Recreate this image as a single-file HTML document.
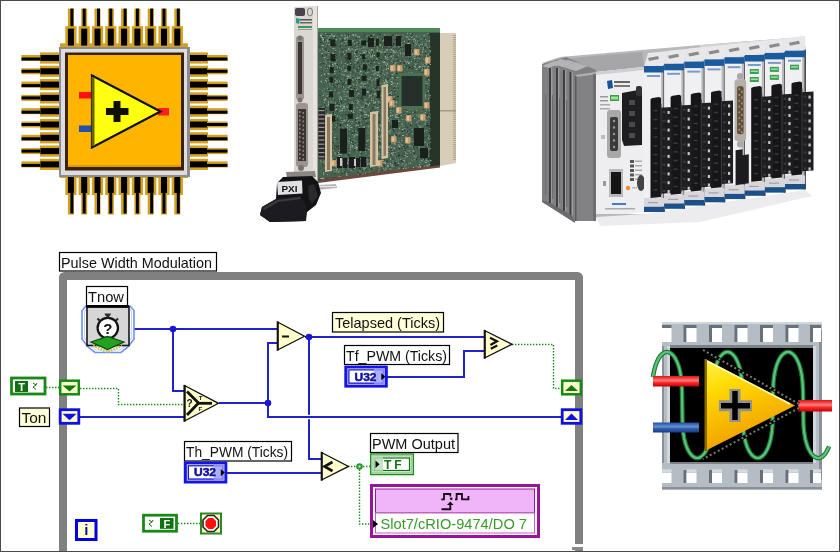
<!DOCTYPE html>
<html><head><meta charset="utf-8"><style>
html,body{margin:0;padding:0;background:#fff;}
#c{position:relative;width:840px;height:552px;overflow:hidden;background:#fff;}
svg{position:absolute;left:0;top:0;will-change:transform;}
text{font-family:"Liberation Sans",sans-serif;}
</style></head><body><div id="c">
<svg width="840" height="552" viewBox="0 0 840 552">
<g id="pxi">
<polygon points="440,33 456,33 456,163 440,166" fill="#d8cdb8"/>
<rect x="453" y="35.0" width="3" height="1" fill="#b0a080"/>
<rect x="453" y="37.1" width="3" height="1" fill="#b0a080"/>
<rect x="453" y="39.2" width="3" height="1" fill="#b0a080"/>
<rect x="453" y="41.3" width="3" height="1" fill="#b0a080"/>
<rect x="453" y="43.4" width="3" height="1" fill="#b0a080"/>
<rect x="453" y="45.5" width="3" height="1" fill="#b0a080"/>
<rect x="453" y="47.6" width="3" height="1" fill="#b0a080"/>
<rect x="453" y="49.7" width="3" height="1" fill="#b0a080"/>
<rect x="453" y="51.8" width="3" height="1" fill="#b0a080"/>
<rect x="453" y="53.9" width="3" height="1" fill="#b0a080"/>
<rect x="453" y="56.0" width="3" height="1" fill="#b0a080"/>
<rect x="453" y="58.1" width="3" height="1" fill="#b0a080"/>
<rect x="453" y="60.2" width="3" height="1" fill="#b0a080"/>
<rect x="453" y="62.3" width="3" height="1" fill="#b0a080"/>
<rect x="453" y="64.4" width="3" height="1" fill="#b0a080"/>
<rect x="453" y="66.5" width="3" height="1" fill="#b0a080"/>
<rect x="453" y="68.6" width="3" height="1" fill="#b0a080"/>
<rect x="453" y="70.7" width="3" height="1" fill="#b0a080"/>
<rect x="453" y="72.8" width="3" height="1" fill="#b0a080"/>
<rect x="453" y="74.9" width="3" height="1" fill="#b0a080"/>
<rect x="453" y="77.0" width="3" height="1" fill="#b0a080"/>
<rect x="453" y="79.1" width="3" height="1" fill="#b0a080"/>
<rect x="453" y="81.2" width="3" height="1" fill="#b0a080"/>
<rect x="453" y="83.3" width="3" height="1" fill="#b0a080"/>
<rect x="453" y="85.4" width="3" height="1" fill="#b0a080"/>
<rect x="453" y="87.5" width="3" height="1" fill="#b0a080"/>
<rect x="453" y="89.6" width="3" height="1" fill="#b0a080"/>
<rect x="453" y="91.7" width="3" height="1" fill="#b0a080"/>
<rect x="453" y="93.8" width="3" height="1" fill="#b0a080"/>
<rect x="453" y="95.9" width="3" height="1" fill="#b0a080"/>
<rect x="453" y="98.0" width="3" height="1" fill="#b0a080"/>
<rect x="453" y="100.1" width="3" height="1" fill="#b0a080"/>
<rect x="453" y="102.2" width="3" height="1" fill="#b0a080"/>
<rect x="453" y="104.3" width="3" height="1" fill="#b0a080"/>
<rect x="453" y="106.4" width="3" height="1" fill="#b0a080"/>
<rect x="453" y="108.5" width="3" height="1" fill="#b0a080"/>
<rect x="453" y="110.6" width="3" height="1" fill="#b0a080"/>
<rect x="453" y="112.7" width="3" height="1" fill="#b0a080"/>
<rect x="453" y="114.8" width="3" height="1" fill="#b0a080"/>
<rect x="453" y="116.9" width="3" height="1" fill="#b0a080"/>
<rect x="453" y="119.0" width="3" height="1" fill="#b0a080"/>
<rect x="453" y="121.1" width="3" height="1" fill="#b0a080"/>
<rect x="453" y="123.2" width="3" height="1" fill="#b0a080"/>
<rect x="453" y="125.3" width="3" height="1" fill="#b0a080"/>
<rect x="453" y="127.4" width="3" height="1" fill="#b0a080"/>
<rect x="453" y="129.5" width="3" height="1" fill="#b0a080"/>
<rect x="453" y="131.6" width="3" height="1" fill="#b0a080"/>
<rect x="453" y="133.7" width="3" height="1" fill="#b0a080"/>
<rect x="453" y="135.8" width="3" height="1" fill="#b0a080"/>
<rect x="453" y="137.9" width="3" height="1" fill="#b0a080"/>
<rect x="453" y="140.0" width="3" height="1" fill="#b0a080"/>
<rect x="453" y="142.1" width="3" height="1" fill="#b0a080"/>
<rect x="453" y="144.2" width="3" height="1" fill="#b0a080"/>
<rect x="453" y="146.3" width="3" height="1" fill="#b0a080"/>
<rect x="453" y="148.4" width="3" height="1" fill="#b0a080"/>
<rect x="453" y="150.5" width="3" height="1" fill="#b0a080"/>
<rect x="453" y="152.6" width="3" height="1" fill="#b0a080"/>
<rect x="453" y="154.7" width="3" height="1" fill="#b0a080"/>
<rect x="453" y="156.8" width="3" height="1" fill="#b0a080"/>
<rect x="453" y="158.9" width="3" height="1" fill="#b0a080"/>
<rect x="440" y="110" width="16" height="1.5" fill="#a89880"/>
<polygon points="318,28 440,28 440,166 318,182" fill="#46624e"/>
<polygon points="318,28 440,28 440,32 318,32" fill="#4e8a56"/>
<polygon points="318,179 440,164 440,167.5 318,183" fill="#6a4a3e"/>
<polygon points="430,33 440,33 440,165 430,166.5" fill="#26342a"/>
<path fill="#8fa896" d="M367.1 42.8h1v1.5h-1zM335.8 58.3h1v1h-1zM372.8 115.0h1v1h-1zM392.0 81.0h1v1h-1zM426.9 46.9h1v1h-1zM408.2 167.2h1v1h-1zM409.7 52.4h1v1.5h-1zM418.6 98.0h1v1h-1zM365.2 85.7h1v1h-1zM402.9 148.8h1v1h-1zM367.4 77.2h1v1.5h-1zM409.1 118.0h1v1h-1zM329.1 67.6h1v1h-1zM413.2 150.2h1v1h-1zM366.2 140.0h1.5v1.5h-1.5zM345.1 68.2h1.5v1h-1.5zM386.7 156.3h1.5v1.5h-1.5zM321.6 119.8h1.5v1h-1.5zM422.4 76.8h1v1.5h-1zM404.3 74.8h1.5v1h-1.5zM409.1 136.3h1v1.5h-1zM389.8 130.4h1v1h-1zM359.9 52.9h1v1h-1zM411.9 38.8h1.5v1h-1.5zM347.2 124.0h1v1h-1zM359.4 39.7h1.5v1h-1.5zM400.4 66.8h1v1h-1zM378.0 89.3h1v1h-1zM338.5 176.0h1v1h-1zM388.1 43.7h1v1h-1zM367.4 106.3h1v1h-1zM329.6 167.2h1v1.5h-1zM396.0 101.3h1v1.5h-1zM405.4 85.6h1.5v1h-1.5zM392.2 82.6h1v1.5h-1zM340.3 135.2h1v1h-1zM352.3 33.9h1v1.5h-1zM392.7 151.9h1.5v1h-1.5zM339.5 37.9h1v1.5h-1zM418.4 116.8h1.5v1h-1.5zM388.8 130.4h1.5v1h-1.5zM353.5 136.3h1v1.5h-1zM385.3 80.5h1v1h-1zM365.1 55.7h1v1h-1zM368.1 104.0h1v1.5h-1zM409.0 78.2h1.5v1h-1.5zM398.3 144.1h1v1.5h-1zM393.2 96.2h1.5v1h-1.5zM331.5 83.2h1v1h-1zM356.0 59.7h1.5v1.5h-1.5zM355.1 71.2h1v1h-1zM426.9 151.2h1v1h-1zM358.7 116.9h1v1.5h-1zM342.1 160.8h1.5v1h-1.5zM364.6 50.0h1v1h-1zM346.7 39.3h1v1h-1zM394.2 45.5h1v1.5h-1zM322.3 131.9h1v1.5h-1zM420.3 130.9h1v1.5h-1zM398.5 67.7h1.5v1h-1.5zM331.4 143.2h1v1h-1zM395.6 34.7h1.5v1h-1.5zM382.2 73.0h1v1h-1zM419.9 148.5h1.5v1h-1.5zM345.6 106.2h1v1.5h-1zM340.4 97.0h1.5v1h-1.5zM378.8 128.5h1v1.5h-1zM321.7 177.7h1.5v1.5h-1.5zM388.5 65.5h1v1h-1zM327.2 151.3h1v1h-1zM339.9 109.9h1v1h-1zM377.1 163.5h1v1h-1zM419.0 85.0h1v1h-1zM394.8 114.6h1.5v1h-1.5zM329.0 82.1h1.5v1h-1.5zM375.0 65.2h1.5v1h-1.5zM410.6 122.3h1v1h-1zM389.4 133.3h1v1h-1zM356.8 86.8h1v1h-1zM404.5 49.0h1v1h-1zM330.3 45.8h1v1.5h-1zM410.5 59.9h1v1.5h-1zM380.1 136.5h1v1.5h-1zM421.1 107.1h1v1h-1zM364.1 135.1h1v1h-1zM414.8 42.6h1.5v1h-1.5zM412.4 53.4h1v1.5h-1zM371.2 140.1h1v1h-1zM358.9 126.4h1v1h-1zM399.7 105.7h1v1h-1zM341.0 98.6h1v1.5h-1zM379.5 44.5h1.5v1.5h-1.5zM380.9 94.9h1v1.5h-1zM393.5 136.1h1v1h-1zM353.3 84.0h1v1h-1zM396.6 42.8h1v1h-1zM362.3 167.2h1.5v1h-1.5zM402.9 146.6h1v1h-1zM330.7 139.8h1v1.5h-1zM333.9 34.9h1v1.5h-1zM320.0 154.0h1v1.5h-1zM388.3 154.6h1.5v1h-1.5zM382.5 160.1h1.5v1h-1.5zM406.4 153.2h1v1h-1zM387.3 95.8h1v1h-1zM428.2 155.4h1v1h-1zM397.4 67.4h1v1h-1zM417.8 139.3h1v1h-1zM413.9 140.7h1v1h-1zM347.6 105.5h1v1.5h-1zM390.4 89.5h1v1h-1zM429.7 117.6h1v1h-1zM391.0 55.4h1v1.5h-1zM341.0 35.1h1.5v1h-1.5zM319.4 66.5h1v1h-1zM365.3 100.1h1v1h-1zM345.7 69.9h1.5v1h-1.5zM404.4 44.9h1v1h-1zM376.7 53.1h1v1h-1zM330.9 150.5h1v1h-1zM325.3 33.0h1v1h-1zM423.6 34.7h1.5v1h-1.5zM386.1 65.2h1v1.5h-1zM349.3 152.2h1v1.5h-1zM323.2 41.1h1v1h-1zM406.8 110.8h1.5v1.5h-1.5zM385.7 79.4h1.5v1h-1.5zM390.4 76.6h1.5v1h-1.5zM347.8 105.1h1.5v1.5h-1.5zM371.6 142.6h1v1h-1zM393.3 126.6h1v1h-1zM333.3 36.2h1.5v1h-1.5zM428.1 90.2h1v1h-1zM349.3 41.7h1v1.5h-1zM350.2 164.0h1v1h-1zM384.0 112.2h1v1h-1zM345.3 95.8h1.5v1h-1.5zM384.1 59.6h1.5v1h-1.5zM395.7 53.9h1v1h-1zM405.6 167.7h1v1h-1zM359.4 145.5h1v1h-1zM425.6 63.3h1v1h-1zM368.8 62.8h1v1h-1zM354.6 157.0h1v1h-1zM408.2 56.6h1v1h-1zM343.1 167.3h1v1h-1zM421.2 118.3h1v1.5h-1zM381.5 61.6h1v1h-1zM405.6 92.7h1.5v1h-1.5zM380.6 86.1h1v1h-1zM374.3 93.5h1v1.5h-1zM371.1 157.0h1v1.5h-1zM321.7 154.6h1v1h-1zM425.2 44.0h1v1h-1zM377.5 100.7h1v1h-1zM396.4 102.0h1v1.5h-1zM348.0 75.3h1v1.5h-1zM384.9 168.7h1.5v1h-1.5zM394.2 128.2h1v1h-1zM345.9 173.0h1v1.5h-1zM350.3 71.7h1v1h-1zM357.6 124.9h1.5v1.5h-1.5zM356.7 78.4h1v1h-1zM355.8 125.0h1.5v1h-1.5zM356.5 133.9h1.5v1h-1.5zM425.4 62.4h1v1h-1zM371.3 97.7h1v1.5h-1zM349.1 137.9h1v1h-1zM428.1 74.6h1v1h-1zM383.1 161.9h1.5v1h-1.5zM357.4 36.5h1v1h-1zM368.2 115.8h1v1h-1zM332.1 59.0h1.5v1.5h-1.5zM363.8 114.4h1.5v1h-1.5zM427.1 143.8h1.5v1h-1.5zM420.9 131.1h1.5v1h-1.5zM408.8 139.4h1v1h-1zM353.6 50.5h1v1h-1zM343.2 65.5h1v1h-1zM358.0 78.1h1.5v1.5h-1.5zM395.7 49.4h1v1h-1zM421.6 106.9h1.5v1.5h-1.5zM362.6 78.2h1v1h-1zM323.8 88.6h1v1h-1zM339.2 80.6h1v1.5h-1zM411.6 146.7h1v1h-1zM367.3 104.4h1.5v1h-1.5zM412.3 140.9h1v1h-1zM367.3 91.5h1.5v1h-1.5zM332.5 158.5h1v1h-1zM411.2 61.1h1v1h-1zM395.8 108.2h1.5v1h-1.5zM398.0 162.4h1v1.5h-1zM407.3 121.4h1v1h-1zM345.7 119.3h1v1h-1zM329.2 84.5h1v1h-1zM323.2 171.9h1v1h-1zM396.3 40.7h1v1h-1zM422.4 82.5h1.5v1h-1.5zM355.7 45.8h1v1h-1zM363.4 168.6h1.5v1h-1.5zM378.2 71.5h1v1.5h-1zM425.2 93.7h1v1h-1zM418.9 66.4h1.5v1h-1.5zM421.8 119.6h1.5v1.5h-1.5zM390.1 157.7h1v1h-1zM325.5 139.0h1v1h-1zM424.3 114.7h1v1.5h-1zM396.2 107.9h1v1.5h-1zM330.8 122.2h1v1.5h-1zM352.1 133.9h1v1h-1zM398.7 127.6h1.5v1.5h-1.5zM378.7 76.0h1.5v1h-1.5zM321.5 140.2h1v1h-1zM421.0 160.1h1.5v1h-1.5zM357.0 76.8h1v1h-1zM353.1 165.0h1v1h-1zM427.8 116.1h1v1h-1zM332.8 109.4h1.5v1h-1.5zM403.1 128.4h1v1h-1zM377.6 139.1h1v1.5h-1zM356.0 56.1h1.5v1h-1.5zM422.3 83.1h1v1.5h-1zM420.4 156.3h1v1h-1zM416.6 40.1h1.5v1.5h-1.5zM357.6 174.1h1v1h-1zM339.8 105.8h1v1h-1zM394.9 151.6h1.5v1h-1.5zM343.9 34.8h1.5v1h-1.5zM373.3 94.8h1v1h-1zM425.0 153.3h1.5v1h-1.5zM386.5 81.7h1.5v1.5h-1.5zM351.4 164.6h1v1.5h-1zM429.7 95.1h1v1h-1zM419.4 44.1h1.5v1h-1.5zM404.4 104.0h1.5v1h-1.5zM363.4 137.6h1v1h-1zM357.4 67.7h1.5v1h-1.5zM334.1 108.0h1v1.5h-1zM347.4 75.8h1v1.5h-1zM359.5 49.6h1v1h-1zM319.2 50.2h1.5v1h-1.5zM422.4 154.4h1v1h-1zM387.1 155.0h1v1.5h-1zM396.2 51.1h1v1h-1zM384.6 116.9h1v1h-1zM403.9 40.8h1v1.5h-1zM350.8 89.0h1.5v1h-1.5zM372.8 93.9h1.5v1h-1.5zM334.6 39.2h1v1h-1zM410.5 91.2h1v1.5h-1zM392.6 55.2h1.5v1h-1.5zM408.5 43.0h1v1h-1zM372.6 170.2h1v1h-1zM341.0 128.9h1v1h-1zM404.3 165.8h1v1h-1zM387.7 37.2h1v1h-1zM380.2 140.0h1v1h-1zM376.2 94.6h1v1h-1zM349.6 148.7h1v1.5h-1zM383.5 82.3h1v1h-1zM392.7 50.0h1.5v1h-1.5zM320.6 80.9h1v1.5h-1zM363.4 131.3h1v1h-1zM337.5 161.7h1.5v1.5h-1.5zM334.9 63.0h1v1.5h-1zM366.1 167.1h1v1h-1zM391.6 164.0h1v1h-1zM364.6 86.7h1v1h-1zM378.4 101.3h1v1.5h-1zM335.8 104.9h1.5v1h-1.5zM385.5 63.3h1v1h-1zM387.7 97.1h1v1.5h-1zM408.7 61.7h1v1.5h-1zM379.3 50.3h1v1.5h-1zM348.2 54.9h1v1h-1zM323.3 174.3h1v1h-1zM411.1 37.0h1v1h-1zM326.8 173.9h1v1h-1zM371.9 158.0h1.5v1h-1.5zM396.8 69.4h1v1h-1zM322.9 108.2h1v1.5h-1zM428.5 58.7h1v1.5h-1zM383.6 170.0h1v1h-1zM347.0 76.0h1.5v1h-1.5zM341.4 110.0h1.5v1h-1.5zM336.5 166.8h1.5v1h-1.5zM390.6 118.8h1v1h-1zM369.4 52.6h1v1h-1zM415.8 109.8h1.5v1h-1.5zM330.7 101.1h1v1.5h-1zM368.9 52.5h1v1.5h-1zM326.6 154.0h1.5v1h-1.5zM411.8 122.9h1v1.5h-1zM352.3 40.3h1.5v1h-1.5zM320.4 134.2h1.5v1.5h-1.5zM372.6 87.9h1v1h-1zM400.2 80.1h1v1h-1zM344.8 88.6h1v1.5h-1zM389.1 35.4h1v1h-1zM425.7 109.6h1v1h-1zM401.5 55.0h1v1h-1zM352.3 93.9h1v1h-1zM402.8 80.8h1v1.5h-1zM395.5 68.4h1.5v1h-1.5zM424.0 130.7h1v1h-1zM343.2 151.1h1v1h-1zM386.8 56.9h1v1h-1zM331.4 115.7h1.5v1h-1.5zM377.5 54.8h1v1h-1zM391.0 80.9h1v1.5h-1zM328.1 148.5h1v1h-1zM331.1 59.9h1v1h-1zM400.4 78.0h1v1h-1zM384.5 105.7h1.5v1h-1.5zM386.2 35.8h1v1h-1zM357.3 88.6h1v1h-1zM332.5 53.2h1v1h-1zM425.7 75.3h1.5v1h-1.5zM418.3 116.0h1v1h-1zM421.3 84.5h1v1h-1zM323.0 152.0h1v1h-1zM424.2 63.3h1v1h-1zM331.3 124.4h1.5v1.5h-1.5zM344.8 41.8h1v1h-1zM343.0 51.5h1v1.5h-1zM330.9 55.0h1.5v1h-1.5zM398.4 111.0h1.5v1.5h-1.5zM394.8 143.8h1v1h-1zM376.8 121.2h1v1.5h-1zM332.2 57.1h1.5v1h-1.5zM386.7 165.3h1v1h-1zM404.5 96.7h1.5v1h-1.5zM328.6 65.9h1.5v1h-1.5zM423.0 93.7h1v1h-1zM408.3 39.0h1.5v1h-1.5zM418.4 114.8h1v1h-1zM358.7 76.8h1v1h-1zM410.2 35.8h1v1h-1zM417.0 96.4h1.5v1h-1.5zM365.2 125.8h1v1h-1zM361.4 65.5h1v1.5h-1zM359.3 154.3h1v1.5h-1zM325.1 152.0h1v1h-1zM366.0 103.4h1.5v1h-1.5zM420.1 65.9h1v1h-1zM403.8 125.4h1v1.5h-1zM338.5 170.4h1v1.5h-1zM358.6 58.3h1v1h-1zM411.5 96.2h1v1h-1zM425.2 57.3h1v1h-1zM359.9 151.3h1v1.5h-1zM413.0 39.0h1v1h-1zM370.0 77.0h1v1.5h-1zM397.9 42.4h1v1h-1zM389.4 92.4h1.5v1h-1.5zM387.9 152.1h1v1h-1zM424.3 65.5h1v1.5h-1zM396.2 52.5h1v1.5h-1zM360.8 153.0h1v1h-1zM387.5 98.4h1v1h-1zM389.5 168.5h1v1h-1zM427.5 137.1h1v1.5h-1zM427.9 53.7h1v1h-1zM344.2 71.1h1.5v1h-1.5zM424.9 39.1h1v1h-1zM423.9 78.6h1v1h-1zM332.6 48.1h1.5v1h-1.5zM326.9 126.0h1.5v1h-1.5zM364.2 64.6h1.5v1.5h-1.5zM422.4 48.9h1.5v1h-1.5zM376.7 115.3h1v1.5h-1zM424.6 95.3h1.5v1.5h-1.5zM327.9 37.6h1v1h-1zM352.7 66.0h1.5v1h-1.5zM344.2 54.0h1v1h-1zM399.9 158.8h1v1h-1zM363.0 52.1h1v1h-1zM427.9 160.8h1v1h-1zM398.9 112.7h1.5v1h-1.5zM320.6 161.3h1v1h-1zM343.4 105.5h1v1h-1zM400.0 80.2h1v1h-1zM409.2 97.4h1.5v1h-1.5zM403.1 97.1h1v1.5h-1zM358.1 139.2h1v1h-1zM417.7 142.2h1v1h-1zM391.5 152.0h1v1.5h-1zM373.2 102.4h1.5v1h-1.5zM386.6 145.1h1v1.5h-1zM369.1 102.5h1v1.5h-1zM339.9 154.0h1v1h-1zM362.5 49.9h1v1.5h-1zM397.2 109.0h1v1.5h-1zM361.9 53.6h1.5v1h-1.5zM393.4 147.2h1.5v1h-1.5zM392.1 154.1h1.5v1.5h-1.5zM344.7 103.5h1v1h-1zM322.2 37.1h1v1.5h-1zM397.9 55.3h1v1h-1zM417.0 130.7h1.5v1.5h-1.5zM399.0 67.6h1v1h-1zM326.1 113.9h1.5v1h-1.5zM359.7 120.3h1v1h-1zM379.2 146.1h1v1h-1zM364.4 99.0h1v1h-1zM363.5 149.0h1v1.5h-1zM340.7 158.3h1v1h-1zM346.8 124.5h1.5v1h-1.5z"/>
<path fill="#9ab4a0" d="M329.4 117.3h1v1h-1zM335.0 50.0h1v1h-1zM377.3 154.4h1.5v1h-1.5zM396.2 114.1h1.5v1h-1.5zM359.2 130.3h1v1h-1zM334.9 160.1h1.5v1h-1.5zM364.1 108.3h1.5v1h-1.5zM350.0 146.6h1v1.5h-1zM348.9 35.4h1v1h-1zM334.5 108.4h1v1h-1zM370.8 49.5h1v1h-1zM377.6 93.7h1v1h-1zM339.4 97.5h1v1h-1zM340.9 140.8h1v1.5h-1zM350.2 161.9h1v1h-1zM420.5 38.4h1v1h-1zM375.9 57.7h1v1h-1zM357.6 55.8h1v1h-1zM418.3 120.2h1v1h-1zM428.0 98.2h1v1h-1zM428.9 109.4h1v1h-1zM321.5 33.4h1v1h-1zM320.6 149.8h1v1.5h-1zM396.8 37.2h1v1h-1zM423.2 63.8h1v1h-1zM355.4 59.8h1v1h-1zM346.9 64.0h1v1h-1zM420.6 116.8h1v1h-1zM391.6 76.9h1.5v1.5h-1.5zM389.6 36.9h1v1h-1zM406.6 155.9h1.5v1h-1.5zM342.6 128.4h1.5v1h-1.5zM394.9 49.6h1v1h-1zM414.1 66.0h1.5v1h-1.5zM424.1 154.0h1v1.5h-1zM397.4 45.3h1v1h-1zM397.8 121.1h1.5v1h-1.5zM347.9 48.5h1.5v1.5h-1.5zM426.4 62.7h1v1h-1zM353.6 111.6h1v1h-1zM377.0 130.5h1v1h-1zM384.0 138.0h1v1h-1zM415.6 121.9h1v1h-1zM392.0 103.8h1.5v1h-1.5zM378.3 89.0h1v1h-1zM426.0 55.3h1v1.5h-1zM385.5 96.5h1.5v1h-1.5zM421.1 118.9h1v1h-1zM373.9 102.5h1v1h-1zM350.4 127.0h1.5v1h-1.5zM377.8 111.3h1.5v1h-1.5zM379.1 129.5h1v1.5h-1zM332.4 52.6h1v1h-1zM408.3 132.3h1v1h-1zM409.6 80.6h1v1h-1zM399.7 52.5h1.5v1h-1.5zM419.2 45.7h1v1.5h-1zM359.3 72.7h1v1h-1zM345.8 41.1h1v1h-1zM363.5 170.5h1v1h-1zM424.9 51.1h1v1h-1zM339.2 156.9h1v1h-1zM324.4 162.8h1v1h-1zM425.3 43.3h1v1h-1zM349.3 58.2h1v1h-1zM429.4 64.0h1.5v1h-1.5zM392.6 104.5h1v1.5h-1zM413.3 50.4h1v1h-1zM361.1 107.0h1.5v1h-1.5zM428.0 57.7h1v1h-1zM356.0 89.7h1v1h-1zM331.2 153.1h1v1.5h-1zM330.7 40.8h1v1h-1zM362.7 105.8h1v1h-1zM387.6 128.1h1v1h-1zM423.4 87.8h1.5v1h-1.5zM404.5 60.6h1v1h-1zM415.2 39.7h1v1.5h-1zM410.6 138.6h1v1h-1zM369.5 146.0h1v1h-1zM373.8 129.2h1v1h-1zM323.9 73.5h1.5v1.5h-1.5zM349.6 84.6h1.5v1h-1.5zM390.9 153.0h1.5v1h-1.5zM322.1 106.4h1.5v1h-1.5zM408.3 162.7h1v1h-1zM408.3 94.4h1v1h-1zM414.3 81.8h1.5v1.5h-1.5zM420.2 139.0h1.5v1h-1.5zM346.0 162.1h1.5v1h-1.5zM386.3 49.3h1.5v1.5h-1.5zM339.8 105.7h1.5v1h-1.5zM397.6 133.2h1.5v1h-1.5zM386.3 167.6h1v1h-1zM410.6 75.2h1v1h-1zM391.8 114.9h1.5v1h-1.5zM354.8 62.2h1.5v1h-1.5zM392.4 57.7h1v1.5h-1zM345.1 37.2h1.5v1.5h-1.5zM368.3 66.4h1v1h-1zM375.5 100.2h1v1.5h-1zM337.9 157.1h1v1h-1zM372.0 98.3h1.5v1h-1.5zM421.9 68.2h1v1h-1zM353.6 43.2h1.5v1h-1.5zM354.0 135.1h1v1h-1zM368.6 162.7h1v1h-1zM351.0 142.0h1v1h-1zM360.6 82.7h1.5v1h-1.5zM400.0 82.1h1v1h-1zM384.6 92.6h1v1.5h-1zM327.1 134.6h1v1.5h-1zM351.0 103.3h1.5v1h-1.5zM344.3 41.2h1v1h-1zM422.3 133.8h1v1.5h-1zM382.6 158.2h1.5v1h-1.5zM384.4 51.4h1.5v1h-1.5zM378.2 151.5h1.5v1h-1.5zM364.0 130.9h1v1.5h-1zM334.7 55.8h1v1h-1zM395.4 91.8h1v1h-1zM383.2 167.7h1v1h-1zM427.6 91.0h1v1h-1zM356.4 48.3h1v1.5h-1zM362.3 86.3h1v1h-1zM321.3 131.2h1v1h-1zM382.5 104.2h1v1.5h-1zM407.8 47.1h1v1.5h-1zM353.5 156.4h1v1h-1zM385.8 110.0h1v1h-1zM368.8 168.5h1v1h-1zM386.9 37.6h1v1h-1zM356.4 42.3h1v1h-1zM324.6 134.8h1v1h-1zM342.3 168.5h1v1h-1zM411.6 128.9h1.5v1h-1.5zM390.5 92.5h1v1h-1zM427.8 148.4h1.5v1h-1.5zM340.9 62.5h1v1h-1zM398.9 103.7h1v1h-1zM352.9 110.3h1v1h-1zM397.2 117.0h1.5v1h-1.5zM377.0 74.6h1.5v1.5h-1.5zM390.7 147.1h1.5v1h-1.5zM392.6 141.1h1.5v1h-1.5zM368.0 115.0h1v1h-1zM379.3 123.9h1v1h-1zM384.0 74.2h1v1h-1zM407.9 99.9h1v1h-1zM370.3 132.6h1v1h-1zM370.8 94.5h1.5v1h-1.5zM370.8 112.0h1v1h-1zM414.3 98.7h1.5v1h-1.5zM364.4 167.5h1.5v1.5h-1.5zM418.4 66.1h1.5v1.5h-1.5zM411.9 133.2h1v1h-1zM326.9 88.0h1v1h-1zM413.7 94.7h1v1.5h-1zM405.4 136.6h1v1h-1zM327.1 142.1h1v1.5h-1zM361.2 162.7h1v1.5h-1zM366.4 35.8h1.5v1h-1.5zM336.0 108.9h1v1h-1zM334.7 79.7h1.5v1h-1.5zM352.7 84.4h1v1h-1zM381.3 99.0h1v1.5h-1zM428.1 57.9h1v1h-1zM349.4 49.7h1v1h-1zM406.0 130.8h1v1h-1zM327.8 157.4h1.5v1h-1.5zM348.5 67.0h1.5v1h-1.5zM320.8 80.8h1v1h-1zM337.6 82.4h1v1h-1zM389.8 80.0h1v1.5h-1zM348.4 128.8h1.5v1h-1.5zM360.1 144.1h1v1.5h-1zM403.9 105.6h1v1h-1zM380.6 83.1h1v1h-1zM420.4 104.8h1v1h-1zM391.0 39.2h1v1.5h-1zM385.9 80.7h1v1.5h-1zM378.4 43.4h1v1h-1zM359.8 115.0h1v1.5h-1zM385.0 79.6h1v1h-1zM393.3 148.3h1.5v1h-1.5zM330.3 123.6h1.5v1.5h-1.5zM327.1 67.8h1v1h-1zM422.5 84.2h1v1h-1zM400.5 106.7h1v1h-1zM326.6 35.3h1v1h-1zM326.1 167.7h1v1h-1zM411.6 73.2h1.5v1.5h-1.5zM407.3 43.1h1.5v1h-1.5zM399.2 131.8h1v1h-1zM411.5 159.3h1v1.5h-1zM344.6 69.3h1v1h-1zM328.6 44.0h1.5v1h-1.5zM388.3 150.8h1v1h-1zM427.0 67.8h1v1h-1zM386.3 117.5h1v1h-1zM348.0 109.0h1.5v1.5h-1.5zM359.5 143.9h1.5v1h-1.5zM375.5 99.1h1v1h-1zM418.5 146.6h1v1h-1zM372.1 41.3h1v1h-1zM355.3 34.2h1v1.5h-1zM379.8 147.1h1v1h-1zM383.8 81.8h1.5v1.5h-1.5zM411.6 95.3h1v1h-1zM371.8 163.1h1v1h-1zM320.9 36.2h1v1h-1zM323.7 99.2h1.5v1.5h-1.5zM351.0 110.5h1v1h-1zM339.9 176.1h1v1h-1zM409.9 152.2h1v1h-1zM374.0 55.0h1v1h-1zM426.6 60.3h1.5v1h-1.5zM331.3 33.7h1v1.5h-1zM381.5 51.6h1v1.5h-1zM385.3 100.8h1v1h-1zM426.3 119.7h1v1h-1zM331.3 130.7h1.5v1h-1.5zM383.3 131.5h1v1h-1zM327.3 112.9h1v1.5h-1zM382.0 165.9h1v1h-1zM389.7 115.0h1.5v1.5h-1.5zM375.4 107.8h1v1.5h-1zM368.5 96.6h1.5v1h-1.5zM417.3 42.6h1v1h-1zM408.6 53.3h1.5v1h-1.5zM383.9 62.0h1.5v1h-1.5zM415.6 155.6h1v1h-1zM425.8 159.8h1.5v1.5h-1.5zM415.9 76.0h1v1.5h-1zM409.2 93.4h1v1h-1zM380.8 135.4h1v1h-1zM370.6 34.7h1v1h-1zM408.6 48.6h1v1h-1zM373.3 51.5h1v1h-1zM411.6 90.7h1v1h-1zM412.9 86.4h1v1h-1zM378.5 169.6h1v1h-1zM356.2 85.1h1v1h-1zM400.4 53.4h1v1h-1zM404.9 108.0h1v1h-1zM387.5 165.3h1.5v1.5h-1.5zM423.5 58.7h1v1.5h-1zM363.3 127.3h1.5v1.5h-1.5zM401.4 155.2h1v1h-1zM382.7 119.2h1v1h-1zM390.0 168.1h1v1h-1zM413.5 117.9h1.5v1h-1.5zM353.1 111.6h1v1.5h-1zM338.5 153.5h1v1.5h-1zM394.5 62.8h1v1.5h-1zM365.6 51.3h1v1h-1zM425.4 159.7h1v1h-1zM369.1 120.1h1.5v1h-1.5zM356.6 107.3h1.5v1h-1.5zM345.6 70.4h1v1h-1zM345.0 133.3h1v1h-1zM426.6 164.9h1.5v1.5h-1.5zM420.0 153.6h1v1h-1zM401.6 140.0h1v1h-1zM357.1 161.2h1v1h-1zM391.4 149.9h1v1h-1zM356.8 147.1h1.5v1h-1.5zM364.4 104.4h1v1h-1zM393.6 50.0h1v1.5h-1zM360.7 86.3h1v1.5h-1zM393.9 143.2h1.5v1h-1.5zM417.7 76.0h1.5v1h-1.5zM401.8 119.1h1v1h-1zM366.9 90.9h1v1.5h-1zM334.5 152.3h1v1h-1zM408.1 138.6h1v1h-1zM340.3 117.5h1v1.5h-1zM377.9 78.7h1v1h-1zM370.6 37.3h1.5v1.5h-1.5zM424.0 72.2h1v1h-1zM384.9 55.9h1v1h-1zM411.6 53.7h1v1h-1zM338.8 44.3h1v1.5h-1zM368.7 163.5h1v1h-1zM374.6 152.2h1v1h-1zM428.5 138.4h1.5v1h-1.5zM348.5 140.8h1v1.5h-1zM419.9 136.6h1v1h-1zM427.6 66.1h1.5v1h-1.5zM372.6 34.6h1.5v1h-1.5zM401.5 56.0h1v1h-1zM426.7 82.7h1.5v1h-1.5zM409.7 59.9h1v1h-1zM375.9 137.1h1v1h-1zM327.8 52.0h1.5v1h-1.5zM398.3 46.3h1v1h-1zM374.9 93.3h1v1h-1zM368.3 125.6h1v1.5h-1zM403.8 76.6h1v1h-1zM334.5 114.1h1v1h-1zM355.5 147.4h1.5v1h-1.5zM404.5 164.2h1v1h-1zM372.8 100.3h1.5v1h-1.5zM345.9 67.3h1v1h-1zM326.8 129.2h1v1.5h-1zM422.1 50.9h1v1.5h-1zM327.4 73.1h1v1h-1zM394.9 52.2h1.5v1h-1.5zM380.4 125.4h1.5v1h-1.5zM321.2 74.9h1v1h-1zM365.5 113.9h1v1h-1zM341.2 73.8h1v1h-1zM351.7 145.2h1.5v1.5h-1.5zM360.6 132.3h1v1h-1zM422.0 148.3h1.5v1h-1.5zM335.0 161.3h1v1h-1zM328.9 90.8h1v1h-1zM359.4 170.5h1v1h-1zM398.8 145.8h1.5v1.5h-1.5zM374.1 62.1h1v1h-1zM407.0 33.1h1v1h-1zM385.4 130.9h1v1h-1zM329.1 116.2h1.5v1h-1.5zM329.6 122.1h1v1h-1zM372.0 70.3h1v1h-1zM390.9 80.4h1.5v1h-1.5zM422.1 140.2h1v1.5h-1zM393.8 50.7h1v1h-1zM377.3 58.2h1v1h-1zM415.0 135.0h1v1h-1zM341.2 78.9h1v1h-1zM355.6 145.7h1v1.5h-1zM334.7 160.4h1v1h-1zM398.2 141.8h1.5v1h-1.5zM425.9 130.1h1v1h-1zM346.5 174.6h1v1.5h-1zM365.5 105.8h1v1h-1zM328.8 170.5h1v1h-1zM363.3 62.4h1v1h-1zM423.9 71.4h1v1h-1zM423.6 155.3h1v1h-1zM394.9 58.3h1.5v1h-1.5zM359.6 158.4h1v1h-1zM369.4 156.2h1v1h-1zM393.6 68.5h1v1h-1zM377.2 77.8h1v1h-1zM334.8 55.0h1.5v1.5h-1.5zM346.3 140.5h1v1h-1zM353.2 93.8h1v1h-1zM343.7 53.9h1.5v1h-1.5zM383.9 137.6h1v1h-1zM419.0 58.3h1.5v1h-1.5zM324.8 107.2h1v1h-1zM374.2 113.4h1.5v1h-1.5zM342.0 108.0h1v1h-1zM326.8 143.5h1v1.5h-1zM349.5 124.9h1v1h-1zM397.9 65.1h1.5v1h-1.5zM376.3 67.9h1v1.5h-1zM400.5 115.0h1.5v1h-1.5zM367.4 91.4h1v1.5h-1zM404.3 150.6h1v1h-1zM319.6 62.3h1v1h-1zM386.4 72.6h1.5v1h-1.5zM399.4 42.4h1v1.5h-1zM329.5 60.4h1v1h-1zM405.7 36.5h1.5v1h-1.5zM392.7 51.5h1v1h-1zM344.0 107.2h1v1h-1zM344.2 38.1h1.5v1.5h-1.5zM382.1 92.9h1.5v1h-1.5zM424.6 141.8h1.5v1h-1.5zM364.5 83.1h1v1h-1zM415.1 64.2h1v1h-1zM409.2 95.4h1v1.5h-1zM323.9 102.3h1v1h-1zM418.9 53.8h1v1h-1zM421.9 68.6h1.5v1h-1.5zM400.5 143.4h1v1h-1zM371.9 55.2h1.5v1h-1.5zM422.4 138.8h1v1h-1zM347.9 120.5h1v1.5h-1zM348.5 43.9h1v1h-1zM360.9 74.1h1v1h-1zM407.9 62.6h1.5v1.5h-1.5zM399.5 89.4h1.5v1h-1.5zM326.9 95.5h1.5v1h-1.5zM366.2 42.7h1v1h-1zM421.4 149.9h1v1h-1zM395.4 101.8h1.5v1h-1.5zM382.5 119.3h1.5v1h-1.5z"/>
<path fill="#a8bcaa" d="M417.5 79.4h1.5v1h-1.5zM386.8 100.9h1v1h-1zM401.0 87.0h1.5v1h-1.5zM325.9 42.8h1v1.5h-1zM331.2 119.7h1v1h-1zM401.5 44.5h1v1h-1zM375.7 154.2h1v1h-1zM320.3 177.9h1.5v1h-1.5zM322.8 161.3h1v1h-1zM327.6 54.3h1v1h-1zM420.7 157.1h1v1h-1zM424.4 123.6h1.5v1h-1.5zM391.8 74.2h1.5v1h-1.5zM419.6 166.0h1.5v1.5h-1.5zM420.4 141.7h1v1.5h-1zM341.1 68.4h1v1h-1zM330.3 90.1h1v1h-1zM399.8 60.7h1v1.5h-1zM328.9 123.0h1v1h-1zM361.6 139.0h1v1h-1zM387.9 117.5h1v1.5h-1zM329.2 96.9h1v1h-1zM429.6 129.8h1v1h-1zM336.9 167.5h1v1.5h-1zM377.1 107.1h1.5v1h-1.5zM341.7 122.3h1.5v1h-1.5zM322.0 48.5h1v1h-1zM381.8 131.7h1v1h-1zM376.9 153.4h1.5v1h-1.5zM370.4 129.2h1v1h-1zM424.6 120.2h1v1h-1zM413.8 57.9h1.5v1h-1.5zM333.3 35.6h1v1.5h-1zM354.1 167.3h1.5v1.5h-1.5zM351.5 41.6h1v1h-1zM395.4 76.9h1v1.5h-1zM384.1 145.5h1v1h-1zM384.4 59.1h1v1h-1zM421.7 70.3h1v1.5h-1zM413.3 82.8h1v1h-1zM415.7 68.7h1.5v1h-1.5zM321.8 116.1h1v1h-1zM367.3 160.6h1v1h-1zM385.7 147.1h1.5v1h-1.5zM339.7 152.2h1v1h-1zM364.0 52.2h1v1h-1zM329.6 156.8h1.5v1h-1.5zM373.0 94.3h1v1h-1zM412.5 111.8h1v1h-1zM408.5 41.4h1v1h-1zM416.2 97.9h1v1h-1zM367.3 72.1h1v1h-1zM326.3 78.1h1v1h-1zM405.0 152.4h1v1h-1zM388.9 49.2h1.5v1h-1.5zM343.2 86.2h1v1.5h-1zM373.2 43.3h1v1h-1zM356.0 35.9h1.5v1h-1.5zM363.0 141.5h1v1h-1zM354.4 57.8h1v1h-1zM335.9 164.2h1v1h-1zM384.0 60.8h1v1h-1zM425.2 161.9h1.5v1h-1.5zM414.2 79.7h1.5v1h-1.5zM329.1 125.0h1v1h-1zM339.0 156.1h1v1h-1zM392.1 68.3h1.5v1.5h-1.5zM415.4 156.8h1v1h-1zM372.8 153.3h1v1h-1zM357.9 100.9h1v1h-1zM323.0 38.8h1v1.5h-1zM365.1 150.4h1v1h-1zM412.5 150.4h1.5v1h-1.5zM348.0 48.2h1v1h-1zM424.3 97.1h1v1h-1zM339.8 164.6h1v1.5h-1zM337.0 115.6h1v1h-1zM401.5 144.4h1.5v1h-1.5zM407.1 61.2h1v1h-1zM340.2 121.2h1v1.5h-1zM389.9 159.1h1v1h-1zM370.9 99.8h1v1h-1zM398.5 167.7h1v1.5h-1zM347.5 36.9h1v1h-1zM360.1 56.4h1v1h-1zM383.7 162.6h1.5v1h-1.5zM338.7 92.3h1v1h-1zM345.7 50.2h1.5v1h-1.5zM429.8 50.9h1v1h-1zM400.6 81.9h1.5v1h-1.5zM321.7 45.0h1v1h-1zM356.9 102.4h1v1h-1zM388.1 146.3h1.5v1.5h-1.5zM428.5 164.8h1v1h-1zM351.6 79.1h1v1h-1zM375.0 78.3h1.5v1h-1.5zM345.6 134.7h1v1h-1zM370.3 54.6h1v1h-1zM378.8 65.1h1v1h-1zM368.1 45.1h1v1.5h-1zM404.1 66.2h1v1h-1zM358.3 93.0h1v1.5h-1zM347.1 66.1h1v1h-1zM420.5 107.8h1v1.5h-1zM354.3 140.2h1v1h-1zM412.2 114.8h1v1h-1zM344.8 99.1h1v1h-1zM376.8 49.6h1v1.5h-1zM381.5 46.7h1.5v1h-1.5zM357.1 46.5h1.5v1h-1.5zM366.9 163.4h1v1.5h-1zM381.5 94.9h1v1.5h-1zM334.7 102.6h1v1h-1zM337.9 152.1h1.5v1h-1.5zM360.0 71.0h1.5v1h-1.5zM385.5 57.1h1.5v1.5h-1.5zM375.4 73.2h1v1h-1zM390.2 51.9h1v1h-1zM380.1 51.5h1.5v1h-1.5zM367.8 149.1h1.5v1h-1.5zM341.5 161.6h1v1h-1zM363.5 55.5h1.5v1.5h-1.5zM408.6 150.6h1v1h-1zM378.7 63.1h1v1h-1zM391.0 83.9h1.5v1h-1.5zM388.6 119.8h1v1.5h-1zM384.1 122.8h1v1h-1zM367.9 139.7h1v1h-1zM355.9 118.0h1v1h-1zM346.6 130.4h1v1h-1zM372.5 39.5h1v1h-1zM389.4 106.2h1v1h-1zM346.4 106.5h1.5v1h-1.5zM377.6 143.4h1v1h-1zM325.0 165.5h1v1h-1zM404.8 118.8h1v1h-1zM390.2 109.4h1v1.5h-1zM411.2 71.7h1.5v1h-1.5zM403.4 159.8h1v1.5h-1zM339.1 150.0h1.5v1h-1.5zM409.5 144.9h1v1.5h-1zM364.6 112.3h1v1h-1zM370.2 61.9h1v1h-1zM364.0 52.1h1.5v1h-1.5zM417.8 101.4h1v1h-1zM384.4 101.1h1.5v1h-1.5zM354.9 49.1h1.5v1.5h-1.5zM384.7 83.6h1v1h-1zM366.1 63.2h1.5v1.5h-1.5zM415.8 35.5h1v1.5h-1zM348.7 162.7h1v1.5h-1zM409.9 74.1h1.5v1.5h-1.5zM404.9 155.2h1.5v1h-1.5zM422.3 66.0h1v1h-1zM411.9 36.5h1v1h-1zM391.0 107.3h1v1h-1zM333.9 56.7h1.5v1h-1.5zM421.1 138.0h1.5v1h-1.5zM355.7 134.4h1v1h-1zM395.1 116.2h1.5v1.5h-1.5zM332.4 79.9h1v1.5h-1zM428.6 135.5h1v1h-1zM345.5 82.3h1v1.5h-1zM429.2 130.2h1v1h-1zM334.0 70.9h1v1h-1zM327.9 101.3h1v1.5h-1zM347.1 91.5h1.5v1h-1.5zM378.4 56.5h1v1h-1zM321.0 114.5h1v1h-1zM413.6 155.5h1v1h-1zM424.9 112.0h1v1h-1zM334.4 105.9h1v1.5h-1zM330.6 98.9h1.5v1h-1.5zM332.1 64.1h1v1h-1zM329.4 81.6h1v1h-1zM381.6 159.9h1v1h-1zM323.4 177.7h1v1h-1zM373.3 66.7h1.5v1h-1.5zM383.0 61.7h1v1h-1zM370.1 166.6h1v1.5h-1zM351.8 101.3h1v1h-1zM429.2 164.1h1v1h-1zM327.9 103.5h1v1.5h-1zM420.1 126.4h1.5v1h-1.5zM393.4 72.6h1.5v1h-1.5zM425.4 82.8h1v1h-1zM370.5 134.6h1.5v1h-1.5zM356.8 58.0h1.5v1.5h-1.5zM413.6 38.1h1v1h-1zM350.0 63.1h1v1h-1zM399.5 38.3h1.5v1h-1.5zM323.8 126.0h1.5v1h-1.5zM392.6 136.4h1v1h-1zM322.9 146.5h1v1h-1zM320.1 34.7h1.5v1.5h-1.5zM428.2 79.2h1v1h-1zM333.9 137.0h1.5v1h-1.5zM352.3 130.6h1v1h-1zM344.5 125.8h1v1.5h-1zM326.8 39.6h1v1.5h-1zM359.4 135.5h1v1.5h-1zM371.4 54.1h1v1h-1zM363.5 92.3h1v1h-1zM393.7 125.0h1.5v1h-1.5zM413.1 41.1h1v1h-1zM335.7 39.3h1.5v1h-1.5zM376.5 136.2h1v1h-1zM365.1 172.6h1.5v1h-1.5zM332.9 169.4h1v1h-1zM322.6 94.9h1v1h-1zM398.7 82.2h1.5v1h-1.5zM397.1 82.9h1v1.5h-1zM339.1 99.2h1v1h-1zM365.7 114.1h1.5v1.5h-1.5zM355.6 70.0h1.5v1h-1.5zM343.1 107.4h1v1h-1zM371.1 38.0h1v1h-1zM354.9 130.6h1v1h-1zM382.0 93.7h1v1h-1zM357.2 163.5h1.5v1h-1.5zM378.2 81.8h1.5v1.5h-1.5zM370.2 147.2h1.5v1h-1.5zM351.2 122.5h1v1h-1zM426.8 75.7h1v1h-1zM348.6 55.1h1.5v1.5h-1.5zM403.7 131.5h1v1h-1zM420.5 63.8h1v1h-1zM343.4 119.9h1.5v1h-1.5zM322.3 39.2h1v1.5h-1zM332.3 93.3h1v1h-1zM419.0 144.3h1v1.5h-1zM420.4 79.9h1v1h-1zM349.0 85.8h1v1h-1zM359.8 109.6h1.5v1h-1.5zM372.4 125.0h1v1h-1zM393.9 89.3h1v1h-1zM323.8 57.0h1.5v1h-1.5zM421.0 139.3h1v1h-1zM376.8 50.7h1v1h-1zM401.3 123.5h1.5v1h-1.5zM343.4 105.9h1.5v1h-1.5zM419.1 164.2h1v1h-1zM330.3 114.5h1v1h-1zM335.3 82.1h1v1h-1zM334.3 62.8h1v1.5h-1zM328.3 166.1h1v1.5h-1zM356.0 148.7h1v1h-1zM325.1 98.3h1v1.5h-1zM389.8 163.1h1v1.5h-1zM425.8 63.8h1v1h-1zM350.5 170.0h1v1h-1zM364.4 102.3h1v1h-1zM426.9 58.4h1v1.5h-1zM321.4 52.9h1.5v1h-1.5zM374.7 69.7h1v1.5h-1zM344.1 137.8h1v1h-1zM335.9 159.4h1v1h-1zM329.6 35.0h1v1.5h-1zM386.2 68.6h1v1.5h-1zM339.1 163.5h1.5v1h-1.5zM364.9 165.8h1v1h-1zM350.3 97.2h1v1.5h-1zM368.0 43.0h1.5v1h-1.5zM395.7 85.8h1v1h-1zM418.1 103.9h1v1h-1zM366.4 77.9h1v1h-1zM381.0 129.7h1v1h-1zM325.0 80.1h1v1h-1zM406.6 88.4h1v1.5h-1zM358.8 36.0h1v1.5h-1zM328.9 65.4h1.5v1h-1.5zM348.0 159.3h1v1.5h-1zM374.6 44.4h1v1h-1zM402.9 167.9h1v1h-1zM365.6 142.6h1v1h-1zM380.6 134.5h1.5v1h-1.5zM371.2 49.3h1v1.5h-1zM353.7 107.7h1v1h-1zM413.0 166.9h1v1h-1zM401.8 131.7h1v1h-1zM326.2 154.1h1v1.5h-1zM357.0 102.2h1v1h-1zM346.6 163.1h1.5v1h-1.5zM344.8 120.6h1v1h-1zM346.5 43.6h1v1h-1zM377.3 127.4h1v1h-1zM393.8 143.3h1v1h-1zM364.7 116.9h1v1h-1zM365.2 148.2h1v1h-1zM371.9 56.3h1v1h-1zM378.3 153.4h1.5v1h-1.5zM327.5 144.1h1v1h-1zM354.7 78.3h1v1h-1zM345.1 53.1h1v1.5h-1zM373.0 52.8h1v1h-1zM408.1 53.9h1v1h-1zM363.2 47.0h1v1.5h-1zM430.0 160.2h1.5v1h-1.5zM356.7 100.1h1v1h-1zM362.5 164.6h1v1h-1zM420.1 154.4h1v1h-1zM425.0 82.1h1v1h-1zM355.4 50.8h1.5v1h-1.5zM393.5 52.3h1v1h-1zM417.5 57.8h1v1h-1zM392.3 125.8h1v1h-1zM327.9 73.6h1.5v1h-1.5zM411.0 123.5h1v1h-1zM365.6 158.4h1v1h-1zM415.5 105.3h1v1h-1zM360.6 109.7h1v1h-1zM346.9 78.0h1v1.5h-1zM417.2 98.3h1v1h-1zM382.7 39.6h1v1.5h-1zM414.0 38.6h1v1h-1zM369.9 56.5h1.5v1h-1.5zM331.3 70.7h1v1h-1zM337.0 66.7h1v1h-1zM400.6 111.8h1v1h-1zM390.8 49.2h1.5v1h-1.5zM399.3 67.1h1.5v1h-1.5zM428.7 39.9h1v1h-1zM387.1 63.2h1v1.5h-1zM417.1 103.3h1.5v1.5h-1.5zM402.2 134.9h1.5v1h-1.5zM338.6 101.1h1v1h-1zM402.2 163.4h1v1.5h-1zM369.4 95.1h1v1h-1zM373.0 99.6h1.5v1h-1.5zM347.6 132.0h1v1h-1zM418.6 147.3h1v1h-1zM345.2 144.2h1v1h-1zM348.4 120.4h1v1h-1zM348.0 81.9h1v1h-1zM322.7 45.1h1v1h-1zM409.5 33.1h1v1h-1zM417.5 73.2h1v1.5h-1zM376.9 36.7h1v1h-1zM325.9 93.6h1.5v1h-1.5zM353.9 52.7h1.5v1h-1.5zM402.6 163.5h1v1h-1zM364.3 146.6h1v1h-1zM328.1 105.4h1.5v1h-1.5zM347.7 87.1h1v1h-1zM341.0 42.8h1.5v1h-1.5zM375.0 101.9h1v1h-1zM384.6 142.3h1v1h-1zM359.4 69.9h1v1h-1zM320.9 135.5h1v1h-1zM321.7 130.1h1v1h-1zM373.1 74.3h1.5v1h-1.5zM331.4 159.1h1.5v1h-1.5zM380.1 125.3h1v1h-1zM403.4 52.5h1v1.5h-1zM410.0 108.3h1v1h-1zM359.1 109.6h1v1h-1zM385.1 163.1h1v1h-1zM421.7 43.4h1v1.5h-1zM350.6 110.0h1v1.5h-1zM387.6 67.9h1.5v1h-1.5zM373.9 41.3h1.5v1h-1.5zM402.0 129.0h1v1h-1zM369.9 39.1h1v1h-1zM386.8 85.0h1.5v1h-1.5zM339.2 51.4h1v1h-1zM321.6 37.2h1.5v1h-1.5zM351.9 121.3h1v1h-1zM383.0 108.3h1v1h-1zM394.2 134.5h1v1.5h-1zM343.7 165.3h1v1.5h-1zM337.8 82.8h1v1h-1zM363.8 126.3h1v1h-1zM377.4 171.2h1v1h-1zM319.8 135.9h1v1.5h-1zM407.8 43.2h1.5v1h-1.5zM404.0 160.4h1v1h-1zM381.5 121.4h1v1h-1zM363.3 83.9h1v1h-1zM353.1 34.5h1v1.5h-1zM341.2 109.9h1.5v1h-1.5zM415.5 86.5h1v1h-1zM339.4 95.7h1v1h-1zM348.3 76.3h1v1h-1zM417.2 144.6h1v1h-1zM393.7 106.1h1.5v1h-1.5zM397.4 77.1h1v1h-1zM405.6 61.7h1v1h-1zM406.2 46.9h1v1.5h-1zM346.1 126.9h1.5v1.5h-1.5zM399.2 49.2h1v1.5h-1zM347.2 124.8h1v1.5h-1zM403.4 91.3h1v1h-1zM337.3 104.7h1v1.5h-1zM375.4 124.2h1v1h-1zM336.4 115.9h1v1h-1zM336.2 169.1h1v1h-1zM353.9 167.7h1v1h-1z"/>
<path fill="#1f2b23" d="M349.9 92.0h1v1.5h-1zM378.6 164.5h1v1h-1zM404.7 105.1h1v1h-1zM425.0 81.4h1v1h-1zM388.3 103.4h1v1h-1zM400.4 107.9h1v1.5h-1zM411.6 85.9h1v1h-1zM366.8 40.8h1.5v1h-1.5zM368.5 69.8h1v1h-1zM412.9 43.3h1v1h-1zM320.4 41.8h1v1h-1zM426.5 92.6h1v1.5h-1zM355.0 80.8h1.5v1h-1.5zM327.1 167.8h1.5v1.5h-1.5zM328.4 145.4h1v1h-1zM424.3 52.5h1.5v1h-1.5zM359.4 159.4h1v1.5h-1zM370.5 145.1h1v1h-1zM421.6 72.6h1v1h-1zM320.0 168.7h1v1h-1zM417.1 165.2h1v1h-1zM329.7 105.1h1.5v1h-1.5zM364.4 85.2h1v1h-1zM386.4 120.6h1v1h-1zM367.7 36.3h1.5v1.5h-1.5zM389.6 126.2h1v1h-1zM328.5 106.4h1v1h-1zM412.4 60.3h1v1h-1zM417.9 41.8h1.5v1h-1.5zM425.2 101.4h1v1h-1zM352.5 132.7h1v1h-1zM399.3 115.0h1v1h-1zM367.3 60.5h1v1h-1zM334.7 119.9h1.5v1h-1.5zM419.8 90.4h1.5v1h-1.5zM394.3 98.8h1v1h-1zM411.3 118.2h1v1h-1zM406.5 146.3h1v1.5h-1zM380.8 100.0h1v1.5h-1zM375.7 100.3h1v1h-1zM404.5 107.3h1v1.5h-1zM345.5 53.4h1v1.5h-1zM334.3 58.9h1v1h-1zM341.9 120.6h1v1h-1zM364.5 140.0h1v1h-1zM321.8 150.1h1v1h-1zM413.1 40.2h1v1h-1zM346.0 45.5h1v1.5h-1zM352.7 100.7h1v1h-1zM426.6 113.7h1v1h-1zM374.3 109.9h1v1h-1zM388.8 151.0h1v1h-1zM383.7 165.4h1.5v1h-1.5zM346.2 60.3h1v1h-1zM411.7 50.2h1.5v1.5h-1.5zM336.7 83.7h1.5v1.5h-1.5zM397.9 127.6h1v1h-1zM392.6 47.9h1v1h-1zM427.1 123.3h1v1h-1zM395.8 133.8h1.5v1h-1.5zM366.5 104.7h1v1.5h-1zM337.2 145.2h1v1h-1zM344.6 52.5h1v1h-1zM325.4 48.6h1.5v1h-1.5zM329.0 38.8h1.5v1.5h-1.5zM344.2 171.3h1v1h-1zM393.4 130.0h1v1.5h-1zM405.0 51.5h1v1.5h-1zM426.4 124.9h1.5v1.5h-1.5zM377.6 76.2h1v1h-1zM393.6 153.8h1.5v1h-1.5zM408.8 167.4h1v1h-1zM352.5 76.7h1v1h-1zM363.4 61.1h1v1h-1zM378.8 114.5h1v1h-1zM381.0 46.8h1v1h-1zM325.7 114.8h1.5v1.5h-1.5zM322.4 36.0h1.5v1h-1.5zM403.5 152.5h1v1h-1zM386.5 160.4h1v1.5h-1zM373.5 104.2h1v1h-1zM417.3 124.1h1v1h-1zM415.2 140.5h1v1h-1zM421.4 107.8h1v1.5h-1zM329.6 146.4h1v1.5h-1zM357.6 138.9h1.5v1h-1.5zM383.4 46.9h1v1h-1zM424.4 70.7h1v1h-1zM392.7 62.8h1v1h-1zM327.1 81.9h1v1h-1zM377.3 78.8h1v1h-1zM426.5 137.5h1v1h-1zM364.2 108.5h1v1h-1zM377.5 33.0h1v1h-1zM361.8 168.5h1v1h-1zM400.7 89.2h1v1h-1zM342.7 137.2h1v1h-1zM404.6 114.9h1v1h-1zM350.4 60.6h1v1.5h-1zM381.8 136.0h1v1h-1zM379.6 81.8h1v1h-1zM403.6 146.4h1v1h-1zM417.4 156.2h1v1h-1zM395.6 165.0h1v1h-1zM411.9 40.7h1v1h-1zM350.7 87.1h1v1h-1zM360.5 153.1h1.5v1h-1.5zM406.2 64.5h1.5v1h-1.5zM360.0 168.5h1v1h-1zM326.8 33.7h1v1h-1zM412.1 89.8h1v1h-1zM384.1 59.4h1.5v1.5h-1.5zM322.4 138.4h1v1h-1zM390.0 127.8h1v1h-1zM422.4 149.8h1.5v1h-1.5zM354.1 148.9h1.5v1h-1.5zM423.7 158.0h1.5v1.5h-1.5zM427.7 158.4h1.5v1.5h-1.5zM326.6 97.7h1v1h-1zM339.4 74.7h1v1h-1zM329.3 33.8h1v1h-1zM419.4 60.0h1v1.5h-1zM337.0 64.4h1v1h-1zM371.3 60.6h1v1h-1zM391.0 46.4h1.5v1h-1.5zM400.8 160.3h1v1.5h-1zM412.1 68.0h1v1h-1zM424.4 117.3h1v1h-1zM320.1 113.6h1v1h-1zM410.5 34.8h1v1h-1zM428.6 64.6h1v1h-1zM392.4 45.5h1.5v1h-1.5zM398.6 48.7h1.5v1h-1.5zM369.5 45.0h1v1h-1zM413.5 152.6h1.5v1.5h-1.5zM403.5 78.1h1v1h-1zM370.9 34.9h1.5v1.5h-1.5zM394.7 125.3h1.5v1.5h-1.5zM338.7 151.8h1v1h-1zM396.6 96.3h1.5v1h-1.5zM336.3 57.8h1v1h-1zM343.8 67.7h1.5v1h-1.5zM342.4 40.0h1v1.5h-1zM386.0 56.6h1v1h-1zM339.5 125.0h1.5v1h-1.5zM426.7 71.3h1v1h-1zM384.9 96.7h1.5v1h-1.5zM363.3 59.9h1v1.5h-1zM401.5 101.4h1v1.5h-1zM320.0 38.4h1.5v1h-1.5zM417.7 65.4h1v1h-1zM330.8 83.4h1v1h-1zM326.4 93.7h1v1h-1zM362.9 65.5h1v1.5h-1zM349.5 109.2h1.5v1h-1.5zM385.1 123.1h1.5v1h-1.5zM396.2 72.8h1v1.5h-1zM363.2 36.2h1v1h-1zM355.6 52.0h1v1h-1zM417.9 59.8h1v1.5h-1zM385.7 46.8h1v1h-1zM355.6 121.8h1v1.5h-1zM330.1 118.1h1.5v1.5h-1.5zM351.5 132.5h1v1h-1zM321.5 115.4h1v1.5h-1zM383.1 156.6h1v1h-1zM394.5 163.3h1.5v1h-1.5zM364.9 104.5h1v1.5h-1zM416.6 147.3h1.5v1h-1.5zM334.9 44.2h1.5v1.5h-1.5zM357.1 90.6h1v1.5h-1zM348.2 67.4h1v1.5h-1zM422.5 118.1h1v1h-1zM378.8 142.2h1v1h-1zM362.2 156.4h1v1.5h-1zM429.7 98.6h1v1h-1zM321.1 154.9h1.5v1h-1.5zM422.9 67.6h1v1.5h-1zM362.4 98.9h1v1h-1zM403.4 62.3h1.5v1.5h-1.5zM355.7 51.5h1.5v1h-1.5zM332.0 161.4h1v1.5h-1zM396.5 60.5h1.5v1h-1.5zM329.5 141.5h1.5v1h-1.5zM357.3 128.8h1v1h-1zM413.9 149.2h1v1h-1zM339.9 136.2h1.5v1h-1.5zM403.3 164.3h1v1h-1zM424.8 58.3h1v1h-1zM417.4 133.8h1v1h-1zM423.8 144.5h1v1h-1zM334.3 116.7h1.5v1h-1.5zM375.9 59.9h1v1h-1zM328.2 50.7h1v1.5h-1zM408.6 97.7h1.5v1h-1.5zM336.4 64.2h1v1h-1zM384.8 164.7h1v1h-1zM414.5 151.3h1v1h-1zM419.1 130.0h1v1h-1zM349.5 59.2h1v1h-1zM390.7 53.0h1v1.5h-1zM350.8 63.5h1v1.5h-1zM350.4 93.1h1v1h-1zM401.9 143.2h1v1h-1zM345.8 38.6h1v1h-1zM322.3 157.8h1v1.5h-1zM357.0 62.5h1v1h-1zM359.2 156.4h1.5v1.5h-1.5zM358.7 168.0h1v1h-1zM359.2 148.6h1v1h-1zM373.3 59.8h1v1h-1zM405.7 75.8h1v1h-1zM328.8 131.2h1v1h-1zM362.6 124.7h1v1h-1zM361.8 113.4h1v1h-1zM384.2 96.3h1v1h-1zM395.4 161.6h1v1h-1zM367.4 100.7h1v1.5h-1zM343.7 148.5h1.5v1h-1.5zM398.8 135.5h1.5v1h-1.5zM361.3 117.0h1v1h-1zM344.5 77.3h1v1h-1zM351.0 163.8h1v1.5h-1zM379.1 78.0h1v1h-1zM426.5 114.8h1.5v1h-1.5zM429.5 137.3h1v1.5h-1zM390.4 65.8h1v1.5h-1zM409.9 67.1h1v1h-1zM382.2 163.7h1v1h-1zM380.0 108.3h1v1h-1zM367.5 135.0h1v1h-1zM403.7 156.2h1v1h-1zM385.2 85.0h1.5v1h-1.5zM400.2 46.9h1v1h-1zM414.4 105.9h1v1h-1zM330.9 151.4h1v1h-1zM335.1 50.8h1.5v1h-1.5zM367.8 61.0h1v1h-1zM426.7 61.1h1v1.5h-1zM365.8 149.5h1.5v1.5h-1.5zM429.0 132.1h1v1.5h-1zM365.7 164.1h1v1h-1zM366.4 65.3h1v1h-1zM334.4 172.9h1v1.5h-1zM421.9 165.4h1v1.5h-1zM345.3 137.4h1v1.5h-1zM397.7 109.2h1v1.5h-1zM390.9 89.9h1v1h-1zM365.5 67.6h1.5v1h-1.5zM331.5 81.5h1v1h-1zM340.3 79.7h1v1.5h-1zM408.0 76.0h1v1.5h-1zM361.7 133.7h1v1h-1zM348.9 121.2h1v1h-1zM364.9 118.5h1.5v1.5h-1.5zM333.1 147.0h1v1h-1zM395.8 165.0h1v1h-1zM358.6 125.9h1v1h-1zM340.7 102.9h1v1h-1zM329.5 78.3h1.5v1h-1.5zM333.6 159.3h1.5v1h-1.5zM361.5 89.1h1v1h-1zM416.6 157.5h1v1h-1zM424.0 46.9h1.5v1.5h-1.5zM390.3 41.6h1.5v1.5h-1.5zM358.3 122.5h1v1h-1zM398.6 148.3h1.5v1h-1.5zM424.0 38.6h1v1h-1zM398.2 154.6h1.5v1.5h-1.5zM357.8 43.1h1.5v1h-1.5zM370.6 90.7h1.5v1.5h-1.5zM339.4 160.7h1v1h-1zM401.5 131.8h1v1h-1zM323.3 63.1h1v1h-1zM428.8 65.6h1v1h-1zM380.6 143.3h1.5v1h-1.5zM325.4 165.3h1v1h-1zM379.8 164.0h1v1h-1zM332.8 119.4h1v1h-1zM334.0 138.4h1v1.5h-1zM417.0 144.6h1v1.5h-1zM347.8 61.3h1v1.5h-1zM413.0 146.4h1v1h-1zM359.2 65.7h1v1.5h-1zM331.0 53.5h1v1h-1zM415.9 125.0h1v1h-1zM393.7 61.6h1v1h-1zM369.5 165.8h1v1.5h-1zM380.6 67.4h1v1h-1zM381.5 107.2h1.5v1h-1.5zM409.6 82.6h1.5v1h-1.5zM406.4 120.5h1.5v1h-1.5zM327.7 165.5h1v1h-1zM370.1 62.4h1.5v1.5h-1.5zM364.0 34.7h1.5v1h-1.5zM372.6 49.1h1v1h-1zM417.4 137.7h1v1h-1zM352.2 117.7h1v1h-1zM401.0 92.0h1v1h-1zM370.5 141.6h1v1h-1zM356.6 68.4h1v1h-1zM361.9 136.3h1v1h-1zM391.9 102.1h1v1h-1zM338.5 148.2h1v1.5h-1zM408.8 66.8h1.5v1.5h-1.5zM402.1 130.9h1v1h-1zM408.6 116.3h1v1.5h-1zM360.2 54.3h1.5v1.5h-1.5zM347.5 134.8h1v1.5h-1zM384.2 38.0h1v1h-1zM344.9 157.3h1v1.5h-1zM322.7 142.6h1v1h-1zM359.0 142.1h1v1.5h-1zM336.9 76.8h1.5v1h-1.5zM336.5 110.5h1v1h-1zM331.9 104.3h1v1h-1zM418.8 73.1h1v1h-1zM417.2 91.7h1.5v1h-1.5zM428.3 63.8h1v1h-1zM338.0 167.2h1v1.5h-1zM389.5 94.1h1v1h-1zM332.3 60.9h1v1h-1zM343.7 85.6h1v1h-1zM329.2 129.6h1.5v1.5h-1.5zM323.8 40.5h1v1h-1zM384.8 65.6h1v1.5h-1zM423.0 43.6h1v1h-1zM352.6 51.4h1v1h-1zM390.2 94.3h1v1h-1zM338.1 157.9h1v1.5h-1zM399.7 69.7h1.5v1h-1.5zM325.5 177.9h1v1h-1zM322.5 133.1h1.5v1h-1.5zM429.3 114.2h1.5v1h-1.5zM358.0 79.1h1v1h-1zM328.5 96.4h1v1h-1zM372.9 107.7h1v1h-1zM363.6 155.9h1v1h-1zM374.1 142.0h1v1h-1zM361.4 96.0h1v1h-1zM415.9 55.6h1v1h-1zM332.6 112.2h1v1h-1zM406.7 154.9h1v1h-1zM366.0 122.9h1v1h-1zM327.7 66.6h1v1.5h-1zM367.0 52.1h1.5v1h-1.5zM429.3 130.0h1v1h-1zM429.1 91.3h1v1.5h-1zM359.8 117.1h1v1h-1zM420.7 128.7h1v1.5h-1zM384.8 54.3h1v1h-1zM330.9 158.3h1v1h-1zM403.2 145.8h1.5v1h-1.5zM384.2 99.8h1v1h-1zM365.1 76.9h1v1h-1zM394.1 43.2h1v1h-1zM375.2 126.4h1v1.5h-1zM344.0 41.6h1v1h-1zM367.4 122.5h1v1h-1zM349.1 69.6h1v1h-1zM348.1 153.9h1.5v1.5h-1.5zM335.8 160.8h1v1h-1zM428.6 77.6h1v1h-1zM403.8 107.9h1.5v1.5h-1.5zM386.6 113.1h1.5v1.5h-1.5zM428.4 140.4h1v1h-1zM370.5 114.7h1.5v1h-1.5zM386.7 78.5h1.5v1h-1.5zM346.7 165.5h1.5v1h-1.5zM328.2 89.0h1v1h-1zM380.2 90.9h1.5v1h-1.5zM330.6 123.0h1v1h-1zM367.8 85.4h1v1h-1zM355.9 79.1h1v1h-1zM353.7 58.1h1v1h-1zM411.3 34.4h1v1h-1zM376.2 70.0h1.5v1h-1.5zM369.9 34.6h1.5v1.5h-1.5zM411.9 99.7h1.5v1h-1.5zM428.5 104.2h1v1h-1zM406.7 130.8h1.5v1.5h-1.5zM416.9 62.0h1v1h-1zM332.2 147.3h1v1.5h-1zM405.7 53.9h1.5v1.5h-1.5zM364.9 74.9h1v1h-1zM365.6 157.3h1v1h-1zM355.1 160.8h1.5v1h-1.5zM389.3 103.6h1v1h-1zM378.0 143.4h1v1h-1zM334.5 86.5h1v1h-1zM323.1 111.9h1v1.5h-1zM352.7 63.9h1.5v1h-1.5zM404.6 105.5h1v1h-1zM428.5 112.4h1v1h-1zM325.9 110.5h1v1h-1zM398.6 87.5h1.5v1.5h-1.5zM336.2 138.4h1.5v1h-1.5zM421.2 106.2h1v1.5h-1zM427.0 77.5h1.5v1h-1.5zM345.0 106.8h1v1h-1zM363.6 92.5h1v1.5h-1zM401.5 167.0h1v1.5h-1zM337.8 158.0h1.5v1h-1.5zM410.2 75.1h1v1h-1zM329.4 153.9h1v1.5h-1zM325.7 65.4h1v1h-1zM361.4 137.5h1v1h-1zM375.8 96.9h1.5v1h-1.5zM343.5 166.4h1v1h-1zM419.6 75.0h1.5v1h-1.5zM365.0 84.8h1v1h-1zM399.6 66.6h1v1h-1zM379.6 41.7h1v1h-1zM342.6 148.1h1v1.5h-1zM334.3 59.5h1.5v1h-1.5zM348.0 147.5h1v1h-1zM340.4 157.2h1.5v1.5h-1.5zM333.9 107.4h1.5v1h-1.5zM339.1 44.8h1v1h-1zM394.7 90.2h1v1h-1zM389.4 38.8h1v1h-1zM389.2 109.0h1v1h-1zM342.4 83.6h1v1.5h-1zM376.2 127.4h1v1.5h-1zM405.8 93.3h1.5v1h-1.5zM391.2 148.9h1v1.5h-1zM401.0 65.8h1.5v1h-1.5zM391.6 93.9h1v1h-1zM388.4 33.4h1v1h-1zM376.3 84.1h1v1h-1zM347.4 105.4h1v1h-1zM410.2 59.9h1v1h-1zM345.7 33.3h1v1h-1zM337.0 119.3h1.5v1.5h-1.5zM412.7 135.6h1v1h-1z"/>
<path fill="#26342a" d="M366.5 77.0h1.5v1h-1.5zM346.6 58.6h1v1h-1zM423.9 96.0h1v1h-1zM372.7 45.0h1v1h-1zM428.5 58.8h1v1h-1zM419.6 57.2h1v1.5h-1zM323.8 136.1h1v1h-1zM428.0 143.9h1v1h-1zM395.9 39.2h1v1h-1zM391.8 67.0h1v1h-1zM403.8 130.6h1.5v1h-1.5zM326.3 139.8h1v1h-1zM411.6 71.4h1v1h-1zM333.0 105.6h1v1h-1zM418.5 84.4h1.5v1.5h-1.5zM382.2 38.2h1v1h-1zM352.3 166.8h1v1.5h-1zM321.4 105.5h1.5v1h-1.5zM401.9 154.9h1v1h-1zM330.9 136.3h1.5v1.5h-1.5zM333.8 99.4h1v1h-1zM351.6 113.4h1v1h-1zM385.5 108.7h1v1.5h-1zM418.5 69.7h1.5v1h-1.5zM326.1 54.0h1v1.5h-1zM332.7 161.5h1v1h-1zM341.8 49.0h1v1h-1zM356.4 69.9h1v1h-1zM324.4 143.3h1v1.5h-1zM356.1 123.8h1v1h-1zM340.7 54.6h1v1h-1zM403.7 49.6h1v1h-1zM357.0 68.5h1v1h-1zM359.9 148.9h1v1h-1zM421.4 81.8h1v1h-1zM362.0 85.9h1v1.5h-1zM380.5 143.3h1v1h-1zM386.4 126.2h1.5v1h-1.5zM341.7 157.6h1.5v1h-1.5zM403.1 47.3h1v1h-1zM336.0 106.8h1v1.5h-1zM332.2 141.9h1v1.5h-1zM429.8 155.3h1v1.5h-1zM389.3 144.1h1v1h-1zM420.9 116.1h1v1h-1zM332.5 35.0h1v1h-1zM333.6 75.3h1.5v1h-1.5zM363.1 172.5h1v1.5h-1zM398.4 81.2h1v1h-1zM418.8 142.0h1v1.5h-1zM419.6 46.0h1v1h-1zM325.7 73.7h1v1h-1zM334.4 37.0h1.5v1h-1.5zM359.8 168.5h1v1h-1zM324.2 39.1h1v1.5h-1zM380.5 73.1h1.5v1h-1.5zM401.3 68.0h1.5v1h-1.5zM358.3 79.0h1.5v1h-1.5zM416.6 99.7h1v1.5h-1zM378.2 89.7h1v1h-1zM424.2 63.4h1v1.5h-1zM394.8 38.7h1v1.5h-1zM428.3 130.3h1.5v1h-1.5zM393.0 43.4h1v1.5h-1zM402.0 120.0h1v1h-1zM341.3 148.6h1v1h-1zM401.0 56.2h1v1h-1zM426.8 136.1h1v1h-1zM329.7 120.1h1.5v1h-1.5zM358.4 56.1h1v1h-1zM407.9 40.4h1v1.5h-1zM412.9 42.8h1v1h-1zM359.4 134.8h1v1h-1zM408.5 118.1h1v1h-1zM419.1 43.9h1v1h-1zM340.4 100.4h1v1.5h-1zM371.7 109.4h1.5v1h-1.5zM345.0 56.9h1.5v1.5h-1.5zM329.5 96.0h1v1h-1zM327.4 163.0h1.5v1h-1.5zM397.2 164.7h1v1h-1zM371.2 43.2h1v1h-1zM332.7 68.0h1v1h-1zM344.3 78.4h1v1h-1zM429.0 129.4h1v1h-1zM390.0 75.7h1.5v1.5h-1.5zM389.0 143.3h1.5v1h-1.5zM415.5 80.8h1.5v1h-1.5zM372.2 94.3h1.5v1.5h-1.5zM358.3 121.8h1.5v1.5h-1.5zM407.9 54.1h1.5v1h-1.5zM340.4 41.5h1v1h-1zM329.3 159.2h1v1h-1zM420.6 152.9h1.5v1.5h-1.5zM405.5 93.4h1v1h-1zM384.2 101.6h1v1h-1zM363.9 65.1h1v1.5h-1zM395.3 168.7h1v1h-1zM379.4 92.6h1v1h-1zM319.4 39.2h1v1h-1zM429.6 75.1h1.5v1h-1.5zM371.9 131.2h1.5v1h-1.5zM400.2 61.9h1.5v1h-1.5zM335.9 145.8h1v1h-1zM330.1 109.3h1v1h-1zM379.1 42.3h1v1h-1zM409.0 100.6h1v1h-1zM421.8 141.0h1v1h-1zM350.2 138.8h1v1h-1zM348.3 82.6h1v1.5h-1zM380.3 116.2h1v1h-1zM353.8 88.0h1.5v1h-1.5zM418.8 90.6h1v1h-1zM333.2 129.6h1v1h-1zM390.9 144.0h1v1h-1zM360.2 47.4h1v1h-1zM384.0 113.0h1v1.5h-1zM407.8 113.7h1v1.5h-1zM351.9 141.0h1v1h-1zM370.1 110.1h1v1.5h-1zM353.8 129.8h1v1.5h-1zM367.5 95.2h1v1.5h-1zM381.9 152.1h1v1.5h-1zM345.6 122.4h1.5v1h-1.5zM323.9 103.8h1v1.5h-1zM350.6 102.8h1v1h-1zM402.4 53.0h1v1h-1zM346.8 115.4h1.5v1.5h-1.5zM376.4 53.6h1.5v1h-1.5zM408.4 95.4h1v1h-1zM405.3 87.6h1v1.5h-1zM415.5 121.0h1v1.5h-1zM405.5 102.8h1v1h-1zM427.5 102.6h1v1.5h-1zM408.8 33.6h1v1h-1zM363.5 73.2h1v1.5h-1zM360.4 173.6h1v1h-1zM319.3 46.5h1v1h-1zM357.4 171.9h1v1h-1zM401.6 147.7h1v1h-1zM336.5 152.8h1.5v1h-1.5zM404.0 150.0h1.5v1h-1.5zM356.4 91.4h1.5v1h-1.5zM368.8 167.5h1.5v1h-1.5zM338.1 82.7h1v1.5h-1zM381.7 110.4h1v1h-1zM364.8 70.6h1v1.5h-1zM356.1 38.1h1v1h-1zM371.4 157.3h1.5v1h-1.5zM372.3 98.3h1v1.5h-1zM320.1 63.5h1v1h-1zM343.7 126.3h1v1h-1zM403.9 100.7h1v1h-1zM334.2 76.4h1v1h-1zM326.9 124.5h1v1h-1zM336.5 102.6h1.5v1h-1.5zM358.7 129.8h1v1.5h-1zM374.7 166.0h1v1h-1zM399.1 38.4h1v1h-1zM410.2 124.4h1.5v1.5h-1.5zM392.9 158.5h1v1h-1zM392.4 34.4h1v1.5h-1zM371.9 137.4h1v1h-1zM344.7 160.7h1v1h-1zM393.4 87.7h1.5v1h-1.5zM375.6 112.6h1v1.5h-1zM350.7 97.5h1v1h-1zM320.6 39.5h1.5v1h-1.5zM362.0 170.2h1v1h-1zM355.2 51.6h1.5v1h-1.5zM333.0 84.9h1v1h-1zM374.5 150.4h1v1h-1zM400.5 83.4h1v1h-1zM395.1 77.8h1v1h-1zM403.9 130.3h1v1h-1zM412.7 37.1h1v1.5h-1zM340.1 46.1h1v1.5h-1zM325.8 49.8h1v1h-1zM340.4 101.4h1v1h-1zM400.6 111.1h1v1h-1zM427.6 60.4h1v1h-1zM332.8 113.6h1v1.5h-1zM374.8 134.5h1.5v1h-1.5zM344.5 131.8h1v1h-1zM349.0 165.5h1v1.5h-1zM420.7 53.2h1v1h-1zM341.1 135.5h1.5v1.5h-1.5zM360.0 143.2h1.5v1h-1.5zM416.0 84.2h1.5v1h-1.5zM353.5 68.6h1v1h-1zM348.7 108.2h1v1.5h-1zM412.9 76.0h1v1h-1zM383.8 103.5h1.5v1.5h-1.5zM420.6 129.7h1.5v1h-1.5zM339.9 123.9h1.5v1.5h-1.5zM322.5 62.7h1v1h-1zM365.7 169.3h1v1h-1zM321.6 129.8h1v1h-1zM426.3 104.4h1v1h-1zM410.7 131.9h1.5v1h-1.5zM330.6 161.2h1.5v1.5h-1.5zM368.4 157.0h1v1.5h-1zM373.4 130.9h1v1h-1zM367.3 65.6h1v1h-1zM324.2 117.6h1v1h-1zM379.7 162.0h1.5v1h-1.5zM405.0 37.4h1v1h-1zM378.0 58.0h1.5v1h-1.5zM355.9 56.9h1v1h-1zM378.2 109.2h1v1.5h-1zM350.1 166.1h1.5v1h-1.5zM319.4 89.6h1v1h-1zM419.2 81.7h1.5v1h-1.5zM392.9 99.0h1.5v1h-1.5zM358.9 124.8h1v1h-1zM325.0 106.6h1v1.5h-1zM322.5 116.1h1v1h-1zM343.0 143.9h1v1h-1zM356.6 86.2h1v1h-1zM366.2 146.4h1v1h-1zM428.4 125.0h1.5v1.5h-1.5zM375.0 87.9h1v1h-1zM321.6 55.4h1.5v1h-1.5zM383.7 97.1h1v1h-1zM355.2 45.3h1v1.5h-1zM352.6 71.7h1v1h-1zM343.8 68.0h1.5v1h-1.5zM344.9 169.0h1v1h-1zM369.1 156.9h1.5v1.5h-1.5zM337.8 68.2h1v1h-1zM380.5 59.1h1.5v1h-1.5zM376.3 86.8h1v1.5h-1zM400.5 53.2h1v1h-1zM377.4 164.8h1v1h-1zM426.2 81.7h1v1h-1zM426.2 122.4h1v1.5h-1zM328.2 126.2h1.5v1.5h-1.5zM417.1 126.4h1v1h-1zM396.5 136.9h1v1h-1zM350.1 107.6h1v1h-1zM355.9 165.6h1v1h-1zM345.2 45.2h1v1.5h-1zM429.0 90.0h1v1h-1zM409.0 51.6h1v1h-1zM372.4 92.1h1.5v1h-1.5zM398.5 70.1h1v1h-1zM332.8 176.5h1.5v1.5h-1.5zM414.6 53.8h1.5v1.5h-1.5zM411.2 76.2h1.5v1h-1.5zM345.4 127.6h1v1.5h-1zM329.0 33.7h1v1h-1zM342.6 39.1h1v1h-1zM337.9 146.0h1v1.5h-1zM360.8 61.9h1v1h-1zM398.2 107.8h1v1h-1zM428.7 34.0h1.5v1h-1.5zM384.6 53.1h1.5v1h-1.5zM354.8 75.3h1v1h-1zM400.4 36.3h1.5v1h-1.5zM403.1 80.8h1v1h-1zM365.1 125.2h1.5v1h-1.5zM364.9 106.3h1.5v1.5h-1.5zM352.2 128.4h1v1h-1zM429.3 114.7h1v1h-1zM332.7 158.8h1v1h-1zM327.4 166.2h1.5v1h-1.5zM384.2 100.1h1v1h-1zM391.7 94.1h1.5v1.5h-1.5zM336.2 103.5h1v1h-1zM348.2 66.4h1v1h-1zM398.0 95.9h1v1h-1zM356.3 49.9h1v1h-1zM408.8 132.7h1v1.5h-1zM353.8 99.4h1v1.5h-1zM347.8 36.0h1v1h-1zM402.5 80.1h1v1h-1zM339.9 88.0h1v1h-1zM322.8 157.8h1.5v1.5h-1.5zM370.6 168.4h1.5v1h-1.5zM429.3 48.0h1v1h-1zM353.0 160.2h1v1h-1zM329.7 79.4h1v1h-1zM384.0 118.1h1v1h-1zM343.3 135.7h1.5v1h-1.5zM350.7 112.2h1v1h-1zM353.1 127.3h1.5v1h-1.5zM364.2 41.6h1v1h-1zM358.7 173.7h1.5v1h-1.5zM370.7 45.8h1.5v1h-1.5zM338.2 104.0h1.5v1h-1.5zM376.8 134.8h1v1h-1zM396.6 121.2h1.5v1h-1.5zM428.9 157.0h1.5v1.5h-1.5zM334.5 85.9h1v1h-1zM358.0 112.4h1v1h-1zM364.4 164.1h1.5v1h-1.5zM415.7 132.9h1v1h-1zM404.0 100.6h1v1h-1zM357.3 94.7h1.5v1h-1.5zM330.2 162.8h1v1h-1zM405.2 95.4h1v1h-1zM410.1 45.5h1v1.5h-1zM359.7 80.8h1v1h-1zM387.1 97.7h1v1h-1zM352.1 84.6h1v1h-1zM408.4 133.2h1v1h-1zM334.0 80.0h1.5v1h-1.5zM407.1 93.2h1.5v1h-1.5zM373.9 139.8h1v1h-1zM379.5 98.2h1v1h-1zM345.7 143.3h1v1h-1zM379.1 33.9h1.5v1h-1.5zM385.7 129.2h1v1h-1zM389.5 135.4h1v1h-1zM322.6 126.1h1v1h-1zM429.5 54.2h1v1h-1zM364.4 165.8h1v1h-1zM346.0 143.8h1v1h-1zM429.4 154.4h1v1h-1zM413.6 103.0h1v1.5h-1zM342.6 53.3h1v1h-1zM395.1 57.6h1v1h-1zM404.5 148.3h1v1h-1zM373.3 139.4h1.5v1h-1.5zM335.5 146.6h1.5v1h-1.5zM330.7 169.7h1v1h-1zM402.3 164.6h1.5v1h-1.5zM401.3 77.1h1v1h-1zM378.2 77.9h1v1.5h-1zM347.8 103.3h1.5v1h-1.5zM351.8 168.5h1.5v1h-1.5zM391.4 150.9h1v1.5h-1zM407.1 127.0h1v1h-1zM362.6 160.1h1v1.5h-1zM388.7 86.3h1v1.5h-1zM399.3 66.3h1v1h-1zM321.7 99.3h1v1h-1zM374.2 162.7h1v1.5h-1zM372.4 111.6h1.5v1h-1.5zM330.6 163.0h1v1.5h-1zM329.7 134.1h1v1h-1zM416.5 39.6h1v1.5h-1zM364.9 161.7h1v1h-1zM365.5 68.6h1v1h-1zM330.4 63.3h1.5v1.5h-1.5zM362.8 117.9h1v1.5h-1zM428.2 88.2h1v1h-1zM387.9 128.6h1v1h-1zM369.6 98.1h1v1h-1zM341.5 140.0h1v1h-1zM370.9 53.9h1v1h-1zM362.4 139.7h1.5v1.5h-1.5zM359.6 43.1h1.5v1h-1.5zM382.6 121.1h1v1.5h-1zM329.7 144.8h1.5v1h-1.5zM406.4 109.9h1v1h-1zM372.2 106.9h1v1h-1zM428.9 151.6h1.5v1h-1.5zM404.9 78.9h1v1h-1zM391.6 125.4h1v1h-1zM390.2 80.1h1.5v1h-1.5zM381.5 102.8h1v1.5h-1zM379.4 104.2h1v1h-1zM374.1 132.7h1v1h-1zM395.3 126.7h1v1h-1zM420.5 63.8h1v1h-1zM363.5 77.1h1v1h-1zM350.2 160.0h1.5v1h-1.5zM348.5 154.8h1v1.5h-1zM409.8 58.0h1v1h-1zM412.5 74.3h1v1h-1zM329.0 132.8h1v1h-1zM337.0 123.2h1.5v1h-1.5zM340.7 100.8h1v1.5h-1zM426.4 79.2h1.5v1h-1.5zM396.4 155.9h1v1h-1zM378.0 162.2h1v1h-1zM327.3 134.5h1v1h-1zM342.9 69.4h1v1.5h-1zM334.1 148.0h1v1h-1zM410.4 129.2h1v1h-1zM377.9 99.5h1.5v1h-1.5zM352.8 144.1h1v1h-1zM414.0 78.1h1v1.5h-1zM331.1 99.0h1v1h-1zM364.9 58.1h1.5v1h-1.5zM341.6 118.4h1v1h-1zM334.3 145.4h1v1h-1zM423.1 83.3h1v1h-1zM414.0 36.3h1.5v1h-1.5zM395.2 161.4h1.5v1h-1.5zM414.6 89.3h1v1h-1zM332.4 42.6h1v1.5h-1z"/>
<path fill="#2c3a30" d="M365.8 167.8h1v1h-1zM387.2 53.4h1v1h-1zM396.3 68.6h1v1h-1zM347.8 131.6h1v1.5h-1zM338.1 101.0h1v1h-1zM369.2 36.9h1v1.5h-1zM327.1 130.0h1v1h-1zM429.3 86.4h1.5v1h-1.5zM403.3 72.3h1v1h-1zM357.0 150.5h1v1.5h-1zM398.1 155.7h1v1h-1zM349.0 139.9h1.5v1h-1.5zM337.8 33.4h1v1h-1zM365.6 157.0h1v1.5h-1zM397.3 59.7h1.5v1h-1.5zM356.2 167.8h1v1h-1zM324.6 120.2h1v1h-1zM385.5 122.7h1v1h-1zM381.8 38.8h1v1.5h-1zM363.4 42.4h1v1.5h-1zM411.5 115.1h1v1h-1zM372.0 51.5h1v1h-1zM357.6 46.5h1v1.5h-1zM373.4 170.9h1v1h-1zM384.9 128.0h1v1h-1zM394.4 120.6h1.5v1.5h-1.5zM369.5 119.8h1.5v1h-1.5zM371.0 74.1h1v1.5h-1zM374.3 108.0h1v1h-1zM370.9 111.5h1v1.5h-1zM366.3 173.1h1v1h-1zM398.7 118.1h1v1h-1zM357.3 61.7h1.5v1h-1.5zM371.9 141.4h1.5v1h-1.5zM360.3 98.3h1v1h-1zM407.7 54.2h1v1h-1zM412.5 117.4h1.5v1h-1.5zM410.4 97.3h1v1h-1zM406.6 160.5h1v1h-1zM422.5 162.0h1v1h-1zM376.8 170.3h1v1.5h-1zM382.9 113.3h1v1h-1zM394.1 104.8h1v1.5h-1zM394.0 161.7h1v1.5h-1zM392.2 128.7h1v1.5h-1zM329.0 169.9h1.5v1.5h-1.5zM345.4 67.5h1.5v1h-1.5zM396.5 51.2h1v1h-1zM371.0 169.7h1.5v1h-1.5zM373.2 142.1h1v1h-1zM401.4 77.3h1v1h-1zM399.2 78.1h1v1.5h-1zM395.7 53.0h1v1.5h-1zM420.8 149.1h1v1h-1zM322.8 165.4h1v1h-1zM415.9 114.8h1v1h-1zM352.7 141.2h1v1h-1zM415.9 128.9h1v1h-1zM383.8 44.0h1v1h-1zM347.5 99.0h1v1h-1zM381.6 169.5h1v1.5h-1zM404.2 45.2h1v1.5h-1zM391.3 108.3h1.5v1h-1.5zM325.7 105.8h1v1h-1zM400.9 155.6h1v1h-1zM405.4 65.8h1.5v1h-1.5zM331.0 138.9h1v1.5h-1zM355.8 101.6h1v1h-1zM336.1 69.2h1v1h-1zM423.8 120.3h1v1h-1zM346.3 114.0h1v1h-1zM409.0 95.3h1v1h-1zM406.5 53.0h1v1h-1zM365.5 117.8h1.5v1h-1.5zM355.9 54.3h1v1h-1zM373.7 168.6h1v1h-1zM363.7 128.7h1v1.5h-1zM421.8 116.0h1.5v1h-1.5zM347.8 142.8h1v1h-1zM410.8 47.9h1v1h-1zM377.6 67.8h1.5v1h-1.5zM341.6 115.0h1v1h-1zM413.3 146.9h1v1h-1zM395.7 134.8h1.5v1h-1.5zM326.1 42.7h1v1h-1zM396.3 56.6h1v1.5h-1zM325.9 75.9h1v1h-1zM348.2 34.1h1v1.5h-1zM367.9 49.5h1v1h-1zM378.6 65.4h1.5v1h-1.5zM335.1 148.6h1v1h-1zM367.7 52.7h1v1h-1zM371.8 127.5h1v1.5h-1zM379.2 88.5h1v1h-1zM388.3 128.7h1v1h-1zM372.7 68.2h1v1.5h-1zM338.3 142.8h1.5v1h-1.5zM347.3 99.8h1v1h-1zM406.4 67.4h1v1h-1zM355.3 36.7h1v1h-1zM389.9 154.7h1.5v1h-1.5zM407.1 114.5h1v1h-1zM389.7 43.6h1.5v1h-1.5zM418.9 54.9h1v1h-1zM336.4 126.8h1v1h-1zM394.2 87.5h1v1h-1zM378.0 161.8h1.5v1h-1.5zM347.3 119.8h1v1h-1zM407.8 42.1h1v1h-1zM337.0 59.0h1v1h-1zM395.4 54.4h1v1h-1zM365.0 126.9h1.5v1.5h-1.5zM340.2 175.3h1v1h-1zM385.7 153.6h1v1h-1zM348.6 171.7h1v1h-1zM411.1 153.1h1v1.5h-1zM388.2 122.8h1v1h-1zM334.6 166.3h1v1h-1zM326.7 44.9h1v1h-1zM408.0 65.4h1v1h-1zM376.6 100.0h1v1h-1zM363.6 132.5h1v1.5h-1zM367.6 118.1h1v1h-1zM336.2 55.1h1v1h-1zM414.6 61.1h1.5v1h-1.5zM319.4 178.6h1v1.5h-1zM364.1 65.7h1.5v1h-1.5zM409.5 40.8h1.5v1h-1.5zM363.0 64.5h1v1.5h-1zM370.2 81.6h1.5v1h-1.5zM429.5 100.3h1v1h-1zM400.2 42.3h1v1h-1zM354.1 150.8h1v1h-1zM425.3 85.1h1.5v1h-1.5zM328.8 162.1h1v1.5h-1zM415.0 103.3h1v1h-1zM335.3 90.3h1.5v1h-1.5zM413.3 137.7h1.5v1h-1.5zM412.1 33.1h1v1h-1zM408.4 114.6h1v1h-1zM341.5 86.2h1.5v1.5h-1.5zM344.8 133.5h1v1h-1zM428.5 34.3h1v1.5h-1zM383.1 56.9h1v1h-1zM357.1 125.9h1v1h-1zM344.5 144.3h1.5v1h-1.5zM375.9 165.5h1v1h-1zM416.0 158.8h1v1.5h-1zM332.0 59.9h1v1h-1zM386.9 149.2h1v1h-1zM374.4 116.2h1v1h-1zM413.2 74.0h1v1.5h-1zM405.8 107.8h1v1h-1zM328.4 88.3h1v1.5h-1zM337.4 86.5h1v1h-1zM329.9 59.0h1.5v1h-1.5zM325.1 141.6h1v1h-1zM383.6 159.2h1.5v1h-1.5zM422.2 71.3h1v1h-1zM428.2 157.4h1v1h-1zM422.5 59.9h1v1h-1zM409.9 98.1h1v1h-1zM332.6 105.3h1v1h-1zM382.8 165.3h1v1h-1zM401.2 47.2h1v1h-1zM383.4 94.5h1v1h-1zM345.1 117.9h1v1h-1zM428.6 117.5h1v1h-1zM425.6 87.7h1v1h-1zM319.8 42.3h1.5v1h-1.5zM429.3 40.8h1v1.5h-1zM394.0 91.6h1.5v1h-1.5zM363.4 41.8h1v1h-1zM389.4 37.4h1v1.5h-1zM422.1 134.4h1.5v1h-1.5zM363.3 156.2h1.5v1.5h-1.5zM414.2 133.5h1v1h-1zM356.1 36.4h1v1h-1zM425.7 146.5h1v1h-1zM410.0 44.0h1v1h-1zM394.5 49.3h1v1.5h-1zM371.6 116.7h1.5v1h-1.5zM418.8 51.7h1v1h-1zM398.1 122.6h1v1h-1zM388.0 74.5h1v1h-1zM369.2 161.1h1.5v1h-1.5zM321.3 160.6h1v1h-1zM424.6 137.0h1v1.5h-1zM388.7 114.7h1v1h-1zM412.1 123.0h1v1.5h-1zM421.5 157.4h1v1h-1zM351.5 46.3h1v1h-1zM373.9 99.2h1.5v1.5h-1.5zM418.0 108.3h1v1h-1zM367.1 89.3h1v1h-1zM330.1 156.7h1v1.5h-1zM327.3 147.2h1v1h-1zM369.1 40.3h1v1.5h-1zM340.9 78.5h1v1h-1zM332.5 165.9h1v1.5h-1zM363.2 171.8h1.5v1h-1.5zM398.2 152.3h1v1h-1zM363.8 91.5h1v1h-1zM409.2 60.2h1v1h-1zM330.8 65.2h1v1h-1zM357.3 128.7h1.5v1.5h-1.5zM404.7 124.9h1v1.5h-1zM381.7 95.7h1v1.5h-1zM363.6 42.2h1.5v1.5h-1.5zM378.9 122.8h1v1h-1zM372.6 52.9h1v1h-1zM325.5 119.5h1v1.5h-1zM407.7 67.1h1v1.5h-1zM413.3 129.3h1.5v1h-1.5zM331.2 166.8h1.5v1h-1.5zM321.8 138.2h1v1h-1zM418.5 140.3h1.5v1h-1.5zM410.0 124.4h1v1h-1zM339.3 70.8h1v1.5h-1zM394.8 76.5h1v1h-1zM355.3 118.9h1v1.5h-1zM376.3 43.0h1v1h-1zM417.1 136.8h1v1.5h-1zM354.2 131.5h1v1.5h-1zM404.8 91.9h1v1.5h-1zM422.8 109.1h1v1h-1zM355.4 119.7h1.5v1h-1.5zM408.6 51.7h1.5v1.5h-1.5zM381.7 96.5h1v1h-1zM361.8 98.2h1v1h-1zM361.1 111.9h1v1.5h-1zM389.9 52.8h1v1h-1zM429.5 33.1h1v1h-1zM338.0 72.5h1.5v1h-1.5zM337.6 99.8h1v1h-1zM392.0 159.0h1v1h-1zM345.0 94.3h1v1h-1zM428.5 70.0h1v1.5h-1zM394.5 150.9h1v1h-1zM387.5 78.1h1v1.5h-1zM372.1 75.6h1v1h-1zM349.1 68.4h1v1.5h-1zM361.5 97.7h1v1h-1zM373.8 35.9h1v1h-1zM415.2 143.1h1v1h-1zM366.8 63.6h1v1h-1zM372.4 137.8h1v1.5h-1zM349.4 58.5h1v1h-1zM399.7 62.7h1v1h-1zM375.0 119.6h1.5v1h-1.5zM379.2 150.3h1v1h-1zM416.2 94.5h1v1h-1zM400.8 46.2h1v1h-1zM341.4 77.5h1v1.5h-1zM408.7 48.0h1v1h-1zM407.8 66.1h1v1.5h-1zM412.2 158.9h1v1h-1zM395.9 48.5h1v1.5h-1zM429.1 89.3h1v1.5h-1zM330.7 108.9h1v1h-1zM422.4 155.3h1v1h-1zM429.3 102.3h1v1.5h-1zM351.3 121.8h1v1h-1zM378.0 121.3h1.5v1h-1.5zM388.8 48.4h1v1h-1zM331.1 173.9h1v1h-1zM417.0 77.6h1v1h-1zM345.8 129.6h1v1h-1zM370.3 92.0h1v1.5h-1zM358.7 81.2h1v1.5h-1zM367.9 69.5h1v1h-1zM354.0 110.7h1v1h-1zM392.8 122.7h1v1h-1zM332.8 124.6h1.5v1h-1.5zM374.4 44.0h1.5v1h-1.5zM424.9 56.2h1v1h-1zM321.8 70.0h1v1.5h-1zM418.9 56.1h1.5v1h-1.5zM347.3 115.8h1.5v1h-1.5zM372.2 126.9h1.5v1h-1.5zM355.2 47.9h1v1h-1zM336.3 116.1h1v1h-1zM335.2 55.4h1v1h-1zM319.6 95.2h1v1h-1zM325.8 69.2h1v1h-1zM399.5 161.4h1v1h-1zM368.9 35.4h1.5v1h-1.5zM332.1 42.5h1v1h-1zM396.0 109.5h1v1h-1zM401.0 87.1h1v1h-1zM319.8 120.6h1v1h-1zM374.2 151.0h1v1h-1zM415.7 127.8h1.5v1h-1.5zM410.5 35.4h1v1h-1zM405.1 143.8h1.5v1h-1.5zM364.0 164.2h1v1h-1zM321.1 154.2h1v1.5h-1zM374.5 46.3h1.5v1h-1.5zM399.8 72.5h1v1.5h-1zM419.0 84.3h1.5v1h-1.5zM382.5 143.9h1v1h-1zM326.8 43.3h1v1h-1zM343.9 82.1h1v1h-1zM322.0 116.2h1v1h-1zM374.0 126.3h1.5v1h-1.5zM357.0 70.8h1v1.5h-1zM428.7 126.9h1v1.5h-1zM382.8 146.9h1v1h-1zM356.9 51.9h1.5v1h-1.5zM339.8 121.3h1.5v1h-1.5zM410.4 100.5h1.5v1h-1.5zM398.6 115.1h1.5v1.5h-1.5zM388.8 55.0h1v1h-1zM382.4 102.3h1.5v1.5h-1.5zM380.7 70.8h1.5v1h-1.5zM335.8 78.2h1v1h-1zM341.4 172.8h1v1.5h-1zM332.4 72.4h1v1.5h-1zM408.4 135.5h1.5v1h-1.5zM371.0 124.0h1v1h-1zM344.0 172.6h1v1h-1zM346.0 134.3h1v1.5h-1zM367.8 58.1h1.5v1h-1.5zM328.3 152.9h1v1h-1zM365.3 142.5h1.5v1.5h-1.5zM375.4 63.6h1v1h-1zM383.5 98.4h1v1.5h-1zM376.3 90.8h1v1h-1zM338.3 148.6h1.5v1h-1.5zM369.6 150.7h1v1.5h-1zM334.0 119.5h1.5v1h-1.5zM401.3 55.1h1v1h-1zM401.7 54.1h1.5v1h-1.5zM352.3 149.5h1v1h-1zM321.7 163.8h1v1.5h-1zM411.4 38.0h1v1h-1zM389.8 167.3h1v1h-1zM334.5 128.6h1v1h-1zM337.4 57.9h1.5v1h-1.5zM403.5 112.7h1v1h-1zM409.8 151.6h1v1h-1zM397.0 164.6h1.5v1h-1.5zM369.0 82.0h1.5v1h-1.5zM402.0 161.2h1.5v1h-1.5zM412.0 66.3h1v1h-1zM384.4 76.4h1v1h-1zM405.2 88.4h1v1h-1zM408.8 57.7h1.5v1h-1.5zM357.8 97.2h1.5v1h-1.5zM357.9 70.4h1v1h-1zM383.5 80.6h1v1h-1zM418.3 122.9h1.5v1h-1.5zM330.1 138.4h1v1h-1zM354.4 101.5h1v1h-1zM344.9 113.7h1v1h-1zM327.3 59.1h1.5v1h-1.5zM406.3 63.0h1v1h-1zM392.5 80.5h1.5v1h-1.5zM411.6 73.1h1.5v1.5h-1.5zM350.0 89.6h1v1h-1zM371.2 142.1h1v1h-1zM358.9 68.9h1v1.5h-1zM363.9 34.3h1v1h-1zM357.7 130.1h1v1.5h-1zM417.6 38.3h1v1.5h-1zM414.2 111.6h1.5v1.5h-1.5zM361.3 97.3h1.5v1h-1.5zM394.9 77.7h1v1h-1zM380.6 77.4h1v1h-1zM335.5 149.1h1v1h-1zM404.7 126.3h1v1h-1zM352.9 66.1h1.5v1.5h-1.5z"/>
<path fill="#5a7462" d="M410.8 49.7h1v1h-1zM324.5 65.1h1v1h-1zM390.8 169.1h1.5v1h-1.5zM362.6 89.1h1v1.5h-1zM419.9 78.9h1v1h-1zM405.8 134.4h1.5v1h-1.5zM406.6 77.9h1.5v1.5h-1.5zM407.7 131.0h1v1h-1zM418.1 60.1h1.5v1h-1.5zM332.5 96.8h1v1h-1zM363.2 101.4h1v1h-1zM352.3 122.3h1v1h-1zM322.5 52.4h1v1h-1zM326.2 89.6h1v1h-1zM365.1 72.5h1v1h-1zM402.2 89.0h1.5v1h-1.5zM322.8 82.2h1.5v1h-1.5zM391.1 99.0h1v1h-1zM322.5 105.1h1.5v1h-1.5zM363.2 71.1h1v1h-1zM424.8 74.5h1v1.5h-1zM321.0 144.6h1v1h-1zM404.8 50.6h1v1h-1zM412.5 123.3h1v1h-1zM345.4 86.1h1v1h-1zM388.9 87.1h1v1h-1zM420.2 47.0h1v1h-1zM371.1 150.1h1v1h-1zM425.1 64.1h1v1h-1zM387.6 37.3h1.5v1h-1.5zM360.3 75.7h1.5v1h-1.5zM417.3 95.1h1v1.5h-1zM347.8 132.7h1.5v1h-1.5zM320.8 148.4h1v1h-1zM349.5 89.8h1v1h-1zM390.3 131.8h1v1h-1zM406.0 64.2h1.5v1h-1.5zM356.9 142.9h1v1h-1zM363.3 110.8h1.5v1h-1.5zM374.3 105.6h1v1.5h-1zM398.6 34.6h1v1h-1zM335.1 147.7h1v1h-1zM385.7 75.5h1.5v1h-1.5zM328.7 149.7h1v1h-1zM347.2 38.4h1v1h-1zM417.6 51.7h1.5v1h-1.5zM423.1 84.7h1.5v1h-1.5zM426.7 39.9h1v1h-1zM345.7 80.8h1.5v1h-1.5zM361.3 75.2h1v1h-1zM374.6 123.2h1v1h-1zM388.9 115.8h1v1h-1zM320.2 33.4h1v1h-1zM330.1 57.6h1.5v1.5h-1.5zM368.9 86.9h1v1h-1zM425.6 98.8h1v1h-1zM393.9 112.9h1.5v1h-1.5zM337.9 87.4h1v1h-1zM381.3 48.9h1.5v1h-1.5zM392.0 110.7h1v1h-1zM386.5 92.3h1v1h-1zM405.3 79.8h1v1.5h-1zM427.8 107.7h1v1.5h-1zM334.7 65.7h1v1.5h-1zM367.7 126.2h1v1h-1zM342.6 79.7h1v1.5h-1zM386.7 143.1h1v1h-1zM407.4 44.8h1v1.5h-1zM374.8 81.9h1v1.5h-1zM379.4 109.0h1.5v1h-1.5zM365.8 108.7h1.5v1h-1.5zM338.7 168.9h1v1h-1zM359.2 154.7h1.5v1h-1.5zM360.7 38.9h1v1.5h-1zM390.9 144.1h1v1h-1zM384.8 96.7h1.5v1.5h-1.5zM429.4 56.3h1v1.5h-1zM363.6 38.7h1v1h-1zM396.1 60.0h1v1h-1zM402.3 53.8h1v1h-1zM411.4 140.9h1v1.5h-1zM362.5 143.1h1v1.5h-1zM354.4 157.0h1v1h-1zM404.8 36.5h1.5v1h-1.5zM337.4 58.3h1v1.5h-1zM412.4 139.1h1v1.5h-1zM319.3 116.7h1v1.5h-1zM425.0 69.4h1v1h-1zM367.5 135.5h1.5v1h-1.5zM396.7 142.1h1v1h-1zM411.9 129.4h1v1h-1zM350.9 161.7h1v1h-1zM338.7 47.4h1v1.5h-1zM331.2 113.2h1.5v1h-1.5zM332.1 102.2h1v1h-1zM344.1 170.2h1v1h-1zM417.6 121.5h1v1h-1zM326.8 142.2h1v1h-1zM346.1 126.8h1v1h-1zM383.6 163.0h1v1h-1zM353.9 147.9h1v1h-1zM325.9 100.1h1v1h-1zM353.5 43.6h1v1.5h-1zM394.9 37.8h1v1h-1zM425.2 113.2h1v1.5h-1zM338.2 139.9h1v1h-1zM417.0 165.8h1.5v1h-1.5zM354.5 57.3h1v1h-1zM384.5 50.2h1v1h-1zM424.1 106.2h1v1h-1zM412.0 38.4h1.5v1.5h-1.5zM332.4 156.6h1v1.5h-1zM425.6 159.9h1v1h-1zM343.5 162.5h1v1h-1zM365.2 98.8h1v1h-1zM386.1 74.3h1v1h-1zM330.3 167.7h1v1h-1zM415.7 36.0h1v1h-1zM336.8 105.2h1v1.5h-1zM370.4 137.7h1v1h-1zM345.8 46.2h1.5v1.5h-1.5zM392.4 78.2h1v1.5h-1zM325.3 60.8h1v1h-1zM418.4 146.4h1.5v1h-1.5zM367.8 88.6h1v1h-1zM419.2 48.5h1.5v1h-1.5zM419.5 57.5h1v1.5h-1zM365.3 167.1h1v1h-1zM329.2 166.8h1.5v1h-1.5zM360.8 114.4h1v1h-1zM393.6 46.1h1.5v1.5h-1.5zM411.2 97.0h1v1.5h-1zM416.1 91.1h1v1h-1zM421.6 47.5h1v1h-1zM340.6 107.1h1v1h-1zM346.5 163.2h1v1h-1zM414.8 56.5h1v1h-1zM393.0 109.8h1v1.5h-1zM362.8 34.7h1.5v1h-1.5zM356.3 34.7h1v1h-1zM373.6 89.3h1v1.5h-1zM379.3 161.5h1.5v1h-1.5zM420.0 55.0h1v1h-1zM332.0 90.3h1v1h-1zM398.3 139.8h1v1h-1zM429.0 96.7h1.5v1h-1.5zM328.9 174.5h1v1h-1zM400.2 56.5h1v1h-1zM332.0 86.0h1v1h-1zM359.6 105.9h1v1h-1zM364.6 138.3h1v1h-1zM364.9 165.7h1v1.5h-1zM381.3 83.0h1.5v1h-1.5zM347.3 132.4h1.5v1.5h-1.5zM368.3 155.5h1v1h-1zM352.8 149.2h1v1h-1zM352.6 52.2h1v1h-1zM407.9 74.2h1v1h-1zM323.4 150.7h1v1h-1zM324.7 34.5h1v1h-1zM381.0 141.3h1v1h-1zM385.5 83.2h1v1h-1zM343.7 95.7h1v1h-1zM386.9 137.3h1.5v1.5h-1.5zM395.6 169.3h1.5v1.5h-1.5zM320.5 136.0h1v1h-1zM402.3 63.7h1v1h-1zM323.6 82.2h1.5v1h-1.5zM341.9 136.3h1v1.5h-1zM373.9 33.9h1v1h-1zM345.7 117.0h1v1h-1zM366.8 98.7h1v1.5h-1zM335.6 172.0h1v1h-1zM414.0 82.5h1.5v1.5h-1.5zM351.0 69.3h1v1h-1zM356.4 95.4h1v1h-1zM329.5 54.5h1v1h-1zM333.3 169.6h1v1h-1zM399.9 111.6h1v1h-1zM341.8 108.8h1v1.5h-1zM427.3 148.8h1v1h-1zM331.5 101.3h1.5v1h-1.5zM429.0 120.4h1v1h-1zM416.9 63.1h1v1h-1zM356.2 105.7h1v1.5h-1zM352.5 155.9h1.5v1h-1.5zM380.1 156.4h1v1h-1zM328.7 155.6h1v1h-1zM322.5 111.5h1v1.5h-1zM393.7 41.6h1.5v1h-1.5zM343.6 163.8h1v1h-1zM426.8 54.1h1v1h-1zM402.1 38.1h1v1h-1zM412.1 153.6h1v1h-1zM339.9 104.1h1v1h-1zM412.9 49.9h1v1h-1zM320.5 124.1h1v1h-1zM415.9 52.1h1v1h-1zM366.4 125.1h1v1h-1zM347.5 95.2h1.5v1h-1.5zM382.9 71.6h1.5v1h-1.5zM319.6 163.4h1v1h-1zM329.1 167.1h1.5v1h-1.5zM407.2 99.4h1.5v1h-1.5zM330.7 141.8h1v1h-1zM365.8 58.4h1.5v1h-1.5zM397.9 64.3h1v1h-1zM336.1 50.0h1v1.5h-1zM399.8 37.5h1v1h-1zM377.4 100.1h1v1h-1zM411.3 135.4h1.5v1h-1.5zM350.5 106.5h1v1h-1zM376.1 83.5h1.5v1.5h-1.5zM411.2 152.8h1.5v1.5h-1.5zM362.3 135.1h1v1h-1zM418.4 112.7h1v1h-1zM421.7 125.0h1v1.5h-1zM399.1 132.0h1.5v1h-1.5zM342.3 127.1h1v1h-1zM363.2 76.0h1v1h-1zM423.2 125.6h1v1h-1zM363.0 155.0h1v1h-1zM422.3 115.5h1.5v1h-1.5zM384.5 129.6h1.5v1h-1.5zM418.8 40.2h1v1h-1zM417.9 122.6h1v1.5h-1zM339.3 58.5h1v1h-1zM326.3 164.4h1v1h-1zM373.6 91.5h1.5v1.5h-1.5zM402.0 95.4h1v1h-1zM367.9 94.7h1v1h-1zM326.7 84.9h1v1.5h-1zM370.8 84.0h1v1h-1zM379.2 70.3h1v1h-1zM356.9 110.8h1v1h-1zM387.6 52.2h1v1h-1zM359.9 62.0h1v1.5h-1zM408.2 35.9h1.5v1h-1.5zM407.3 160.1h1v1h-1zM354.1 59.2h1.5v1h-1.5zM366.6 77.3h1v1.5h-1zM403.9 163.6h1.5v1h-1.5zM379.1 52.5h1.5v1h-1.5zM339.6 135.6h1.5v1.5h-1.5zM379.2 39.0h1v1.5h-1zM386.5 139.1h1v1h-1zM398.7 79.9h1v1.5h-1zM392.9 85.8h1.5v1h-1.5zM338.8 92.7h1.5v1h-1.5zM355.9 64.7h1.5v1h-1.5zM341.7 160.4h1v1h-1zM399.0 138.1h1v1h-1zM414.1 59.7h1.5v1h-1.5zM426.9 129.9h1v1h-1zM377.6 81.0h1v1h-1zM361.6 72.2h1v1h-1zM419.6 116.4h1v1h-1zM416.0 135.3h1.5v1.5h-1.5zM344.7 119.5h1.5v1h-1.5zM380.2 102.6h1v1h-1zM393.2 103.3h1.5v1.5h-1.5zM326.3 82.4h1v1h-1zM387.0 54.1h1v1h-1zM332.8 175.7h1v1.5h-1zM392.9 36.8h1v1h-1zM350.7 106.2h1v1h-1zM331.1 123.1h1v1h-1zM407.9 111.3h1v1h-1zM345.1 93.9h1v1h-1zM362.8 63.9h1v1h-1zM392.0 48.2h1.5v1h-1.5zM414.2 49.2h1v1h-1zM361.0 38.4h1v1h-1zM383.0 166.8h1v1h-1zM367.8 75.2h1v1h-1zM333.6 58.4h1v1h-1zM339.2 107.9h1.5v1h-1.5zM361.9 62.1h1v1h-1zM349.1 82.3h1v1.5h-1zM323.0 147.4h1v1h-1zM380.2 116.6h1.5v1h-1.5zM376.2 79.8h1v1.5h-1zM412.5 75.9h1v1h-1zM319.2 141.3h1v1.5h-1zM320.7 38.3h1v1.5h-1zM368.7 85.7h1v1h-1zM354.8 49.5h1v1h-1zM335.9 62.5h1v1h-1zM403.1 53.9h1v1h-1zM369.3 129.7h1v1h-1zM415.5 106.9h1v1.5h-1zM423.9 161.1h1v1h-1zM332.6 134.1h1v1h-1zM409.2 137.8h1v1h-1zM357.7 101.7h1v1.5h-1zM348.6 97.2h1v1h-1zM413.2 78.0h1v1h-1zM425.7 157.4h1v1h-1zM352.5 63.7h1.5v1h-1.5zM325.9 56.6h1.5v1h-1.5zM340.2 113.1h1v1h-1zM382.8 147.2h1v1h-1zM383.4 148.1h1v1h-1zM326.3 39.8h1v1h-1zM356.1 77.5h1v1.5h-1zM418.5 96.6h1v1h-1zM420.6 146.3h1.5v1h-1.5zM382.8 75.5h1v1h-1zM363.5 66.4h1v1h-1zM424.2 123.9h1v1h-1zM413.2 94.7h1.5v1h-1.5zM320.7 111.2h1v1h-1zM410.1 57.2h1v1h-1zM367.5 108.7h1v1h-1zM360.1 146.8h1v1h-1zM339.5 175.4h1v1h-1zM399.0 163.3h1v1h-1zM367.1 42.5h1.5v1.5h-1.5zM386.2 124.0h1v1h-1zM329.8 156.8h1v1h-1zM400.4 67.3h1.5v1h-1.5zM385.8 62.0h1.5v1h-1.5zM363.6 169.6h1.5v1h-1.5zM338.9 107.8h1.5v1.5h-1.5zM336.0 80.5h1v1h-1zM412.5 116.1h1v1h-1zM414.2 161.0h1v1h-1zM360.5 130.5h1.5v1.5h-1.5zM415.6 106.2h1v1h-1zM371.1 137.5h1.5v1h-1.5zM351.0 65.1h1v1.5h-1zM340.7 87.4h1v1.5h-1zM391.2 123.7h1v1h-1zM351.8 52.1h1v1.5h-1zM369.6 171.7h1.5v1h-1.5zM333.3 102.8h1v1h-1zM326.9 143.3h1v1.5h-1zM424.8 135.4h1v1h-1zM411.7 84.0h1.5v1.5h-1.5zM384.4 69.0h1.5v1.5h-1.5zM403.2 149.1h1v1.5h-1zM409.9 126.8h1.5v1.5h-1.5zM382.9 71.2h1.5v1h-1.5zM412.9 157.1h1v1h-1zM388.8 45.5h1v1h-1zM325.4 52.5h1v1h-1zM363.4 169.8h1v1.5h-1zM378.1 86.1h1v1h-1zM426.1 81.3h1v1h-1zM334.5 72.8h1.5v1h-1.5zM322.2 139.6h1v1.5h-1zM375.7 110.6h1v1h-1zM324.3 150.8h1v1h-1zM355.0 126.2h1.5v1h-1.5zM355.0 110.0h1v1.5h-1zM339.4 103.0h1v1h-1zM362.6 148.9h1.5v1.5h-1.5zM418.1 81.0h1v1.5h-1zM343.7 77.2h1v1h-1zM334.9 52.6h1v1.5h-1zM401.1 131.9h1v1.5h-1zM357.9 146.8h1.5v1.5h-1.5zM378.4 48.0h1v1h-1zM391.5 122.2h1v1h-1zM387.1 115.8h1v1h-1zM422.5 64.5h1.5v1.5h-1.5zM347.9 51.2h1.5v1.5h-1.5zM407.3 132.8h1v1h-1zM402.8 37.2h1v1h-1zM416.7 39.3h1v1h-1zM364.0 155.2h1v1.5h-1zM410.7 39.3h1v1h-1zM393.1 93.3h1v1h-1zM373.9 130.3h1v1h-1zM338.0 109.3h1v1h-1zM321.3 95.7h1.5v1h-1.5zM349.2 142.8h1.5v1h-1.5zM424.2 51.5h1v1h-1zM404.8 75.4h1v1h-1zM405.1 114.0h1.5v1.5h-1.5zM380.3 131.3h1v1h-1zM362.0 64.1h1v1.5h-1zM421.6 121.7h1v1h-1zM370.3 170.0h1v1.5h-1zM333.5 131.8h1v1h-1zM366.9 47.3h1.5v1.5h-1.5zM404.8 128.1h1v1h-1zM404.1 128.1h1v1h-1zM397.0 146.0h1v1h-1zM416.8 68.5h1.5v1h-1.5zM330.6 155.2h1v1h-1zM380.7 153.9h1v1h-1zM348.0 109.0h1v1h-1zM421.8 41.4h1v1.5h-1zM323.0 61.8h1v1h-1zM347.7 136.4h1v1.5h-1zM347.9 44.0h1v1h-1zM421.3 33.3h1v1h-1zM394.7 155.4h1.5v1.5h-1.5zM379.6 118.7h1v1h-1zM352.6 50.2h1.5v1h-1.5zM404.1 72.4h1.5v1h-1.5zM372.9 48.9h1v1.5h-1zM368.0 49.4h1v1.5h-1zM333.3 171.7h1.5v1h-1.5zM408.1 66.4h1v1h-1zM420.5 86.2h1v1h-1zM427.7 94.9h1.5v1h-1.5zM340.6 73.1h1v1h-1zM424.8 43.4h1v1h-1zM391.6 74.9h1v1h-1zM405.8 74.3h1v1.5h-1zM352.6 170.7h1v1h-1zM358.9 129.4h1v1h-1zM429.6 51.5h1.5v1h-1.5zM426.5 164.4h1.5v1h-1.5zM379.1 140.0h1v1h-1zM412.5 57.0h1v1h-1zM358.8 152.7h1.5v1h-1.5zM337.6 122.3h1v1h-1zM353.2 128.8h1v1h-1zM391.4 151.9h1v1h-1zM402.0 82.3h1v1.5h-1zM394.2 71.9h1v1h-1z"/>
<path fill="#6e8a74" d="M332.1 93.3h1v1h-1zM371.6 49.1h1.5v1.5h-1.5zM373.7 134.7h1v1h-1zM371.2 80.1h1.5v1h-1.5zM322.1 119.0h1.5v1h-1.5zM387.0 102.5h1v1h-1zM386.5 63.6h1v1h-1zM411.8 108.1h1v1h-1zM345.1 140.9h1v1.5h-1zM394.0 72.7h1v1.5h-1zM350.0 49.0h1v1h-1zM422.6 87.7h1v1h-1zM324.4 167.6h1v1h-1zM390.4 43.3h1.5v1h-1.5zM405.9 63.3h1v1h-1zM343.8 118.8h1v1h-1zM344.3 93.6h1v1h-1zM341.0 147.1h1v1h-1zM426.7 74.3h1v1h-1zM343.6 141.6h1v1h-1zM353.6 135.7h1v1h-1zM363.0 172.4h1v1h-1zM429.0 46.5h1.5v1h-1.5zM366.0 147.9h1.5v1h-1.5zM368.6 119.5h1.5v1h-1.5zM406.9 68.7h1v1h-1zM319.7 156.1h1.5v1h-1.5zM398.2 118.7h1v1.5h-1zM343.9 138.9h1v1.5h-1zM342.5 51.5h1v1h-1zM332.1 93.5h1v1.5h-1zM368.6 35.0h1.5v1h-1.5zM328.3 40.4h1v1.5h-1zM425.2 122.0h1.5v1h-1.5zM335.1 141.6h1v1h-1zM362.3 85.7h1.5v1h-1.5zM343.6 41.1h1.5v1h-1.5zM421.8 131.4h1v1h-1zM398.6 39.1h1v1.5h-1zM393.3 63.8h1.5v1.5h-1.5zM385.0 164.7h1v1h-1zM404.7 54.5h1v1h-1zM364.8 47.5h1.5v1h-1.5zM415.9 114.4h1.5v1.5h-1.5zM380.6 86.2h1v1h-1zM387.8 93.1h1.5v1.5h-1.5zM352.0 100.5h1v1h-1zM409.7 86.8h1v1.5h-1zM401.0 108.0h1v1h-1zM341.4 77.4h1v1.5h-1zM368.7 48.8h1v1.5h-1zM351.8 95.9h1v1h-1zM417.2 36.7h1v1h-1zM407.8 51.1h1v1h-1zM411.2 85.7h1v1h-1zM407.9 37.8h1v1.5h-1zM337.8 84.8h1.5v1h-1.5zM362.1 82.7h1v1h-1zM319.8 160.0h1.5v1.5h-1.5zM428.6 80.3h1.5v1h-1.5zM417.0 61.1h1v1h-1zM343.9 110.2h1v1h-1zM424.7 68.5h1v1h-1zM364.0 111.4h1.5v1h-1.5zM392.7 159.4h1v1h-1zM337.8 85.5h1v1h-1zM349.5 74.3h1.5v1h-1.5zM349.5 79.1h1v1h-1zM366.0 144.0h1v1h-1zM392.9 78.1h1v1h-1zM333.6 62.9h1v1.5h-1zM397.8 52.2h1v1h-1zM343.4 95.7h1v1h-1zM412.1 52.6h1v1h-1zM392.0 61.8h1v1h-1zM401.9 48.3h1v1.5h-1zM374.1 107.6h1v1h-1zM429.7 137.7h1.5v1h-1.5zM391.3 166.1h1v1.5h-1zM334.0 152.3h1v1h-1zM319.5 104.3h1v1h-1zM351.4 45.5h1v1h-1zM417.8 114.6h1.5v1h-1.5zM425.3 81.0h1.5v1h-1.5zM353.3 166.7h1v1h-1zM390.2 111.9h1.5v1.5h-1.5zM384.6 50.4h1v1.5h-1zM414.6 55.7h1v1.5h-1zM329.4 174.1h1v1h-1zM349.4 76.9h1v1h-1zM327.3 49.5h1v1.5h-1zM355.0 46.4h1.5v1h-1.5zM327.3 113.7h1.5v1h-1.5zM417.4 135.0h1v1h-1zM392.6 82.4h1v1.5h-1zM391.9 122.1h1v1h-1zM320.4 171.2h1v1h-1zM345.5 152.4h1v1h-1zM327.1 87.6h1v1h-1zM388.3 97.8h1v1h-1zM375.6 155.9h1.5v1h-1.5zM320.5 169.0h1v1h-1zM414.3 159.6h1v1h-1zM398.5 132.9h1v1h-1zM326.8 42.8h1v1h-1zM342.1 110.6h1v1h-1zM370.6 149.4h1v1h-1zM331.8 162.5h1v1h-1zM355.4 131.2h1v1h-1zM339.0 54.8h1v1h-1zM382.7 108.4h1v1h-1zM386.3 92.9h1v1h-1zM423.7 165.7h1.5v1h-1.5zM328.6 156.2h1v1h-1zM338.8 143.5h1v1h-1zM332.8 74.0h1v1h-1zM356.2 141.1h1v1h-1zM374.8 100.9h1v1h-1zM341.2 155.4h1v1h-1zM407.4 142.4h1v1.5h-1zM349.4 75.8h1v1h-1zM401.5 76.4h1v1h-1zM339.3 115.8h1v1h-1zM348.2 59.0h1v1h-1zM414.8 48.3h1v1.5h-1zM391.9 123.1h1v1.5h-1zM367.3 64.9h1v1h-1zM332.6 35.4h1v1h-1zM330.1 42.2h1v1h-1zM351.1 114.5h1v1h-1zM423.2 143.9h1v1.5h-1zM392.5 161.3h1.5v1.5h-1.5zM342.2 128.5h1v1h-1zM368.5 42.4h1v1h-1zM324.1 160.6h1v1h-1zM401.2 157.9h1.5v1h-1.5zM333.0 98.4h1v1.5h-1zM353.2 106.0h1v1h-1zM362.2 64.7h1v1h-1zM361.8 173.5h1.5v1h-1.5zM357.4 143.5h1v1h-1zM360.2 171.6h1v1h-1zM368.4 154.4h1v1h-1zM420.9 138.5h1v1.5h-1zM345.4 109.4h1.5v1h-1.5zM343.1 142.3h1.5v1h-1.5zM356.5 89.2h1v1h-1zM322.1 125.5h1v1h-1zM324.2 59.3h1v1.5h-1zM402.3 118.9h1v1.5h-1zM420.0 154.3h1v1h-1zM374.9 132.8h1v1h-1zM357.0 113.9h1v1h-1zM359.8 105.4h1v1.5h-1zM378.0 139.8h1v1.5h-1zM328.8 90.9h1v1h-1zM426.6 155.9h1v1h-1zM414.3 36.3h1v1h-1zM354.1 100.3h1v1.5h-1zM360.3 116.9h1v1h-1zM356.8 82.3h1v1h-1zM409.4 33.6h1.5v1h-1.5zM334.1 73.0h1v1h-1zM397.8 150.6h1v1.5h-1zM326.8 57.9h1.5v1h-1.5zM374.5 106.7h1.5v1h-1.5zM359.9 71.8h1v1h-1zM349.1 102.2h1v1h-1zM420.2 119.0h1.5v1h-1.5zM336.0 170.2h1.5v1h-1.5zM398.6 37.7h1v1h-1zM332.8 147.2h1.5v1h-1.5zM346.8 146.4h1.5v1h-1.5zM426.0 110.1h1v1h-1zM343.1 69.7h1v1h-1zM376.4 72.0h1.5v1h-1.5zM397.4 159.0h1v1h-1zM327.4 158.9h1.5v1h-1.5zM428.7 75.5h1v1h-1zM379.0 68.4h1v1h-1zM372.5 125.6h1v1h-1zM333.3 77.7h1v1.5h-1zM364.6 83.7h1v1h-1zM355.1 154.5h1v1h-1zM335.2 70.5h1.5v1h-1.5zM421.0 61.6h1v1h-1zM364.7 132.3h1v1h-1zM326.2 161.2h1v1h-1zM425.3 97.9h1v1h-1zM363.1 158.6h1v1h-1zM365.3 59.2h1v1h-1zM329.8 46.3h1v1h-1zM349.8 120.9h1.5v1h-1.5zM327.3 135.6h1v1h-1zM348.6 140.1h1v1.5h-1zM395.7 79.4h1v1h-1zM345.7 106.5h1v1h-1zM410.0 162.4h1.5v1.5h-1.5zM388.2 65.2h1v1h-1zM345.0 79.3h1v1h-1zM344.0 34.8h1.5v1h-1.5zM393.8 154.2h1v1h-1zM423.0 159.0h1v1h-1zM343.7 44.3h1v1.5h-1zM356.8 83.5h1.5v1h-1.5zM338.3 72.5h1v1h-1zM429.4 128.1h1v1h-1zM337.8 172.0h1.5v1h-1.5zM334.6 72.8h1v1.5h-1zM413.9 150.7h1v1.5h-1zM398.2 159.9h1v1h-1zM331.2 119.1h1v1h-1zM381.2 161.5h1v1.5h-1zM374.1 72.5h1v1h-1zM410.2 33.6h1.5v1h-1.5zM414.7 45.3h1v1.5h-1zM385.0 95.8h1v1h-1zM403.6 103.3h1.5v1h-1.5zM357.7 119.9h1v1h-1zM427.0 150.3h1v1h-1zM335.7 115.7h1v1h-1zM341.2 158.7h1v1.5h-1zM364.9 42.2h1v1h-1zM331.8 34.9h1.5v1.5h-1.5zM364.4 165.9h1.5v1h-1.5zM367.5 54.7h1.5v1h-1.5zM353.2 164.6h1.5v1h-1.5zM335.4 85.3h1v1h-1zM364.3 132.6h1v1.5h-1zM389.8 56.3h1v1.5h-1zM410.9 107.0h1.5v1h-1.5zM423.5 80.6h1v1h-1zM389.4 98.2h1v1h-1zM404.6 157.2h1v1.5h-1zM404.5 110.6h1.5v1h-1.5zM373.6 96.6h1v1h-1zM350.3 75.3h1v1.5h-1zM356.5 121.5h1.5v1h-1.5zM336.7 81.1h1v1h-1zM429.7 141.5h1v1.5h-1zM408.7 163.3h1v1h-1zM335.9 60.1h1.5v1h-1.5zM361.8 89.7h1.5v1h-1.5zM416.5 62.8h1v1.5h-1zM366.1 125.8h1v1h-1zM325.0 45.7h1v1h-1zM421.4 63.7h1v1h-1zM398.1 43.8h1v1h-1zM406.4 152.8h1v1h-1zM379.0 167.2h1.5v1h-1.5zM333.8 139.1h1v1h-1zM369.9 120.9h1v1h-1zM413.3 34.8h1v1h-1zM397.3 156.9h1v1h-1zM369.0 150.4h1v1h-1zM401.2 164.5h1v1h-1zM375.4 40.5h1.5v1.5h-1.5zM386.3 55.4h1v1h-1zM334.6 109.1h1.5v1h-1.5zM408.6 92.7h1.5v1.5h-1.5zM397.7 145.1h1v1.5h-1zM327.8 117.8h1v1.5h-1zM351.5 53.6h1v1.5h-1zM326.0 81.5h1v1.5h-1zM361.9 136.8h1v1h-1zM366.8 158.8h1.5v1h-1.5zM360.4 118.3h1v1.5h-1zM385.6 155.3h1v1h-1zM424.7 35.6h1v1h-1zM427.0 145.4h1v1h-1zM401.9 121.0h1v1h-1zM355.7 80.3h1.5v1.5h-1.5zM345.7 81.6h1v1h-1zM319.3 143.0h1v1h-1zM376.9 48.5h1v1.5h-1zM418.9 35.8h1.5v1h-1.5zM334.4 48.2h1v1.5h-1zM329.3 148.1h1.5v1h-1.5zM405.7 140.8h1v1h-1zM375.8 154.4h1.5v1.5h-1.5zM354.6 58.7h1v1h-1zM420.6 136.9h1v1h-1zM372.5 78.9h1.5v1h-1.5zM374.3 102.4h1v1.5h-1zM413.2 40.3h1v1.5h-1zM401.0 107.8h1v1h-1zM337.6 155.1h1v1.5h-1zM380.6 108.6h1.5v1h-1.5zM388.5 149.3h1v1h-1zM346.2 75.2h1v1.5h-1zM400.8 46.2h1v1h-1zM383.5 101.1h1v1h-1zM383.8 91.7h1v1.5h-1zM342.9 165.3h1v1h-1zM382.8 80.0h1v1.5h-1zM352.2 83.1h1v1.5h-1zM360.4 120.3h1v1h-1zM418.7 127.2h1.5v1h-1.5zM415.5 105.6h1v1h-1zM321.8 133.5h1.5v1.5h-1.5zM354.3 170.7h1v1h-1zM381.8 49.3h1v1h-1zM378.3 62.9h1v1h-1zM410.6 104.0h1v1h-1zM395.1 64.6h1v1.5h-1zM348.2 168.0h1v1.5h-1zM402.4 164.1h1v1.5h-1zM347.9 158.8h1v1h-1zM393.3 85.8h1.5v1h-1.5zM423.3 113.0h1v1h-1zM420.6 56.9h1v1h-1zM350.7 82.4h1v1h-1zM335.2 78.9h1v1h-1zM340.3 110.8h1v1h-1zM368.1 51.7h1v1.5h-1zM405.1 119.6h1v1h-1zM384.5 94.9h1v1.5h-1zM357.2 92.1h1v1h-1zM360.3 39.5h1v1h-1zM335.2 133.8h1v1h-1zM356.0 145.7h1v1h-1zM368.7 171.4h1v1h-1zM381.1 164.9h1v1h-1zM373.2 74.1h1v1h-1zM420.3 80.5h1v1h-1zM373.6 167.5h1.5v1.5h-1.5zM319.8 67.2h1v1h-1zM379.1 74.4h1v1h-1zM375.3 89.1h1v1.5h-1zM361.6 168.8h1v1h-1zM389.6 145.3h1v1h-1zM348.0 143.0h1v1h-1zM354.9 165.6h1v1.5h-1zM389.0 132.5h1v1h-1zM375.8 125.7h1.5v1h-1.5zM391.4 130.4h1.5v1h-1.5zM320.9 107.8h1.5v1h-1.5zM374.4 153.9h1v1h-1zM377.2 164.3h1v1.5h-1zM357.5 106.8h1v1h-1zM406.7 149.9h1v1h-1zM351.9 146.6h1v1.5h-1zM416.8 142.1h1v1h-1zM320.7 66.5h1v1.5h-1zM356.8 81.3h1v1h-1zM428.1 84.5h1v1h-1zM326.0 164.0h1v1.5h-1zM328.9 36.6h1v1h-1zM332.6 149.7h1.5v1.5h-1.5zM382.5 111.8h1v1.5h-1zM345.3 91.6h1v1h-1zM401.6 53.9h1v1h-1zM383.9 125.5h1v1h-1zM378.9 146.2h1v1h-1zM389.2 103.3h1v1h-1zM429.4 56.0h1.5v1h-1.5zM416.8 76.3h1v1h-1zM365.9 45.9h1.5v1h-1.5zM347.8 95.9h1v1h-1zM402.3 125.1h1v1.5h-1zM423.3 146.6h1v1h-1zM406.5 103.3h1v1h-1zM336.4 171.3h1v1h-1zM391.4 165.1h1.5v1.5h-1.5zM413.8 51.7h1v1h-1zM352.1 126.9h1v1.5h-1zM328.0 126.9h1.5v1.5h-1.5zM368.1 50.7h1v1h-1zM325.6 138.6h1v1h-1zM341.6 163.6h1v1.5h-1zM386.2 144.5h1v1h-1zM409.9 151.5h1v1.5h-1zM340.1 102.7h1v1h-1zM419.2 160.7h1v1h-1zM384.4 155.0h1v1h-1zM343.2 67.7h1v1h-1zM341.4 166.0h1v1h-1zM394.6 61.9h1.5v1h-1.5zM343.3 120.2h1v1.5h-1zM401.0 137.5h1v1.5h-1zM389.0 121.6h1.5v1h-1.5zM332.1 61.8h1v1.5h-1zM358.2 52.1h1v1.5h-1zM428.9 113.0h1v1h-1zM408.6 51.7h1v1h-1zM422.5 161.4h1v1h-1zM384.1 108.6h1.5v1h-1.5zM335.0 58.1h1v1h-1zM420.9 77.6h1v1.5h-1zM344.4 107.8h1v1.5h-1zM358.2 109.8h1v1h-1zM361.1 47.7h1.5v1h-1.5zM367.3 129.9h1v1h-1zM339.8 165.6h1v1h-1zM406.6 67.0h1v1h-1zM420.9 111.3h1.5v1h-1.5zM398.3 105.5h1.5v1h-1.5zM350.1 144.5h1.5v1.5h-1.5zM400.2 126.4h1v1h-1zM378.9 123.9h1v1.5h-1zM411.2 145.2h1v1h-1z"/>
<path fill="#7a9480" d="M354.9 54.3h1v1h-1zM383.6 121.1h1v1h-1zM398.0 109.8h1v1.5h-1zM368.9 109.8h1v1.5h-1zM335.2 109.9h1v1h-1zM424.5 120.0h1v1.5h-1zM372.1 129.4h1v1h-1zM408.5 143.4h1v1h-1zM342.6 104.7h1v1h-1zM365.5 51.4h1v1.5h-1zM365.7 161.6h1v1h-1zM394.7 105.5h1.5v1h-1.5zM325.3 60.8h1v1h-1zM375.4 145.2h1v1h-1zM354.4 135.2h1v1h-1zM369.9 131.2h1.5v1h-1.5zM324.6 62.3h1v1h-1zM422.7 47.1h1.5v1.5h-1.5zM319.1 88.7h1.5v1h-1.5zM399.4 120.5h1v1.5h-1zM348.3 98.0h1v1h-1zM422.9 35.3h1.5v1h-1.5zM402.0 68.5h1v1h-1zM379.8 66.8h1v1h-1zM349.9 77.9h1v1.5h-1zM355.4 78.2h1v1h-1zM332.7 68.6h1v1h-1zM383.7 91.7h1v1.5h-1zM328.1 139.2h1v1h-1zM374.7 160.9h1v1h-1zM380.6 113.2h1v1h-1zM368.1 57.7h1v1h-1zM343.6 74.6h1.5v1.5h-1.5zM426.4 40.4h1v1.5h-1zM341.1 120.0h1.5v1h-1.5zM353.3 75.5h1v1.5h-1zM416.7 77.0h1v1.5h-1zM400.8 41.9h1v1h-1zM376.6 46.6h1.5v1h-1.5zM428.0 116.6h1.5v1h-1.5zM413.0 94.4h1v1.5h-1zM401.4 95.0h1v1.5h-1zM328.5 114.7h1v1h-1zM342.1 90.6h1v1h-1zM377.9 135.9h1.5v1h-1.5zM358.4 102.6h1v1h-1zM409.1 149.9h1v1h-1zM395.0 157.8h1v1h-1zM384.1 34.3h1.5v1.5h-1.5zM383.3 156.7h1v1.5h-1zM408.5 72.1h1v1.5h-1zM323.3 70.2h1v1h-1zM419.4 144.8h1v1h-1zM320.1 133.9h1.5v1h-1.5zM397.0 111.4h1v1h-1zM351.4 48.3h1.5v1.5h-1.5zM377.9 42.6h1.5v1h-1.5zM384.5 161.4h1.5v1h-1.5zM391.2 60.6h1v1.5h-1zM421.6 54.6h1v1h-1zM393.2 52.2h1v1h-1zM351.0 83.1h1v1.5h-1zM347.5 160.6h1v1h-1zM359.3 84.7h1v1h-1zM338.5 127.1h1v1h-1zM417.6 89.3h1v1h-1zM391.3 164.7h1.5v1h-1.5zM345.8 51.5h1v1h-1zM429.8 114.4h1v1h-1zM323.8 135.1h1v1h-1zM328.4 79.8h1.5v1.5h-1.5zM372.4 123.2h1v1h-1zM414.7 67.0h1v1h-1zM374.5 69.4h1v1h-1zM336.4 35.7h1v1h-1zM426.3 59.1h1v1.5h-1zM426.8 33.1h1.5v1h-1.5zM362.7 106.9h1v1h-1zM326.3 142.8h1v1h-1zM394.5 83.1h1v1h-1zM382.3 41.0h1v1h-1zM415.8 52.5h1v1h-1zM353.7 69.1h1v1.5h-1zM393.8 125.3h1v1h-1zM411.8 72.5h1v1h-1zM398.8 75.1h1v1h-1zM355.4 55.1h1v1h-1zM385.8 82.5h1v1h-1zM374.5 79.8h1v1h-1zM356.6 42.3h1.5v1h-1.5zM369.8 139.7h1.5v1h-1.5zM325.6 97.7h1v1h-1zM426.1 103.4h1v1h-1zM406.7 133.4h1v1h-1zM326.0 62.8h1v1h-1zM347.0 36.0h1v1h-1zM324.4 67.9h1v1h-1zM334.9 109.1h1v1h-1zM380.7 146.6h1v1h-1zM320.5 111.4h1v1h-1zM378.6 166.8h1v1h-1zM324.9 129.3h1v1.5h-1zM325.6 95.6h1v1h-1zM354.6 144.1h1v1.5h-1zM413.6 158.9h1.5v1h-1.5zM413.1 151.0h1v1h-1zM400.4 75.3h1v1h-1zM352.5 79.6h1v1.5h-1zM402.5 34.5h1v1.5h-1zM324.9 41.0h1v1h-1zM367.9 71.4h1v1h-1zM377.9 127.4h1v1.5h-1zM326.2 70.4h1v1h-1zM402.2 52.7h1v1h-1zM374.4 72.3h1v1.5h-1zM418.4 125.6h1.5v1h-1.5zM380.2 82.7h1v1h-1zM391.0 91.0h1v1h-1zM375.3 79.6h1v1h-1zM392.5 46.8h1.5v1h-1.5zM358.4 111.9h1v1h-1zM378.0 71.2h1.5v1h-1.5zM346.0 116.7h1.5v1h-1.5zM387.6 131.5h1v1h-1zM415.6 165.6h1.5v1h-1.5zM377.2 54.4h1v1.5h-1zM365.4 119.7h1.5v1.5h-1.5zM335.8 65.0h1v1h-1zM423.7 67.2h1v1h-1zM376.2 59.1h1v1h-1zM370.7 150.1h1v1h-1zM417.4 49.7h1v1.5h-1zM409.2 109.4h1v1h-1zM352.8 102.7h1.5v1h-1.5zM403.4 89.0h1.5v1h-1.5zM421.7 151.2h1v1h-1zM360.5 41.1h1v1.5h-1zM400.2 92.9h1v1h-1zM354.7 62.0h1v1h-1zM410.7 50.3h1v1.5h-1zM377.5 61.7h1v1h-1zM425.8 45.1h1v1h-1zM335.9 80.2h1.5v1h-1.5zM358.2 130.8h1.5v1h-1.5zM416.9 124.6h1.5v1h-1.5zM390.9 93.9h1.5v1h-1.5zM329.8 169.9h1v1h-1zM406.8 36.1h1v1.5h-1zM396.7 77.2h1.5v1h-1.5zM364.9 167.6h1v1h-1zM428.7 41.0h1.5v1h-1.5zM339.4 110.6h1v1.5h-1zM358.7 36.6h1.5v1h-1.5zM360.5 123.5h1v1.5h-1zM383.7 34.7h1v1h-1zM362.4 85.5h1.5v1h-1.5zM386.1 135.0h1v1h-1zM423.1 153.0h1v1h-1zM341.5 47.1h1v1h-1zM362.2 92.8h1v1h-1zM359.6 42.7h1v1.5h-1zM323.8 92.3h1v1h-1zM350.6 59.6h1.5v1h-1.5zM393.1 106.9h1v1h-1zM419.8 162.3h1v1h-1zM406.7 36.5h1v1h-1zM339.6 133.9h1v1h-1zM365.3 72.7h1.5v1h-1.5zM412.1 54.6h1v1h-1zM396.3 62.0h1v1h-1zM371.3 81.3h1v1.5h-1zM412.6 56.0h1v1h-1zM352.4 139.6h1v1h-1zM348.6 44.7h1v1.5h-1zM419.1 140.3h1v1h-1zM407.7 140.7h1v1h-1zM327.7 150.0h1v1h-1zM417.7 50.2h1v1h-1zM391.9 149.8h1v1h-1zM412.3 108.9h1v1h-1zM356.3 120.6h1v1.5h-1zM362.4 126.3h1v1h-1zM375.4 114.1h1v1.5h-1zM399.2 44.3h1v1h-1zM382.7 77.7h1v1h-1zM329.0 93.8h1v1.5h-1zM389.7 79.5h1.5v1h-1.5zM403.2 78.1h1v1.5h-1zM357.4 71.7h1v1h-1zM420.2 91.0h1v1.5h-1zM335.8 107.8h1v1h-1zM334.6 168.9h1v1h-1zM323.0 172.9h1v1.5h-1zM325.1 65.2h1v1h-1zM372.8 70.7h1v1h-1zM359.6 86.3h1.5v1h-1.5zM361.3 82.4h1.5v1h-1.5zM402.2 83.9h1v1h-1zM396.4 89.5h1.5v1h-1.5zM326.1 43.9h1v1h-1zM334.6 153.5h1.5v1h-1.5zM419.7 152.8h1.5v1h-1.5zM362.0 148.7h1v1.5h-1zM334.5 170.9h1v1.5h-1zM351.3 39.7h1.5v1.5h-1.5zM367.6 132.6h1.5v1h-1.5zM365.3 153.0h1v1h-1zM403.7 104.4h1v1h-1zM338.6 92.2h1.5v1h-1.5zM320.9 135.5h1v1h-1zM421.0 83.2h1v1h-1zM367.7 126.4h1v1h-1zM352.0 96.6h1v1h-1zM326.4 51.2h1v1.5h-1zM357.1 94.3h1v1.5h-1zM347.3 134.6h1v1h-1zM344.6 63.1h1.5v1h-1.5zM411.5 74.9h1v1h-1zM395.7 110.2h1.5v1h-1.5zM329.1 163.9h1v1.5h-1zM377.4 109.2h1.5v1h-1.5zM323.5 93.4h1v1h-1zM402.3 63.6h1v1h-1zM348.8 159.5h1.5v1.5h-1.5zM327.0 41.1h1v1h-1zM366.4 114.7h1v1h-1zM334.2 140.4h1v1h-1zM371.2 74.1h1v1h-1zM405.7 164.0h1v1h-1zM338.3 86.8h1v1h-1zM415.3 90.7h1v1h-1zM358.4 104.3h1v1h-1zM320.4 150.4h1v1h-1zM340.5 142.0h1.5v1.5h-1.5zM344.3 138.7h1v1h-1zM373.6 46.9h1v1h-1zM383.7 52.0h1.5v1h-1.5zM405.7 167.8h1v1.5h-1zM405.0 128.4h1v1h-1zM346.7 69.5h1.5v1.5h-1.5zM362.8 83.7h1v1h-1zM342.5 170.9h1v1h-1zM372.2 156.9h1v1.5h-1zM330.4 122.0h1v1h-1zM411.0 92.2h1v1.5h-1zM418.6 86.7h1.5v1.5h-1.5zM413.5 55.4h1v1h-1zM370.4 67.5h1.5v1h-1.5zM383.1 69.7h1v1.5h-1zM331.7 158.0h1v1h-1zM341.2 60.5h1v1h-1zM382.5 115.6h1v1h-1zM368.6 79.0h1.5v1h-1.5zM357.2 134.3h1.5v1.5h-1.5zM421.9 117.0h1v1h-1zM399.8 95.8h1v1.5h-1zM404.5 75.6h1v1h-1zM355.2 147.5h1v1.5h-1zM413.3 84.1h1v1h-1zM386.9 59.1h1.5v1h-1.5zM385.0 64.2h1v1.5h-1zM324.0 153.5h1v1h-1zM337.2 168.1h1v1h-1zM424.4 45.2h1v1h-1zM420.9 53.5h1v1h-1zM378.5 156.0h1.5v1h-1.5zM327.3 65.3h1.5v1h-1.5zM326.0 135.6h1v1.5h-1zM375.2 164.5h1v1h-1zM335.4 166.5h1v1h-1zM354.9 133.8h1v1h-1zM327.3 41.0h1v1h-1zM387.8 44.3h1v1h-1zM387.8 130.7h1v1h-1zM371.4 85.5h1v1h-1zM334.9 127.1h1v1h-1zM383.9 86.1h1v1h-1zM387.4 163.3h1v1h-1zM371.8 92.5h1v1h-1zM418.3 44.4h1.5v1.5h-1.5zM415.5 43.9h1.5v1h-1.5zM349.3 86.1h1v1h-1zM324.2 51.3h1.5v1.5h-1.5zM419.8 93.9h1v1h-1zM408.0 73.7h1v1.5h-1zM335.2 102.8h1v1h-1zM356.7 116.7h1.5v1.5h-1.5zM322.2 90.1h1v1.5h-1zM326.0 80.6h1v1.5h-1zM400.1 86.2h1.5v1h-1.5zM328.0 150.3h1v1h-1zM370.2 134.2h1v1h-1zM363.2 110.2h1v1.5h-1zM366.4 44.3h1.5v1h-1.5zM410.0 139.9h1v1.5h-1zM417.8 166.5h1v1.5h-1zM417.3 89.4h1.5v1h-1.5zM351.3 108.5h1v1h-1zM366.4 55.5h1v1h-1zM382.7 100.2h1v1h-1zM397.7 35.2h1.5v1h-1.5zM348.6 47.5h1.5v1h-1.5zM414.6 62.9h1v1h-1zM354.0 56.3h1v1h-1zM394.5 137.6h1v1h-1zM338.4 58.4h1v1h-1zM335.4 153.6h1v1.5h-1zM357.0 117.7h1v1h-1zM344.2 37.5h1v1h-1zM429.9 50.1h1v1h-1zM326.5 154.7h1.5v1h-1.5zM386.3 133.0h1v1h-1zM392.1 166.1h1.5v1h-1.5zM361.7 39.4h1v1.5h-1zM355.8 124.3h1.5v1h-1.5zM348.8 126.1h1v1.5h-1zM334.7 89.6h1v1.5h-1zM407.1 100.4h1v1h-1zM354.0 147.8h1v1h-1zM410.8 132.4h1v1h-1zM370.1 50.7h1v1h-1zM357.6 131.9h1.5v1.5h-1.5zM351.0 102.4h1.5v1h-1.5zM364.9 102.8h1.5v1h-1.5zM331.9 66.1h1.5v1.5h-1.5zM337.3 93.5h1v1h-1zM406.2 88.6h1v1h-1zM342.3 71.3h1v1h-1zM424.6 92.5h1v1h-1zM408.1 74.9h1v1h-1zM342.6 126.6h1v1h-1zM340.8 153.4h1v1.5h-1zM382.6 87.6h1v1.5h-1zM340.7 86.1h1v1h-1zM429.9 148.1h1v1h-1zM339.3 67.1h1v1.5h-1zM327.3 156.2h1v1h-1zM416.4 121.0h1v1.5h-1zM401.3 73.7h1v1h-1zM339.2 148.2h1v1h-1zM348.4 45.1h1v1h-1zM342.4 73.9h1v1.5h-1zM359.1 55.2h1v1h-1zM404.4 113.8h1v1h-1zM326.2 104.7h1v1h-1zM345.2 155.5h1v1.5h-1zM408.6 104.5h1v1h-1zM363.5 89.1h1v1.5h-1zM322.4 49.6h1.5v1h-1.5zM333.1 65.1h1v1h-1zM375.1 139.9h1v1h-1zM421.8 139.2h1v1h-1zM365.5 111.2h1v1h-1zM374.4 43.5h1v1.5h-1zM343.3 90.9h1.5v1.5h-1.5zM391.6 142.9h1v1.5h-1zM329.7 83.0h1v1h-1zM362.1 92.1h1.5v1h-1.5zM395.6 161.0h1.5v1h-1.5zM366.8 82.1h1.5v1.5h-1.5zM354.8 35.4h1.5v1h-1.5zM395.3 105.0h1.5v1h-1.5zM341.6 104.4h1.5v1h-1.5zM325.2 166.3h1v1h-1zM400.0 110.8h1v1h-1zM412.4 115.6h1v1h-1zM396.4 132.5h1v1h-1zM421.5 94.6h1.5v1h-1.5zM359.5 48.3h1v1h-1zM372.5 110.1h1v1.5h-1zM331.3 85.7h1v1h-1zM356.5 151.0h1v1.5h-1zM388.2 33.3h1v1.5h-1zM390.3 128.8h1v1.5h-1zM400.1 52.4h1v1.5h-1zM335.5 124.5h1.5v1h-1.5zM423.4 94.6h1.5v1h-1.5zM326.6 105.8h1v1h-1z"/>
<rect x="330.3" y="39.4" width="5" height="7" fill="#1a221c"/>
<rect x="330.5" y="54.1" width="5" height="7" fill="#1a221c"/>
<rect x="329.7" y="66.9" width="4" height="6" fill="#1a221c"/>
<rect x="329.4" y="76.8" width="4" height="6" fill="#1a221c"/>
<rect x="329.1" y="91.4" width="4" height="6" fill="#1a221c"/>
<rect x="329.5" y="103.9" width="5" height="7" fill="#1a221c"/>
<rect x="330.0" y="115.7" width="5" height="6" fill="#1a221c"/>
<rect x="347.8" y="39.9" width="4" height="6" fill="#1a221c"/>
<rect x="347.4" y="52.9" width="4" height="7" fill="#1a221c"/>
<rect x="347.2" y="65.8" width="4" height="5" fill="#1a221c"/>
<rect x="347.5" y="79.0" width="4" height="6" fill="#1a221c"/>
<rect x="349.0" y="90.0" width="5" height="7" fill="#1a221c"/>
<rect x="348.8" y="104.1" width="4" height="6" fill="#1a221c"/>
<rect x="347.9" y="113.8" width="5" height="5" fill="#1a221c"/>
<rect x="361.2" y="40.4" width="5" height="5" fill="#1a221c"/>
<rect x="362.1" y="54.2" width="3" height="5" fill="#1a221c"/>
<rect x="362.8" y="64.2" width="4" height="6" fill="#1a221c"/>
<rect x="361.6" y="75.8" width="5" height="5" fill="#1a221c"/>
<rect x="362.0" y="88.7" width="4" height="7" fill="#1a221c"/>
<rect x="375.9" y="38.8" width="3" height="7" fill="#1a221c"/>
<rect x="376.6" y="52.4" width="3" height="5" fill="#1a221c"/>
<rect x="375.8" y="66.0" width="3" height="5" fill="#1a221c"/>
<rect x="376.5" y="79.2" width="3" height="7" fill="#1a221c"/>
<rect x="376.9" y="91.0" width="3" height="7" fill="#1a221c"/>
<rect x="399" y="73" width="26" height="36" fill="#4a7050"/>
<rect x="401.5" y="76" width="21" height="30" fill="#26302a"/>
<rect x="414" y="128" width="10" height="18" fill="#1a201c"/>
<rect x="340" y="128.6" width="7" height="25" fill="#1a201c"/>
<rect x="358.3" y="128" width="7" height="23" fill="#1a201c"/>
<rect x="368" y="38" width="6" height="9" fill="#1a201c"/>
<rect x="384" y="36" width="8" height="10" fill="#1a201c"/>
<rect x="396" y="36" width="5" height="10" fill="#1a201c"/>
<rect x="405" y="44" width="6" height="12" fill="#1a201c"/>
<rect x="392" y="120" width="6" height="8" fill="#1a201c"/>
<rect x="420" y="148" width="8" height="10" fill="#1a201c"/>
<rect x="337" y="157" width="5" height="11" fill="#1c1c1e"/>
<rect x="343" y="158" width="4" height="10" fill="#1c1c1e"/>
<rect x="349" y="157" width="6" height="11" fill="#1c1c1e"/>
<rect x="356" y="158" width="4" height="9" fill="#1c1c1e"/>
<rect x="361" y="157" width="5" height="10" fill="#1c1c1e"/>
<rect x="340" y="158" width="2" height="8" fill="#cccccc"/><rect x="354" y="159" width="2" height="7" fill="#cccccc"/>
<rect x="318.5" y="108" width="6.5" height="51" fill="#2a2a2c"/>
<rect x="318.5" y="110.0" width="6" height="1.2" fill="#9a9a9c"/>
<rect x="318.5" y="114.2" width="6" height="1.2" fill="#9a9a9c"/>
<rect x="318.5" y="118.4" width="6" height="1.2" fill="#9a9a9c"/>
<rect x="318.5" y="122.6" width="6" height="1.2" fill="#9a9a9c"/>
<rect x="318.5" y="126.8" width="6" height="1.2" fill="#9a9a9c"/>
<rect x="318.5" y="131.0" width="6" height="1.2" fill="#9a9a9c"/>
<rect x="318.5" y="135.2" width="6" height="1.2" fill="#9a9a9c"/>
<rect x="318.5" y="139.4" width="6" height="1.2" fill="#9a9a9c"/>
<rect x="318.5" y="143.6" width="6" height="1.2" fill="#9a9a9c"/>
<rect x="318.5" y="147.8" width="6" height="1.2" fill="#9a9a9c"/>
<rect x="318.5" y="152.0" width="6" height="1.2" fill="#9a9a9c"/>
<rect x="318.5" y="156.2" width="6" height="1.2" fill="#9a9a9c"/>
<rect x="414" y="49" width="5.5" height="6.5" rx="1" fill="#c89e70"/>
<rect x="415" y="50" width="2" height="4.5" fill="#e0c090"/>
<rect x="390" y="65" width="5.5" height="6.5" rx="1" fill="#c89e70"/>
<rect x="391" y="66" width="2" height="4.5" fill="#e0c090"/>
<rect x="397" y="65" width="5.5" height="6.5" rx="1" fill="#c89e70"/>
<rect x="398" y="66" width="2" height="4.5" fill="#e0c090"/>
<rect x="425" y="57" width="5.5" height="6.5" rx="1" fill="#c89e70"/>
<rect x="426" y="58" width="2" height="4.5" fill="#e0c090"/>
<rect x="424" y="69" width="5.5" height="6.5" rx="1" fill="#c89e70"/>
<rect x="425" y="70" width="2" height="4.5" fill="#e0c090"/>
<rect x="387" y="96" width="5.5" height="6.5" rx="1" fill="#c89e70"/>
<rect x="388" y="97" width="2" height="4.5" fill="#e0c090"/>
<rect x="424" y="102" width="5.5" height="6.5" rx="1" fill="#c89e70"/>
<rect x="425" y="103" width="2" height="4.5" fill="#e0c090"/>
<rect x="389" y="100" width="5.5" height="6.5" rx="1" fill="#c89e70"/>
<rect x="390" y="101" width="2" height="4.5" fill="#e0c090"/>
<rect x="396" y="107" width="5.5" height="6.5" rx="1" fill="#c89e70"/>
<rect x="397" y="108" width="2" height="4.5" fill="#e0c090"/>
<rect x="406" y="115" width="5.5" height="6.5" rx="1" fill="#c89e70"/>
<rect x="407" y="116" width="2" height="4.5" fill="#e0c090"/>
<rect x="420" y="114" width="5.5" height="6.5" rx="1" fill="#c89e70"/>
<rect x="421" y="115" width="2" height="4.5" fill="#e0c090"/>
<rect x="391" y="136" width="5.5" height="6.5" rx="1" fill="#c89e70"/>
<rect x="392" y="137" width="2" height="4.5" fill="#e0c090"/>
<rect x="405" y="137" width="5.5" height="6.5" rx="1" fill="#c89e70"/>
<rect x="406" y="138" width="2" height="4.5" fill="#e0c090"/>
<rect x="331" y="160" width="5.5" height="6.5" rx="1" fill="#c89e70"/>
<rect x="332" y="161" width="2" height="4.5" fill="#e0c090"/>
<rect x="377" y="160" width="5.5" height="6.5" rx="1" fill="#c89e70"/>
<rect x="378" y="161" width="2" height="4.5" fill="#e0c090"/>
<polygon points="325,115 332,114 332,171 325,172" fill="#d2c2a2"/><rect x="327" y="117" width="3" height="53" fill="#8a7a60"/>
<polygon points="370,112 378,111 378,166 370,167" fill="#d2c2a2"/><rect x="372.5" y="114" width="3" height="51" fill="#8a7a60"/>
<polygon points="381.5,85 388,84 388,158 381.5,159" fill="#d2c2a2"/><rect x="383.5" y="87" width="2.5" height="69" fill="#8a7a60"/>
<polygon points="294,7 317,6 317,182 294,185" fill="#dad6d2"/>
<rect x="313" y="6" width="4" height="176" fill="#e6e2de"/>
<rect x="317" y="6" width="1" height="176" fill="#a8a4a0"/>
<rect x="295" y="8" width="10" height="8" rx="2" fill="#4a4050"/>
<ellipse cx="310" cy="12" rx="2.5" ry="4" fill="none" stroke="#777" stroke-width="1"/>
<polygon points="296,18 300,19 299,24 296,23" fill="#2a9a8a"/>
<rect x="300" y="19" width="12" height="1.5" fill="#555"/><rect x="300" y="22" width="12" height="1.5" fill="#666"/>
<rect x="298" y="26" width="14" height="2" fill="#3a9a5a"/><rect x="298" y="29" width="14" height="1" fill="#999"/>
<rect x="296" y="36" width="8" height="64" rx="3" fill="#9a948e"/>
<rect x="298" y="42" width="4" height="52" fill="#3a3432"/>
<rect x="296" y="103" width="12" height="64" rx="3" fill="#9a948e"/>
<rect x="298" y="109" width="8" height="52" fill="#3a3432"/>
<rect x="299" y="111.0" width="1.5" height="2" fill="#8a8480"/><rect x="302.5" y="112.0" width="1.5" height="2" fill="#8a8480"/>
<rect x="299" y="115.2" width="1.5" height="2" fill="#8a8480"/><rect x="302.5" y="116.2" width="1.5" height="2" fill="#8a8480"/>
<rect x="299" y="119.4" width="1.5" height="2" fill="#8a8480"/><rect x="302.5" y="120.4" width="1.5" height="2" fill="#8a8480"/>
<rect x="299" y="123.6" width="1.5" height="2" fill="#8a8480"/><rect x="302.5" y="124.6" width="1.5" height="2" fill="#8a8480"/>
<rect x="299" y="127.8" width="1.5" height="2" fill="#8a8480"/><rect x="302.5" y="128.8" width="1.5" height="2" fill="#8a8480"/>
<rect x="299" y="132.0" width="1.5" height="2" fill="#8a8480"/><rect x="302.5" y="133.0" width="1.5" height="2" fill="#8a8480"/>
<rect x="299" y="136.2" width="1.5" height="2" fill="#8a8480"/><rect x="302.5" y="137.2" width="1.5" height="2" fill="#8a8480"/>
<rect x="299" y="140.4" width="1.5" height="2" fill="#8a8480"/><rect x="302.5" y="141.4" width="1.5" height="2" fill="#8a8480"/>
<rect x="299" y="144.6" width="1.5" height="2" fill="#8a8480"/><rect x="302.5" y="145.6" width="1.5" height="2" fill="#8a8480"/>
<rect x="299" y="148.8" width="1.5" height="2" fill="#8a8480"/><rect x="302.5" y="149.8" width="1.5" height="2" fill="#8a8480"/>
<rect x="299" y="153.0" width="1.5" height="2" fill="#8a8480"/><rect x="302.5" y="154.0" width="1.5" height="2" fill="#8a8480"/>
<rect x="299" y="157.2" width="1.5" height="2" fill="#8a8480"/><rect x="302.5" y="158.2" width="1.5" height="2" fill="#8a8480"/>
<circle cx="300" cy="38" r="2.5" fill="#7a7470"/><circle cx="300" cy="100" r="2.5" fill="#7a7470"/>
<circle cx="301" cy="168" r="3" fill="#7a7470"/>
<polygon points="286,172 315,171 316,177 287,178" fill="#8a8684"/>
<polygon points="318,185 336,184 337,188 318,190" fill="#b8b8b8"/><rect x="318" y="186" width="18" height="1" fill="#e8e8e8"/>
<polygon points="283,177 312,176 318,182 321,193 316,205 307,212 306,221 270,222 260,215 262,207 276,199 277,183" fill="#131316"/>
<polygon points="262,207 276,199 300,196 306,205 306,221 270,222 260,215" fill="#1c1c20"/>
<polygon points="263,208 277,200 300,197 301,199 278,202 264,210" fill="#3a3a40"/>
<polygon points="308,186 314,184 318,196 312,204 309,199" fill="#2a2a2e"/>
<polygon points="277,182 302,180.5 302.5,193.5 278,195" fill="#e0e0e4"/>
<text x="281.5" y="192" font-size="9" font-weight="bold" fill="#111" textLength="16" lengthAdjust="spacingAndGlyphs">PXI</text>
</g>
<g id="crio">
<polygon points="542,63 560,57 700,45 790,38 806,47 806,52 644,67 596,72 575,75 555,68" fill="#b8b8ba"/>
<polygon points="571,58 642,52 644,67 596,72 575,75" fill="#a6a6a8"/>
<polygon points="700,45 790,38 806,47 806,50 700,58" fill="#d2d2d4"/>
<polygon points="542,64 566,57 596,70 596,221 575,221 542,200" fill="#808082"/>
<polygon points="542,66 554,61 561,63 549,68" fill="#b4b4b6"/>
<polygon points="549,64 561,59 568,61 556,66" fill="#b4b4b6"/>
<polygon points="556,65 568,60 575,62 563,67" fill="#b4b4b6"/>
<polygon points="563,67 575,62 582,64 570,69" fill="#b4b4b6"/>
<polygon points="569,69 581,64 588,66 576,71" fill="#b4b4b6"/>
<rect x="549.0" y="68" width="2.2" height="135" fill="#3e3e40"/>
<rect x="551.1" y="68" width="1.2" height="135" fill="#a4a4a6"/>
<rect x="556.0" y="68" width="2.2" height="139" fill="#3e3e40"/>
<rect x="558.1" y="68" width="1.2" height="139" fill="#a4a4a6"/>
<rect x="563.0" y="70" width="2.2" height="141" fill="#3e3e40"/>
<rect x="565.1" y="70" width="1.2" height="141" fill="#a4a4a6"/>
<rect x="569.5" y="72" width="2.2" height="143" fill="#3e3e40"/>
<rect x="571.6" y="72" width="1.2" height="143" fill="#a4a4a6"/>
<rect x="545" y="95" width="1.2" height="100" fill="#6e6e70"/>
<rect x="552" y="95" width="1.2" height="104" fill="#6e6e70"/>
<rect x="559" y="98" width="1.2" height="105" fill="#6e6e70"/>
<rect x="566" y="100" width="1.2" height="107" fill="#6e6e70"/>
<polygon points="542,200 550,203 557,207 564,211 571,215 575,221 575,223 542,202" fill="#6a6a6c"/>
<polygon points="575,75 596,72 596,221 575,221" fill="#828284"/>
<polygon points="575,75 596,72 597,74 577,77" fill="#b0b0b2"/>
<rect x="575" y="76" width="1.5" height="145" fill="#5a5a5c"/>
<rect x="593" y="74" width="3" height="147" fill="#6e6e70"/>
<polygon points="596,72 644,67 644,212 596,218" fill="#eeeef0"/>
<polygon points="596,72 644,67 644,70 596,75" fill="#cfcfd2"/>
<rect x="596" y="214" width="48" height="4" fill="#b8b8bc"/>
<polygon points="607,81 612,80 613,88 608,89" fill="#1a4f9a"/>
<rect x="614" y="81" width="16" height="2" fill="#666"/><rect x="614" y="85" width="16" height="2" fill="#777"/>
<rect x="610" y="95" width="9" height="6" fill="#3aa03a"/><rect x="611" y="96.5" width="7" height="3" fill="#9ee09e"/>
<rect x="600" y="96" width="8" height="1.5" fill="#999"/><rect x="600" y="100" width="8" height="1.5" fill="#999"/><rect x="600" y="104" width="10" height="1.5" fill="#aaa"/><rect x="600" y="108" width="10" height="1.5" fill="#aaa"/>
<rect x="607" y="110" width="14" height="48" rx="3" fill="#a8a8a8"/>
<rect x="610" y="117" width="8" height="34" rx="2" fill="#3a3a3a"/>
<circle cx="614" cy="121.0" r="1.2" fill="#999"/>
<circle cx="614" cy="127.5" r="1.2" fill="#999"/>
<circle cx="614" cy="134.0" r="1.2" fill="#999"/>
<circle cx="614" cy="140.5" r="1.2" fill="#999"/>
<circle cx="614" cy="147.0" r="1.2" fill="#999"/>
<rect x="601" y="135" width="4" height="4" fill="#bbb"/>
<polygon points="622,93 638,90 642,92 642,145 624,146 622,140" fill="#1e1e20"/>
<rect x="629" y="100" width="6" height="5" fill="#4a4a4c"/>
<rect x="629" y="111" width="6" height="5" fill="#4a4a4c"/>
<rect x="629" y="122" width="6" height="5" fill="#4a4a4c"/>
<rect x="629" y="133" width="6" height="5" fill="#4a4a4c"/>
<rect x="636" y="86" width="6" height="10" rx="2" fill="#333"/>
<rect x="630" y="160.0" width="4" height="3" fill="#555"/>
<rect x="635" y="160.5" width="7" height="1.5" fill="#aaa"/>
<rect x="630" y="164.5" width="4" height="3" fill="#555"/>
<rect x="635" y="165.0" width="7" height="1.5" fill="#aaa"/>
<rect x="630" y="169.0" width="4" height="3" fill="#555"/>
<rect x="635" y="169.5" width="7" height="1.5" fill="#aaa"/>
<rect x="630" y="173.5" width="4" height="3" fill="#555"/>
<rect x="635" y="174.0" width="7" height="1.5" fill="#aaa"/>
<rect x="630" y="178.0" width="4" height="3" fill="#555"/>
<rect x="635" y="178.5" width="7" height="1.5" fill="#aaa"/>
<rect x="609" y="169" width="14" height="28" fill="#b8b8b8"/>
<rect x="611" y="172" width="10" height="22" fill="#151515"/>
<rect x="603" y="181" width="3" height="5" fill="#999"/>
<circle cx="628" cy="188" r="2.2" fill="#f08a30"/>
<rect x="632" y="187" width="5" height="1.5" fill="#bbb"/>
<rect x="612" y="203" width="14" height="2" fill="#4a7ac0"/><rect x="605" y="208" width="30" height="1.5" fill="#aaa"/>
<ellipse cx="641" cy="183" rx="4" ry="8" fill="#444"/>
<polygon points="596,217 645,214 805,190 812,196 700,222 600,226" fill="#ececee"/>
<polygon points="644.0,67.0 648.0,53.0 668.1,51.0 664.1,65.0" fill="#e8e8ea"/>
<polygon points="648.0,58.0 658.0,56.0 659.0,59.0 649.0,61.0" fill="#8a8a8e"/>
<rect x="644.0" y="66.0" width="20.1" height="146.0" fill="#f0f0f2"/>
<rect x="661.1" y="66.0" width="3" height="146.0" fill="#b8b8bc"/>
<rect x="663.4" y="65.0" width="1.4" height="147.0" fill="#3a3a3c"/>
<rect x="644.0" y="66.0" width="20.1" height="6.5" fill="#1c5a9e"/>
<rect x="647.0" y="75.0" width="13" height="2" fill="#7a9ac8"/>
<rect x="644.0" y="206.5" width="20.1" height="5.5" fill="#1c5088"/>
<rect x="644.0" y="198.0" width="20.1" height="8.5" fill="#d8d8dc"/>
<rect x="648.0" y="202.0" width="10" height="1.2" fill="#a0a0a6"/>
<polygon points="664.1,64.8 668.1,50.8 688.3,48.8 684.3,62.8" fill="#e8e8ea"/>
<polygon points="668.1,55.8 678.1,53.8 679.1,56.8 669.1,58.8" fill="#8a8a8e"/>
<rect x="664.1" y="63.8" width="20.1" height="145.0" fill="#f0f0f2"/>
<rect x="681.3" y="63.8" width="3" height="145.0" fill="#b8b8bc"/>
<rect x="683.6" y="62.8" width="1.4" height="146.0" fill="#3a3a3c"/>
<rect x="664.1" y="63.8" width="20.1" height="6.5" fill="#1c5a9e"/>
<rect x="667.1" y="72.8" width="13" height="2" fill="#7a9ac8"/>
<rect x="664.1" y="203.3" width="20.1" height="5.5" fill="#1c5088"/>
<rect x="664.1" y="194.8" width="20.1" height="8.5" fill="#d8d8dc"/>
<rect x="668.1" y="198.8" width="10" height="1.2" fill="#a0a0a6"/>
<polygon points="684.3,62.6 688.3,48.6 708.4,46.6 704.4,60.6" fill="#e8e8ea"/>
<polygon points="688.3,53.6 698.3,51.6 699.3,54.6 689.3,56.6" fill="#8a8a8e"/>
<rect x="684.3" y="61.6" width="20.1" height="143.9" fill="#f0f0f2"/>
<rect x="701.4" y="61.6" width="3" height="143.9" fill="#b8b8bc"/>
<rect x="703.7" y="60.6" width="1.4" height="144.9" fill="#3a3a3c"/>
<rect x="684.3" y="61.6" width="20.1" height="6.5" fill="#1c5a9e"/>
<rect x="687.3" y="70.6" width="13" height="2" fill="#7a9ac8"/>
<rect x="684.3" y="200.0" width="20.1" height="5.5" fill="#1c5088"/>
<rect x="684.3" y="191.5" width="20.1" height="8.5" fill="#d8d8dc"/>
<rect x="688.3" y="195.5" width="10" height="1.2" fill="#a0a0a6"/>
<polygon points="704.5,60.4 708.5,46.4 728.6,44.4 724.6,58.4" fill="#e8e8ea"/>
<polygon points="708.5,51.4 718.5,49.4 719.5,52.4 709.5,54.4" fill="#8a8a8e"/>
<rect x="704.5" y="59.4" width="20.1" height="142.9" fill="#f0f0f2"/>
<rect x="721.6" y="59.4" width="3" height="142.9" fill="#b8b8bc"/>
<rect x="723.9" y="58.4" width="1.4" height="143.9" fill="#3a3a3c"/>
<rect x="704.5" y="59.4" width="20.1" height="6.5" fill="#1c5a9e"/>
<rect x="707.5" y="68.4" width="13" height="2" fill="#7a9ac8"/>
<rect x="704.5" y="196.8" width="20.1" height="5.5" fill="#1c5088"/>
<rect x="704.5" y="188.3" width="20.1" height="8.5" fill="#d8d8dc"/>
<rect x="708.5" y="192.3" width="10" height="1.2" fill="#a0a0a6"/>
<polygon points="724.6,58.2 728.6,44.2 748.8,42.2 744.8,56.2" fill="#e8e8ea"/>
<polygon points="728.6,49.2 738.6,47.2 739.6,50.2 729.6,52.2" fill="#8a8a8e"/>
<rect x="724.6" y="57.2" width="20.1" height="141.8" fill="#f0f0f2"/>
<rect x="741.8" y="57.2" width="3" height="141.8" fill="#b8b8bc"/>
<rect x="744.0" y="56.2" width="1.4" height="142.8" fill="#3a3a3c"/>
<rect x="724.6" y="57.2" width="20.1" height="6.5" fill="#1c5a9e"/>
<rect x="727.6" y="66.2" width="13" height="2" fill="#7a9ac8"/>
<rect x="724.6" y="193.6" width="20.1" height="5.5" fill="#1c5088"/>
<rect x="724.6" y="185.1" width="20.1" height="8.5" fill="#d8d8dc"/>
<rect x="728.6" y="189.1" width="10" height="1.2" fill="#a0a0a6"/>
<polygon points="744.8,56.0 748.8,42.0 768.9,40.0 764.9,54.0" fill="#e8e8ea"/>
<polygon points="748.8,47.0 758.8,45.0 759.8,48.0 749.8,50.0" fill="#8a8a8e"/>
<rect x="744.8" y="55.0" width="20.1" height="140.8" fill="#f0f0f2"/>
<rect x="761.9" y="55.0" width="3" height="140.8" fill="#b8b8bc"/>
<rect x="764.2" y="54.0" width="1.4" height="141.8" fill="#3a3a3c"/>
<rect x="744.8" y="55.0" width="20.1" height="6.5" fill="#1c5a9e"/>
<rect x="747.8" y="64.0" width="13" height="2" fill="#7a9ac8"/>
<rect x="744.8" y="190.3" width="20.1" height="5.5" fill="#1c5088"/>
<rect x="744.8" y="181.8" width="20.1" height="8.5" fill="#d8d8dc"/>
<rect x="748.8" y="185.8" width="10" height="1.2" fill="#a0a0a6"/>
<rect x="749.8" y="69.0" width="9" height="5" fill="#3aa050"/>
<rect x="749.8" y="77.0" width="9" height="5" fill="#3aa050"/>
<rect x="750.8" y="70.5" width="7" height="1.5" fill="#a0e0a8"/>
<rect x="750.8" y="78.5" width="7" height="1.5" fill="#a0e0a8"/>
<polygon points="764.9,53.9 768.9,39.9 789.0,37.9 785.0,51.9" fill="#e8e8ea"/>
<polygon points="768.9,44.9 778.9,42.9 779.9,45.9 769.9,47.9" fill="#8a8a8e"/>
<rect x="764.9" y="52.9" width="20.1" height="139.8" fill="#f0f0f2"/>
<rect x="782.0" y="52.9" width="3" height="139.8" fill="#b8b8bc"/>
<rect x="784.3" y="51.9" width="1.4" height="140.8" fill="#3a3a3c"/>
<rect x="764.9" y="52.9" width="20.1" height="6.5" fill="#1c5a9e"/>
<rect x="767.9" y="61.9" width="13" height="2" fill="#7a9ac8"/>
<rect x="764.9" y="187.1" width="20.1" height="5.5" fill="#1c5088"/>
<rect x="764.9" y="178.6" width="20.1" height="8.5" fill="#d8d8dc"/>
<rect x="768.9" y="182.6" width="10" height="1.2" fill="#a0a0a6"/>
<rect x="769.9" y="66.9" width="9" height="5" fill="#3aa050"/>
<rect x="769.9" y="74.9" width="9" height="5" fill="#3aa050"/>
<rect x="770.9" y="68.4" width="7" height="1.5" fill="#a0e0a8"/>
<rect x="770.9" y="76.4" width="7" height="1.5" fill="#a0e0a8"/>
<polygon points="785.0,51.7 789.0,37.7 805.2,35.7 805.2,49.7" fill="#e8e8ea"/>
<polygon points="789.0,42.7 799.0,40.7 800.0,43.7 790.0,45.7" fill="#8a8a8e"/>
<rect x="785.0" y="50.7" width="20.1" height="138.7" fill="#f0f0f2"/>
<rect x="802.2" y="50.7" width="3" height="138.7" fill="#b8b8bc"/>
<rect x="804.5" y="49.7" width="1.4" height="139.7" fill="#3a3a3c"/>
<rect x="785.0" y="50.7" width="20.1" height="6.5" fill="#1c5a9e"/>
<rect x="788.0" y="59.7" width="13" height="2" fill="#7a9ac8"/>
<rect x="785.0" y="183.9" width="20.1" height="5.5" fill="#1c5088"/>
<rect x="785.0" y="175.4" width="20.1" height="8.5" fill="#d8d8dc"/>
<rect x="789.0" y="179.4" width="10" height="1.2" fill="#a0a0a6"/>
<rect x="790.0" y="64.7" width="9" height="5" fill="#3aa050"/>
<rect x="791.0" y="66.2" width="7" height="1.5" fill="#a0e0a8"/>
<polygon points="797.0,92.6 813.5,91.6 813.5,170.4 797.0,171.4" fill="#1e1e20"/>
<polygon points="791.5,83.6 793.5,82.6 800.0,81.6 802.0,82.6 802.0,174.4 791.5,175.4" fill="#161618"/>
<rect x="801.5" y="88.6" width="1" height="83.8" fill="#3a3a3e"/>
<rect x="808.5" y="95.6" width="2.2" height="3" fill="#c8c8cc"/>
<rect x="803.5" y="95.6" width="3" height="2" fill="#38383c"/>
<rect x="794.5" y="94.6" width="4" height="1.5" fill="#3a3a3e"/>
<rect x="808.5" y="103.6" width="2.2" height="3" fill="#c8c8cc"/>
<rect x="803.5" y="103.6" width="3" height="2" fill="#38383c"/>
<rect x="794.5" y="102.6" width="4" height="1.5" fill="#3a3a3e"/>
<rect x="808.5" y="111.6" width="2.2" height="3" fill="#c8c8cc"/>
<rect x="803.5" y="111.6" width="3" height="2" fill="#38383c"/>
<rect x="794.5" y="110.6" width="4" height="1.5" fill="#3a3a3e"/>
<rect x="808.5" y="119.5" width="2.2" height="3" fill="#c8c8cc"/>
<rect x="803.5" y="119.5" width="3" height="2" fill="#38383c"/>
<rect x="794.5" y="118.5" width="4" height="1.5" fill="#3a3a3e"/>
<rect x="808.5" y="127.5" width="2.2" height="3" fill="#c8c8cc"/>
<rect x="803.5" y="127.5" width="3" height="2" fill="#38383c"/>
<rect x="794.5" y="126.5" width="4" height="1.5" fill="#3a3a3e"/>
<rect x="808.5" y="135.5" width="2.2" height="3" fill="#c8c8cc"/>
<rect x="803.5" y="135.5" width="3" height="2" fill="#38383c"/>
<rect x="794.5" y="134.5" width="4" height="1.5" fill="#3a3a3e"/>
<rect x="808.5" y="143.5" width="2.2" height="3" fill="#c8c8cc"/>
<rect x="803.5" y="143.5" width="3" height="2" fill="#38383c"/>
<rect x="794.5" y="142.5" width="4" height="1.5" fill="#3a3a3e"/>
<rect x="808.5" y="151.4" width="2.2" height="3" fill="#c8c8cc"/>
<rect x="803.5" y="151.4" width="3" height="2" fill="#38383c"/>
<rect x="794.5" y="150.4" width="4" height="1.5" fill="#3a3a3e"/>
<rect x="808.5" y="159.4" width="2.2" height="3" fill="#c8c8cc"/>
<rect x="803.5" y="159.4" width="3" height="2" fill="#38383c"/>
<rect x="794.5" y="158.4" width="4" height="1.5" fill="#3a3a3e"/>
<rect x="808.5" y="167.4" width="2.2" height="3" fill="#c8c8cc"/>
<rect x="803.5" y="167.4" width="3" height="2" fill="#38383c"/>
<rect x="794.5" y="166.4" width="4" height="1.5" fill="#3a3a3e"/>
<polygon points="776.9,94.8 793.4,93.8 793.4,173.6 776.9,174.6" fill="#1e1e20"/>
<polygon points="771.4,85.8 773.4,84.8 779.9,83.8 781.9,84.8 781.9,177.6 771.4,178.6" fill="#161618"/>
<rect x="781.4" y="90.8" width="1" height="84.8" fill="#3a3a3e"/>
<rect x="788.4" y="97.8" width="2.2" height="3" fill="#c8c8cc"/>
<rect x="783.4" y="97.8" width="3" height="2" fill="#38383c"/>
<rect x="774.4" y="96.8" width="4" height="1.5" fill="#3a3a3e"/>
<rect x="788.4" y="105.9" width="2.2" height="3" fill="#c8c8cc"/>
<rect x="783.4" y="105.9" width="3" height="2" fill="#38383c"/>
<rect x="774.4" y="104.9" width="4" height="1.5" fill="#3a3a3e"/>
<rect x="788.4" y="114.0" width="2.2" height="3" fill="#c8c8cc"/>
<rect x="783.4" y="114.0" width="3" height="2" fill="#38383c"/>
<rect x="774.4" y="113.0" width="4" height="1.5" fill="#3a3a3e"/>
<rect x="788.4" y="122.1" width="2.2" height="3" fill="#c8c8cc"/>
<rect x="783.4" y="122.1" width="3" height="2" fill="#38383c"/>
<rect x="774.4" y="121.1" width="4" height="1.5" fill="#3a3a3e"/>
<rect x="788.4" y="130.2" width="2.2" height="3" fill="#c8c8cc"/>
<rect x="783.4" y="130.2" width="3" height="2" fill="#38383c"/>
<rect x="774.4" y="129.2" width="4" height="1.5" fill="#3a3a3e"/>
<rect x="788.4" y="138.3" width="2.2" height="3" fill="#c8c8cc"/>
<rect x="783.4" y="138.3" width="3" height="2" fill="#38383c"/>
<rect x="774.4" y="137.3" width="4" height="1.5" fill="#3a3a3e"/>
<rect x="788.4" y="146.3" width="2.2" height="3" fill="#c8c8cc"/>
<rect x="783.4" y="146.3" width="3" height="2" fill="#38383c"/>
<rect x="774.4" y="145.3" width="4" height="1.5" fill="#3a3a3e"/>
<rect x="788.4" y="154.4" width="2.2" height="3" fill="#c8c8cc"/>
<rect x="783.4" y="154.4" width="3" height="2" fill="#38383c"/>
<rect x="774.4" y="153.4" width="4" height="1.5" fill="#3a3a3e"/>
<rect x="788.4" y="162.5" width="2.2" height="3" fill="#c8c8cc"/>
<rect x="783.4" y="162.5" width="3" height="2" fill="#38383c"/>
<rect x="774.4" y="161.5" width="4" height="1.5" fill="#3a3a3e"/>
<rect x="788.4" y="170.6" width="2.2" height="3" fill="#c8c8cc"/>
<rect x="783.4" y="170.6" width="3" height="2" fill="#38383c"/>
<rect x="774.4" y="169.6" width="4" height="1.5" fill="#3a3a3e"/>
<polygon points="756.8,97.0 773.2,96.0 773.2,176.8 756.8,177.8" fill="#1e1e20"/>
<polygon points="751.2,88.0 753.2,87.0 759.8,86.0 761.8,87.0 761.8,180.8 751.2,181.8" fill="#161618"/>
<rect x="761.2" y="93.0" width="1" height="85.8" fill="#3a3a3e"/>
<rect x="768.2" y="100.0" width="2.2" height="3" fill="#c8c8cc"/>
<rect x="763.2" y="100.0" width="3" height="2" fill="#38383c"/>
<rect x="754.2" y="99.0" width="4" height="1.5" fill="#3a3a3e"/>
<rect x="768.2" y="108.2" width="2.2" height="3" fill="#c8c8cc"/>
<rect x="763.2" y="108.2" width="3" height="2" fill="#38383c"/>
<rect x="754.2" y="107.2" width="4" height="1.5" fill="#3a3a3e"/>
<rect x="768.2" y="116.4" width="2.2" height="3" fill="#c8c8cc"/>
<rect x="763.2" y="116.4" width="3" height="2" fill="#38383c"/>
<rect x="754.2" y="115.4" width="4" height="1.5" fill="#3a3a3e"/>
<rect x="768.2" y="124.6" width="2.2" height="3" fill="#c8c8cc"/>
<rect x="763.2" y="124.6" width="3" height="2" fill="#38383c"/>
<rect x="754.2" y="123.6" width="4" height="1.5" fill="#3a3a3e"/>
<rect x="768.2" y="132.8" width="2.2" height="3" fill="#c8c8cc"/>
<rect x="763.2" y="132.8" width="3" height="2" fill="#38383c"/>
<rect x="754.2" y="131.8" width="4" height="1.5" fill="#3a3a3e"/>
<rect x="768.2" y="141.0" width="2.2" height="3" fill="#c8c8cc"/>
<rect x="763.2" y="141.0" width="3" height="2" fill="#38383c"/>
<rect x="754.2" y="140.0" width="4" height="1.5" fill="#3a3a3e"/>
<rect x="768.2" y="149.2" width="2.2" height="3" fill="#c8c8cc"/>
<rect x="763.2" y="149.2" width="3" height="2" fill="#38383c"/>
<rect x="754.2" y="148.2" width="4" height="1.5" fill="#3a3a3e"/>
<rect x="768.2" y="157.4" width="2.2" height="3" fill="#c8c8cc"/>
<rect x="763.2" y="157.4" width="3" height="2" fill="#38383c"/>
<rect x="754.2" y="156.4" width="4" height="1.5" fill="#3a3a3e"/>
<rect x="768.2" y="165.6" width="2.2" height="3" fill="#c8c8cc"/>
<rect x="763.2" y="165.6" width="3" height="2" fill="#38383c"/>
<rect x="754.2" y="164.6" width="4" height="1.5" fill="#3a3a3e"/>
<rect x="768.2" y="173.8" width="2.2" height="3" fill="#c8c8cc"/>
<rect x="763.2" y="173.8" width="3" height="2" fill="#38383c"/>
<rect x="754.2" y="172.8" width="4" height="1.5" fill="#3a3a3e"/>
<polygon points="716.5,101.4 733.0,100.4 733.0,183.3 716.5,184.3" fill="#1e1e20"/>
<polygon points="711.0,92.4 713.0,91.4 719.5,90.4 721.5,91.4 721.5,187.3 711.0,188.3" fill="#161618"/>
<rect x="721.0" y="97.4" width="1" height="87.9" fill="#3a3a3e"/>
<rect x="728.0" y="104.4" width="2.2" height="3" fill="#c8c8cc"/>
<rect x="723.0" y="104.4" width="3" height="2" fill="#38383c"/>
<rect x="714.0" y="103.4" width="4" height="1.5" fill="#3a3a3e"/>
<rect x="728.0" y="112.8" width="2.2" height="3" fill="#c8c8cc"/>
<rect x="723.0" y="112.8" width="3" height="2" fill="#38383c"/>
<rect x="714.0" y="111.8" width="4" height="1.5" fill="#3a3a3e"/>
<rect x="728.0" y="121.3" width="2.2" height="3" fill="#c8c8cc"/>
<rect x="723.0" y="121.3" width="3" height="2" fill="#38383c"/>
<rect x="714.0" y="120.3" width="4" height="1.5" fill="#3a3a3e"/>
<rect x="728.0" y="129.7" width="2.2" height="3" fill="#c8c8cc"/>
<rect x="723.0" y="129.7" width="3" height="2" fill="#38383c"/>
<rect x="714.0" y="128.7" width="4" height="1.5" fill="#3a3a3e"/>
<rect x="728.0" y="138.1" width="2.2" height="3" fill="#c8c8cc"/>
<rect x="723.0" y="138.1" width="3" height="2" fill="#38383c"/>
<rect x="714.0" y="137.1" width="4" height="1.5" fill="#3a3a3e"/>
<rect x="728.0" y="146.6" width="2.2" height="3" fill="#c8c8cc"/>
<rect x="723.0" y="146.6" width="3" height="2" fill="#38383c"/>
<rect x="714.0" y="145.6" width="4" height="1.5" fill="#3a3a3e"/>
<rect x="728.0" y="155.0" width="2.2" height="3" fill="#c8c8cc"/>
<rect x="723.0" y="155.0" width="3" height="2" fill="#38383c"/>
<rect x="714.0" y="154.0" width="4" height="1.5" fill="#3a3a3e"/>
<rect x="728.0" y="163.4" width="2.2" height="3" fill="#c8c8cc"/>
<rect x="723.0" y="163.4" width="3" height="2" fill="#38383c"/>
<rect x="714.0" y="162.4" width="4" height="1.5" fill="#3a3a3e"/>
<rect x="728.0" y="171.9" width="2.2" height="3" fill="#c8c8cc"/>
<rect x="723.0" y="171.9" width="3" height="2" fill="#38383c"/>
<rect x="714.0" y="170.9" width="4" height="1.5" fill="#3a3a3e"/>
<rect x="728.0" y="180.3" width="2.2" height="3" fill="#c8c8cc"/>
<rect x="723.0" y="180.3" width="3" height="2" fill="#38383c"/>
<rect x="714.0" y="179.3" width="4" height="1.5" fill="#3a3a3e"/>
<polygon points="696.3,103.6 712.8,102.6 712.8,186.5 696.3,187.5" fill="#1e1e20"/>
<polygon points="690.8,94.6 692.8,93.6 699.3,92.6 701.3,93.6 701.3,190.5 690.8,191.5" fill="#161618"/>
<rect x="700.8" y="99.6" width="1" height="88.9" fill="#3a3a3e"/>
<rect x="707.8" y="106.6" width="2.2" height="3" fill="#c8c8cc"/>
<rect x="702.8" y="106.6" width="3" height="2" fill="#38383c"/>
<rect x="693.8" y="105.6" width="4" height="1.5" fill="#3a3a3e"/>
<rect x="707.8" y="115.1" width="2.2" height="3" fill="#c8c8cc"/>
<rect x="702.8" y="115.1" width="3" height="2" fill="#38383c"/>
<rect x="693.8" y="114.1" width="4" height="1.5" fill="#3a3a3e"/>
<rect x="707.8" y="123.7" width="2.2" height="3" fill="#c8c8cc"/>
<rect x="702.8" y="123.7" width="3" height="2" fill="#38383c"/>
<rect x="693.8" y="122.7" width="4" height="1.5" fill="#3a3a3e"/>
<rect x="707.8" y="132.2" width="2.2" height="3" fill="#c8c8cc"/>
<rect x="702.8" y="132.2" width="3" height="2" fill="#38383c"/>
<rect x="693.8" y="131.2" width="4" height="1.5" fill="#3a3a3e"/>
<rect x="707.8" y="140.8" width="2.2" height="3" fill="#c8c8cc"/>
<rect x="702.8" y="140.8" width="3" height="2" fill="#38383c"/>
<rect x="693.8" y="139.8" width="4" height="1.5" fill="#3a3a3e"/>
<rect x="707.8" y="149.3" width="2.2" height="3" fill="#c8c8cc"/>
<rect x="702.8" y="149.3" width="3" height="2" fill="#38383c"/>
<rect x="693.8" y="148.3" width="4" height="1.5" fill="#3a3a3e"/>
<rect x="707.8" y="157.9" width="2.2" height="3" fill="#c8c8cc"/>
<rect x="702.8" y="157.9" width="3" height="2" fill="#38383c"/>
<rect x="693.8" y="156.9" width="4" height="1.5" fill="#3a3a3e"/>
<rect x="707.8" y="166.4" width="2.2" height="3" fill="#c8c8cc"/>
<rect x="702.8" y="166.4" width="3" height="2" fill="#38383c"/>
<rect x="693.8" y="165.4" width="4" height="1.5" fill="#3a3a3e"/>
<rect x="707.8" y="175.0" width="2.2" height="3" fill="#c8c8cc"/>
<rect x="702.8" y="175.0" width="3" height="2" fill="#38383c"/>
<rect x="693.8" y="174.0" width="4" height="1.5" fill="#3a3a3e"/>
<rect x="707.8" y="183.5" width="2.2" height="3" fill="#c8c8cc"/>
<rect x="702.8" y="183.5" width="3" height="2" fill="#38383c"/>
<rect x="693.8" y="182.5" width="4" height="1.5" fill="#3a3a3e"/>
<polygon points="676.1,105.8 692.6,104.8 692.6,189.8 676.1,190.8" fill="#1e1e20"/>
<polygon points="670.6,96.8 672.6,95.8 679.1,94.8 681.1,95.8 681.1,193.8 670.6,194.8" fill="#161618"/>
<rect x="680.6" y="101.8" width="1" height="90.0" fill="#3a3a3e"/>
<rect x="687.6" y="108.8" width="2.2" height="3" fill="#c8c8cc"/>
<rect x="682.6" y="108.8" width="3" height="2" fill="#38383c"/>
<rect x="673.6" y="107.8" width="4" height="1.5" fill="#3a3a3e"/>
<rect x="687.6" y="117.5" width="2.2" height="3" fill="#c8c8cc"/>
<rect x="682.6" y="117.5" width="3" height="2" fill="#38383c"/>
<rect x="673.6" y="116.5" width="4" height="1.5" fill="#3a3a3e"/>
<rect x="687.6" y="126.1" width="2.2" height="3" fill="#c8c8cc"/>
<rect x="682.6" y="126.1" width="3" height="2" fill="#38383c"/>
<rect x="673.6" y="125.1" width="4" height="1.5" fill="#3a3a3e"/>
<rect x="687.6" y="134.8" width="2.2" height="3" fill="#c8c8cc"/>
<rect x="682.6" y="134.8" width="3" height="2" fill="#38383c"/>
<rect x="673.6" y="133.8" width="4" height="1.5" fill="#3a3a3e"/>
<rect x="687.6" y="143.5" width="2.2" height="3" fill="#c8c8cc"/>
<rect x="682.6" y="143.5" width="3" height="2" fill="#38383c"/>
<rect x="673.6" y="142.5" width="4" height="1.5" fill="#3a3a3e"/>
<rect x="687.6" y="152.1" width="2.2" height="3" fill="#c8c8cc"/>
<rect x="682.6" y="152.1" width="3" height="2" fill="#38383c"/>
<rect x="673.6" y="151.1" width="4" height="1.5" fill="#3a3a3e"/>
<rect x="687.6" y="160.8" width="2.2" height="3" fill="#c8c8cc"/>
<rect x="682.6" y="160.8" width="3" height="2" fill="#38383c"/>
<rect x="673.6" y="159.8" width="4" height="1.5" fill="#3a3a3e"/>
<rect x="687.6" y="169.4" width="2.2" height="3" fill="#c8c8cc"/>
<rect x="682.6" y="169.4" width="3" height="2" fill="#38383c"/>
<rect x="673.6" y="168.4" width="4" height="1.5" fill="#3a3a3e"/>
<rect x="687.6" y="178.1" width="2.2" height="3" fill="#c8c8cc"/>
<rect x="682.6" y="178.1" width="3" height="2" fill="#38383c"/>
<rect x="673.6" y="177.1" width="4" height="1.5" fill="#3a3a3e"/>
<rect x="687.6" y="186.8" width="2.2" height="3" fill="#c8c8cc"/>
<rect x="682.6" y="186.8" width="3" height="2" fill="#38383c"/>
<rect x="673.6" y="185.8" width="4" height="1.5" fill="#3a3a3e"/>
<polygon points="656.0,108.0 672.5,107.0 672.5,193.0 656.0,194.0" fill="#1e1e20"/>
<polygon points="650.5,99.0 652.5,98.0 659.0,97.0 661.0,98.0 661.0,197.0 650.5,198.0" fill="#161618"/>
<rect x="660.5" y="104.0" width="1" height="91.0" fill="#3a3a3e"/>
<rect x="667.5" y="111.0" width="2.2" height="3" fill="#c8c8cc"/>
<rect x="662.5" y="111.0" width="3" height="2" fill="#38383c"/>
<rect x="653.5" y="110.0" width="4" height="1.5" fill="#3a3a3e"/>
<rect x="667.5" y="119.8" width="2.2" height="3" fill="#c8c8cc"/>
<rect x="662.5" y="119.8" width="3" height="2" fill="#38383c"/>
<rect x="653.5" y="118.8" width="4" height="1.5" fill="#3a3a3e"/>
<rect x="667.5" y="128.6" width="2.2" height="3" fill="#c8c8cc"/>
<rect x="662.5" y="128.6" width="3" height="2" fill="#38383c"/>
<rect x="653.5" y="127.6" width="4" height="1.5" fill="#3a3a3e"/>
<rect x="667.5" y="137.3" width="2.2" height="3" fill="#c8c8cc"/>
<rect x="662.5" y="137.3" width="3" height="2" fill="#38383c"/>
<rect x="653.5" y="136.3" width="4" height="1.5" fill="#3a3a3e"/>
<rect x="667.5" y="146.1" width="2.2" height="3" fill="#c8c8cc"/>
<rect x="662.5" y="146.1" width="3" height="2" fill="#38383c"/>
<rect x="653.5" y="145.1" width="4" height="1.5" fill="#3a3a3e"/>
<rect x="667.5" y="154.9" width="2.2" height="3" fill="#c8c8cc"/>
<rect x="662.5" y="154.9" width="3" height="2" fill="#38383c"/>
<rect x="653.5" y="153.9" width="4" height="1.5" fill="#3a3a3e"/>
<rect x="667.5" y="163.7" width="2.2" height="3" fill="#c8c8cc"/>
<rect x="662.5" y="163.7" width="3" height="2" fill="#38383c"/>
<rect x="653.5" y="162.7" width="4" height="1.5" fill="#3a3a3e"/>
<rect x="667.5" y="172.4" width="2.2" height="3" fill="#c8c8cc"/>
<rect x="662.5" y="172.4" width="3" height="2" fill="#38383c"/>
<rect x="653.5" y="171.4" width="4" height="1.5" fill="#3a3a3e"/>
<rect x="667.5" y="181.2" width="2.2" height="3" fill="#c8c8cc"/>
<rect x="662.5" y="181.2" width="3" height="2" fill="#38383c"/>
<rect x="653.5" y="180.2" width="4" height="1.5" fill="#3a3a3e"/>
<rect x="667.5" y="190.0" width="2.2" height="3" fill="#c8c8cc"/>
<rect x="662.5" y="190.0" width="3" height="2" fill="#38383c"/>
<rect x="653.5" y="189.0" width="4" height="1.5" fill="#3a3a3e"/>
<rect x="734.6" y="79.2" width="11.5" height="62" rx="3" fill="#b4b0a8"/>
<rect x="737.1" y="86.2" width="6.5" height="48" rx="2" fill="#5e4e3c"/>
<rect x="738.6" y="88.2" width="1.5" height="2" fill="#a89880"/><rect x="741.1" y="90.7" width="1.5" height="2" fill="#a89880"/>
<rect x="738.6" y="94.0" width="1.5" height="2" fill="#a89880"/><rect x="741.1" y="96.5" width="1.5" height="2" fill="#a89880"/>
<rect x="738.6" y="99.8" width="1.5" height="2" fill="#a89880"/><rect x="741.1" y="102.3" width="1.5" height="2" fill="#a89880"/>
<rect x="738.6" y="105.6" width="1.5" height="2" fill="#a89880"/><rect x="741.1" y="108.1" width="1.5" height="2" fill="#a89880"/>
<rect x="738.6" y="111.4" width="1.5" height="2" fill="#a89880"/><rect x="741.1" y="113.9" width="1.5" height="2" fill="#a89880"/>
<rect x="738.6" y="117.2" width="1.5" height="2" fill="#a89880"/><rect x="741.1" y="119.7" width="1.5" height="2" fill="#a89880"/>
<rect x="738.6" y="123.0" width="1.5" height="2" fill="#a89880"/><rect x="741.1" y="125.5" width="1.5" height="2" fill="#a89880"/>
<rect x="738.6" y="128.8" width="1.5" height="2" fill="#a89880"/><rect x="741.1" y="131.3" width="1.5" height="2" fill="#a89880"/>
<circle cx="740.1" cy="76.2" r="3.2" fill="#a8a8ac"/>
<circle cx="740.1" cy="144.2" r="3.2" fill="#a8a8ac"/>
<polygon points="735.6,150.2 742.6,149.2 742.6,155.2 748.8,154.2 748.8,183.2 735.6,185.2" fill="#1c1c1e"/>
</g>
<g id="film">
<defs><linearGradient id="tri" x1="0" y1="0" x2="0.35" y2="1"><stop offset="0" stop-color="#fff44a"/><stop offset="0.35" stop-color="#ffd800"/><stop offset="1" stop-color="#f09a00"/></linearGradient><linearGradient id="redw" x1="0" y1="0" x2="0" y2="1"><stop offset="0" stop-color="#e01010"/><stop offset="0.45" stop-color="#ff8080"/><stop offset="0.6" stop-color="#ff3030"/><stop offset="1" stop-color="#c00000"/></linearGradient><linearGradient id="bluew" x1="0" y1="0" x2="0" y2="1"><stop offset="0" stop-color="#2050a0"/><stop offset="0.45" stop-color="#6a90d0"/><stop offset="0.6" stop-color="#3060b0"/><stop offset="1" stop-color="#1a3a80"/></linearGradient></defs>
<rect x="662" y="322" width="160" height="167.5" fill="#b4bcc4"/>
<rect x="662" y="322" width="160" height="2" fill="#d0d6dc"/>
<rect x="662" y="487" width="160" height="2.5" fill="#8a9096"/>
<rect x="670" y="345" width="143" height="3" fill="#7c8288"/>
<rect x="670" y="462" width="143" height="2" fill="#7c8288"/>
<rect x="813" y="346" width="3" height="117" fill="#d0d6dc"/>
<rect x="819" y="330" width="3" height="150" fill="#8a9096"/>
<rect x="662" y="346" width="2" height="117" fill="#8a9096"/>
<rect x="667" y="346" width="3" height="117" fill="#d0d6dc"/>
<rect x="659.0" y="325" width="12.5" height="3" fill="#6a7078"/>
<rect x="659.0" y="328" width="3" height="14" fill="#6a7078"/>
<rect x="662.0" y="328" width="9.5" height="14" fill="#ffffff"/>
<rect x="659.0" y="469.3" width="12.5" height="3" fill="#d4dae0"/>
<rect x="659.0" y="469.8" width="3" height="13.2" fill="#6a7078"/>
<rect x="662.0" y="472.8" width="9.5" height="10.2" fill="#ffffff"/>
<rect x="683.5" y="325" width="13.0" height="3" fill="#6a7078"/>
<rect x="683.5" y="328" width="3" height="14" fill="#6a7078"/>
<rect x="686.5" y="328" width="10.0" height="14" fill="#ffffff"/>
<rect x="683.5" y="469.3" width="13.0" height="3" fill="#d4dae0"/>
<rect x="683.5" y="469.8" width="3" height="13.2" fill="#6a7078"/>
<rect x="686.5" y="472.8" width="10.0" height="10.2" fill="#ffffff"/>
<rect x="709.0" y="325" width="13.0" height="3" fill="#6a7078"/>
<rect x="709.0" y="328" width="3" height="14" fill="#6a7078"/>
<rect x="712.0" y="328" width="10.0" height="14" fill="#ffffff"/>
<rect x="709.0" y="469.3" width="13.0" height="3" fill="#d4dae0"/>
<rect x="709.0" y="469.8" width="3" height="13.2" fill="#6a7078"/>
<rect x="712.0" y="472.8" width="10.0" height="10.2" fill="#ffffff"/>
<rect x="734.5" y="325" width="13.0" height="3" fill="#6a7078"/>
<rect x="734.5" y="328" width="3" height="14" fill="#6a7078"/>
<rect x="737.5" y="328" width="10.0" height="14" fill="#ffffff"/>
<rect x="734.5" y="469.3" width="13.0" height="3" fill="#d4dae0"/>
<rect x="734.5" y="469.8" width="3" height="13.2" fill="#6a7078"/>
<rect x="737.5" y="472.8" width="10.0" height="10.2" fill="#ffffff"/>
<rect x="760.0" y="325" width="13.0" height="3" fill="#6a7078"/>
<rect x="760.0" y="328" width="3" height="14" fill="#6a7078"/>
<rect x="763.0" y="328" width="10.0" height="14" fill="#ffffff"/>
<rect x="760.0" y="469.3" width="13.0" height="3" fill="#d4dae0"/>
<rect x="760.0" y="469.8" width="3" height="13.2" fill="#6a7078"/>
<rect x="763.0" y="472.8" width="10.0" height="10.2" fill="#ffffff"/>
<rect x="785.5" y="325" width="13.0" height="3" fill="#6a7078"/>
<rect x="785.5" y="328" width="3" height="14" fill="#6a7078"/>
<rect x="788.5" y="328" width="10.0" height="14" fill="#ffffff"/>
<rect x="785.5" y="469.3" width="13.0" height="3" fill="#d4dae0"/>
<rect x="785.5" y="469.8" width="3" height="13.2" fill="#6a7078"/>
<rect x="788.5" y="472.8" width="10.0" height="10.2" fill="#ffffff"/>
<rect x="810.0" y="325" width="11.0" height="3" fill="#6a7078"/>
<rect x="810.0" y="328" width="3" height="14" fill="#6a7078"/>
<rect x="813.0" y="328" width="8.0" height="14" fill="#ffffff"/>
<rect x="810.0" y="469.3" width="11.0" height="3" fill="#d4dae0"/>
<rect x="810.0" y="469.8" width="3" height="13.2" fill="#6a7078"/>
<rect x="813.0" y="472.8" width="8.0" height="10.2" fill="#ffffff"/>
<rect x="659" y="322" width="3" height="169" fill="#fff"/>
<rect x="822" y="322" width="3" height="169" fill="#fff"/>
<rect x="670" y="348" width="143" height="114" fill="#000"/>
<path d="M653.0,377.2 L653.5,374.0 L654.0,371.4 L654.5,369.2 L655.0,367.4 L655.5,365.7 L656.0,364.3 L656.5,363.0 L657.0,361.8 L657.5,360.7 L658.0,359.7 L658.5,358.7 L659.0,357.9 L659.5,357.1 L660.0,356.4 L660.5,355.8 L661.0,355.2 L661.5,354.7 L662.0,354.2 L662.5,353.8 L663.0,353.4 L663.5,353.1 L664.0,352.8 L664.5,352.5 L665.0,352.3 L665.5,352.2 L666.0,352.1 L666.5,352.0 L667.0,352.0 L667.5,352.0 L668.0,352.1 L668.5,352.2 L669.0,352.3 L669.5,352.5 L670.0,352.8 L670.5,353.1 L671.0,353.4 L671.5,353.8 L672.0,354.2 L672.5,354.7 L673.0,355.2 L673.5,355.8 L674.0,356.4 L674.5,357.1 L675.0,357.9 L675.5,358.7 L676.0,359.7 L676.5,360.7 L677.0,361.8 L677.5,363.0 L678.0,364.3 L678.5,365.7 L679.0,367.4 L679.5,369.2 L680.0,371.4 L680.5,374.0 L681.0,377.2 L681.5,381.7 L682.0,390.6 L682.5,425.0 L683.0,430.8 L683.5,434.5 L684.0,437.4 L684.5,439.7 L685.0,441.7 L685.5,443.5 L686.0,445.0 L686.5,446.4 L687.0,447.7 L687.5,448.8 L688.0,449.8 L688.5,450.8 L689.0,451.7 L689.5,452.5 L690.0,453.2 L690.5,453.9 L691.0,454.5 L691.5,455.1 L692.0,455.6 L692.5,456.0 L693.0,456.4 L693.5,456.8 L694.0,457.1 L694.5,457.3 L695.0,457.6 L695.5,457.7 L696.0,457.9 L696.5,458.0 L697.0,458.0 L697.5,458.0 L698.0,458.0 L698.5,457.9 L699.0,457.7 L699.5,457.6 L700.0,457.3 L700.5,457.1 L701.0,456.8 L701.5,456.4 L702.0,456.0 L702.5,455.6 L703.0,455.1 L703.5,454.5 L704.0,453.9 L704.5,453.2 L705.0,452.5 L705.5,451.7 L706.0,450.8 L706.5,449.8 L707.0,448.8 L707.5,447.7 L708.0,446.4 L708.5,445.0 L709.0,443.5 L709.5,441.7 L710.0,439.7 L710.5,437.4 L711.0,434.5 L711.5,430.8 L712.0,425.0 L712.5,390.6 L713.0,381.7 L713.5,377.2 L714.0,374.0 L714.5,371.4 L715.0,369.2 L715.5,367.4 L716.0,365.7 L716.5,364.3 L717.0,363.0 L717.5,361.8 L718.0,360.7 L718.5,359.7 L719.0,358.7 L719.5,357.9 L720.0,357.1 L720.5,356.4 L721.0,355.8 L721.5,355.2 L722.0,354.7 L722.5,354.2 L723.0,353.8 L723.5,353.4 L724.0,353.1 L724.5,352.8 L725.0,352.5 L725.5,352.3 L726.0,352.2 L726.5,352.1 L727.0,352.0 L727.5,352.0 L728.0,352.0 L728.5,352.1 L729.0,352.2 L729.5,352.3 L730.0,352.5 L730.5,352.8 L731.0,353.1 L731.5,353.4 L732.0,353.8 L732.5,354.2 L733.0,354.7 L733.5,355.2 L734.0,355.8 L734.5,356.4 L735.0,357.1 L735.5,357.9 L736.0,358.7 L736.5,359.7 L737.0,360.7 L737.5,361.8 L738.0,363.0 L738.5,364.3 L739.0,365.7 L739.5,367.4 L740.0,369.2 L740.5,371.4 L741.0,374.0 L741.5,377.2 L742.0,381.7 L742.5,390.6 L743.0,425.0 L743.5,430.8 L744.0,434.5 L744.5,437.4 L745.0,439.7 L745.5,441.7 L746.0,443.5 L746.5,445.0 L747.0,446.4 L747.5,447.7 L748.0,448.8 L748.5,449.8 L749.0,450.8 L749.5,451.7 L750.0,452.5 L750.5,453.2 L751.0,453.9 L751.5,454.5 L752.0,455.1 L752.5,455.6 L753.0,456.0 L753.5,456.4 L754.0,456.8 L754.5,457.1 L755.0,457.3 L755.5,457.6 L756.0,457.7 L756.5,457.9 L757.0,458.0 L757.5,458.0 L758.0,458.0 L758.5,458.0 L759.0,457.9 L759.5,457.7 L760.0,457.6 L760.5,457.3 L761.0,457.1 L761.5,456.8 L762.0,456.4 L762.5,456.0 L763.0,455.6 L763.5,455.1 L764.0,454.5 L764.5,453.9 L765.0,453.2 L765.5,452.5 L766.0,451.7 L766.5,450.8 L767.0,449.8 L767.5,448.8 L768.0,447.7 L768.5,446.4 L769.0,445.0 L769.5,443.5 L770.0,441.7 L770.5,439.7 L771.0,437.4 L771.5,434.5 L772.0,430.8 L772.5,425.0 L773.0,390.6 L773.5,381.7 L774.0,377.2 L774.5,374.0 L775.0,371.4 L775.5,369.2 L776.0,367.4 L776.5,365.7 L777.0,364.3 L777.5,363.0 L778.0,361.8 L778.5,360.7 L779.0,359.7 L779.5,358.7 L780.0,357.9 L780.5,357.1 L781.0,356.4 L781.5,355.8 L782.0,355.2 L782.5,354.7 L783.0,354.2 L783.5,353.8 L784.0,353.4 L784.5,353.1 L785.0,352.8 L785.5,352.5 L786.0,352.3 L786.5,352.2 L787.0,352.1 L787.5,352.0 L788.0,352.0 L788.5,352.0 L789.0,352.1 L789.5,352.2 L790.0,352.3 L790.5,352.5 L791.0,352.8 L791.5,353.1 L792.0,353.4 L792.5,353.8 L793.0,354.2 L793.5,354.7 L794.0,355.2 L794.5,355.8 L795.0,356.4 L795.5,357.1 L796.0,357.9 L796.5,358.7 L797.0,359.7 L797.5,360.7 L798.0,361.8 L798.5,363.0 L799.0,364.3 L799.5,365.7 L800.0,367.4 L800.5,369.2 L801.0,371.4 L801.5,374.0 L802.0,377.2 L802.5,381.7 L803.0,390.6 L803.5,425.0 L804.0,430.8 L804.5,434.5 L805.0,437.4 L805.5,439.7 L806.0,441.7 L806.5,443.5 L807.0,445.0 L807.5,446.4 L808.0,447.7 L808.5,448.8 L809.0,449.8 L809.5,450.8 L810.0,451.7 L810.5,452.5 L811.0,453.2 L811.5,453.9 L812.0,454.5 L812.5,455.1 L813.0,455.6 L813.5,456.0 L814.0,456.4 L814.5,456.8 L815.0,457.1 L815.5,457.3 L816.0,457.6 L816.5,457.7 L817.0,457.9 L817.5,458.0 L818.0,458.0 L818.5,458.0 L819.0,458.0 L819.5,457.9 L820.0,457.7 L820.5,457.6 L821.0,457.3 L821.5,457.1 L822.0,456.8 L822.5,456.4 L823.0,456.0 L823.5,455.6 L824.0,455.1 L824.5,454.5 L825.0,453.9 L825.5,453.2 L826.0,452.5 L826.5,451.7 L827.0,450.8 L827.5,449.8 L828.0,448.8 L828.5,447.7 L829.0,446.4" fill="none" stroke="#1e7a3a" stroke-width="4.5"/>
<path d="M653.0,377.2 L653.5,374.0 L654.0,371.4 L654.5,369.2 L655.0,367.4 L655.5,365.7 L656.0,364.3 L656.5,363.0 L657.0,361.8 L657.5,360.7 L658.0,359.7 L658.5,358.7 L659.0,357.9 L659.5,357.1 L660.0,356.4 L660.5,355.8 L661.0,355.2 L661.5,354.7 L662.0,354.2 L662.5,353.8 L663.0,353.4 L663.5,353.1 L664.0,352.8 L664.5,352.5 L665.0,352.3 L665.5,352.2 L666.0,352.1 L666.5,352.0 L667.0,352.0 L667.5,352.0 L668.0,352.1 L668.5,352.2 L669.0,352.3 L669.5,352.5 L670.0,352.8 L670.5,353.1 L671.0,353.4 L671.5,353.8 L672.0,354.2 L672.5,354.7 L673.0,355.2 L673.5,355.8 L674.0,356.4 L674.5,357.1 L675.0,357.9 L675.5,358.7 L676.0,359.7 L676.5,360.7 L677.0,361.8 L677.5,363.0 L678.0,364.3 L678.5,365.7 L679.0,367.4 L679.5,369.2 L680.0,371.4 L680.5,374.0 L681.0,377.2 L681.5,381.7 L682.0,390.6 L682.5,425.0 L683.0,430.8 L683.5,434.5 L684.0,437.4 L684.5,439.7 L685.0,441.7 L685.5,443.5 L686.0,445.0 L686.5,446.4 L687.0,447.7 L687.5,448.8 L688.0,449.8 L688.5,450.8 L689.0,451.7 L689.5,452.5 L690.0,453.2 L690.5,453.9 L691.0,454.5 L691.5,455.1 L692.0,455.6 L692.5,456.0 L693.0,456.4 L693.5,456.8 L694.0,457.1 L694.5,457.3 L695.0,457.6 L695.5,457.7 L696.0,457.9 L696.5,458.0 L697.0,458.0 L697.5,458.0 L698.0,458.0 L698.5,457.9 L699.0,457.7 L699.5,457.6 L700.0,457.3 L700.5,457.1 L701.0,456.8 L701.5,456.4 L702.0,456.0 L702.5,455.6 L703.0,455.1 L703.5,454.5 L704.0,453.9 L704.5,453.2 L705.0,452.5 L705.5,451.7 L706.0,450.8 L706.5,449.8 L707.0,448.8 L707.5,447.7 L708.0,446.4 L708.5,445.0 L709.0,443.5 L709.5,441.7 L710.0,439.7 L710.5,437.4 L711.0,434.5 L711.5,430.8 L712.0,425.0 L712.5,390.6 L713.0,381.7 L713.5,377.2 L714.0,374.0 L714.5,371.4 L715.0,369.2 L715.5,367.4 L716.0,365.7 L716.5,364.3 L717.0,363.0 L717.5,361.8 L718.0,360.7 L718.5,359.7 L719.0,358.7 L719.5,357.9 L720.0,357.1 L720.5,356.4 L721.0,355.8 L721.5,355.2 L722.0,354.7 L722.5,354.2 L723.0,353.8 L723.5,353.4 L724.0,353.1 L724.5,352.8 L725.0,352.5 L725.5,352.3 L726.0,352.2 L726.5,352.1 L727.0,352.0 L727.5,352.0 L728.0,352.0 L728.5,352.1 L729.0,352.2 L729.5,352.3 L730.0,352.5 L730.5,352.8 L731.0,353.1 L731.5,353.4 L732.0,353.8 L732.5,354.2 L733.0,354.7 L733.5,355.2 L734.0,355.8 L734.5,356.4 L735.0,357.1 L735.5,357.9 L736.0,358.7 L736.5,359.7 L737.0,360.7 L737.5,361.8 L738.0,363.0 L738.5,364.3 L739.0,365.7 L739.5,367.4 L740.0,369.2 L740.5,371.4 L741.0,374.0 L741.5,377.2 L742.0,381.7 L742.5,390.6 L743.0,425.0 L743.5,430.8 L744.0,434.5 L744.5,437.4 L745.0,439.7 L745.5,441.7 L746.0,443.5 L746.5,445.0 L747.0,446.4 L747.5,447.7 L748.0,448.8 L748.5,449.8 L749.0,450.8 L749.5,451.7 L750.0,452.5 L750.5,453.2 L751.0,453.9 L751.5,454.5 L752.0,455.1 L752.5,455.6 L753.0,456.0 L753.5,456.4 L754.0,456.8 L754.5,457.1 L755.0,457.3 L755.5,457.6 L756.0,457.7 L756.5,457.9 L757.0,458.0 L757.5,458.0 L758.0,458.0 L758.5,458.0 L759.0,457.9 L759.5,457.7 L760.0,457.6 L760.5,457.3 L761.0,457.1 L761.5,456.8 L762.0,456.4 L762.5,456.0 L763.0,455.6 L763.5,455.1 L764.0,454.5 L764.5,453.9 L765.0,453.2 L765.5,452.5 L766.0,451.7 L766.5,450.8 L767.0,449.8 L767.5,448.8 L768.0,447.7 L768.5,446.4 L769.0,445.0 L769.5,443.5 L770.0,441.7 L770.5,439.7 L771.0,437.4 L771.5,434.5 L772.0,430.8 L772.5,425.0 L773.0,390.6 L773.5,381.7 L774.0,377.2 L774.5,374.0 L775.0,371.4 L775.5,369.2 L776.0,367.4 L776.5,365.7 L777.0,364.3 L777.5,363.0 L778.0,361.8 L778.5,360.7 L779.0,359.7 L779.5,358.7 L780.0,357.9 L780.5,357.1 L781.0,356.4 L781.5,355.8 L782.0,355.2 L782.5,354.7 L783.0,354.2 L783.5,353.8 L784.0,353.4 L784.5,353.1 L785.0,352.8 L785.5,352.5 L786.0,352.3 L786.5,352.2 L787.0,352.1 L787.5,352.0 L788.0,352.0 L788.5,352.0 L789.0,352.1 L789.5,352.2 L790.0,352.3 L790.5,352.5 L791.0,352.8 L791.5,353.1 L792.0,353.4 L792.5,353.8 L793.0,354.2 L793.5,354.7 L794.0,355.2 L794.5,355.8 L795.0,356.4 L795.5,357.1 L796.0,357.9 L796.5,358.7 L797.0,359.7 L797.5,360.7 L798.0,361.8 L798.5,363.0 L799.0,364.3 L799.5,365.7 L800.0,367.4 L800.5,369.2 L801.0,371.4 L801.5,374.0 L802.0,377.2 L802.5,381.7 L803.0,390.6 L803.5,425.0 L804.0,430.8 L804.5,434.5 L805.0,437.4 L805.5,439.7 L806.0,441.7 L806.5,443.5 L807.0,445.0 L807.5,446.4 L808.0,447.7 L808.5,448.8 L809.0,449.8 L809.5,450.8 L810.0,451.7 L810.5,452.5 L811.0,453.2 L811.5,453.9 L812.0,454.5 L812.5,455.1 L813.0,455.6 L813.5,456.0 L814.0,456.4 L814.5,456.8 L815.0,457.1 L815.5,457.3 L816.0,457.6 L816.5,457.7 L817.0,457.9 L817.5,458.0 L818.0,458.0 L818.5,458.0 L819.0,458.0 L819.5,457.9 L820.0,457.7 L820.5,457.6 L821.0,457.3 L821.5,457.1 L822.0,456.8 L822.5,456.4 L823.0,456.0 L823.5,455.6 L824.0,455.1 L824.5,454.5 L825.0,453.9 L825.5,453.2 L826.0,452.5 L826.5,451.7 L827.0,450.8 L827.5,449.8 L828.0,448.8 L828.5,447.7 L829.0,446.4" fill="none" stroke="#5cc47a" stroke-width="2.2"/>
<rect x="653" y="376" width="46" height="10.5" fill="url(#redw)"/>
<rect x="653" y="422.5" width="46" height="10" fill="url(#bluew)"/>
<rect x="798" y="400" width="34" height="11.5" fill="url(#redw)"/>
<path d="M703,350 L799,404 M799,408 L703,459" stroke="#000" stroke-width="3.5" fill="none"/>
<path d="M703,350 L799,404 M799,408 L703,459" stroke="#7a7a7a" stroke-width="2" stroke-dasharray="2,2.5" fill="none"/>
<polygon points="705,359 795,405.5 705,451" fill="url(#tri)"/>
<path d="M707,361 L790,404" stroke="#fffac0" stroke-width="1.5" fill="none"/>
<rect x="704.5" y="359" width="2.5" height="92" fill="#8a6a00"/>
<path d="M719,405.8 H752 M735,389 V422" stroke="#909090" stroke-width="11" fill="none"/>
<path d="M721,405.8 H750 M735,391 V420" stroke="#000" stroke-width="5.5" fill="none"/>
</g>
<g id="chip">
<rect x="60" y="43.3" width="128" height="4" fill="#d4a020"/>
<rect x="60" y="175" width="128" height="3" fill="#d4a020"/>
<rect x="67.9" y="8.6" width="6" height="19" fill="#d4a020"/>
<rect x="70.4" y="8.6" width="3" height="19" fill="#000"/>
<rect x="65.3" y="26.2" width="11.2" height="19" fill="#d4a020"/>
<rect x="67.9" y="28.6" width="6" height="17" fill="#000"/>
<rect x="65.3" y="176" width="11.2" height="19" fill="#d4a020"/>
<rect x="67.9" y="176" width="6" height="17" fill="#000"/>
<rect x="67.9" y="193" width="6" height="21.5" fill="#d4a020"/>
<rect x="70.4" y="193" width="3" height="20.5" fill="#000"/>
<rect x="81.2" y="8.6" width="6" height="19" fill="#d4a020"/>
<rect x="82.7" y="8.6" width="3" height="19" fill="#000"/>
<rect x="78.6" y="26.2" width="11.2" height="19" fill="#d4a020"/>
<rect x="81.2" y="28.6" width="6" height="17" fill="#000"/>
<rect x="78.6" y="176" width="11.2" height="19" fill="#d4a020"/>
<rect x="81.2" y="176" width="6" height="17" fill="#000"/>
<rect x="81.2" y="193" width="6" height="21.5" fill="#d4a020"/>
<rect x="82.7" y="193" width="3" height="20.5" fill="#000"/>
<rect x="94.5" y="8.6" width="6" height="19" fill="#d4a020"/>
<rect x="97.0" y="8.6" width="3" height="19" fill="#000"/>
<rect x="91.9" y="26.2" width="11.2" height="19" fill="#d4a020"/>
<rect x="94.5" y="28.6" width="6" height="17" fill="#000"/>
<rect x="91.9" y="176" width="11.2" height="19" fill="#d4a020"/>
<rect x="94.5" y="176" width="6" height="17" fill="#000"/>
<rect x="94.5" y="193" width="6" height="21.5" fill="#d4a020"/>
<rect x="97.0" y="193" width="3" height="20.5" fill="#000"/>
<rect x="107.8" y="8.6" width="6" height="19" fill="#d4a020"/>
<rect x="109.3" y="8.6" width="3" height="19" fill="#000"/>
<rect x="105.2" y="26.2" width="11.2" height="19" fill="#d4a020"/>
<rect x="107.8" y="28.6" width="6" height="17" fill="#000"/>
<rect x="105.2" y="176" width="11.2" height="19" fill="#d4a020"/>
<rect x="107.8" y="176" width="6" height="17" fill="#000"/>
<rect x="107.8" y="193" width="6" height="21.5" fill="#d4a020"/>
<rect x="109.3" y="193" width="3" height="20.5" fill="#000"/>
<rect x="121.1" y="8.6" width="6" height="19" fill="#d4a020"/>
<rect x="123.6" y="8.6" width="3" height="19" fill="#000"/>
<rect x="118.5" y="26.2" width="11.2" height="19" fill="#d4a020"/>
<rect x="121.1" y="28.6" width="6" height="17" fill="#000"/>
<rect x="118.5" y="176" width="11.2" height="19" fill="#d4a020"/>
<rect x="121.1" y="176" width="6" height="17" fill="#000"/>
<rect x="121.1" y="193" width="6" height="21.5" fill="#d4a020"/>
<rect x="123.6" y="193" width="3" height="20.5" fill="#000"/>
<rect x="134.4" y="8.6" width="6" height="19" fill="#d4a020"/>
<rect x="135.9" y="8.6" width="3" height="19" fill="#000"/>
<rect x="131.8" y="26.2" width="11.2" height="19" fill="#d4a020"/>
<rect x="134.4" y="28.6" width="6" height="17" fill="#000"/>
<rect x="131.8" y="176" width="11.2" height="19" fill="#d4a020"/>
<rect x="134.4" y="176" width="6" height="17" fill="#000"/>
<rect x="134.4" y="193" width="6" height="21.5" fill="#d4a020"/>
<rect x="135.9" y="193" width="3" height="20.5" fill="#000"/>
<rect x="147.7" y="8.6" width="6" height="19" fill="#d4a020"/>
<rect x="150.2" y="8.6" width="3" height="19" fill="#000"/>
<rect x="145.1" y="26.2" width="11.2" height="19" fill="#d4a020"/>
<rect x="147.7" y="28.6" width="6" height="17" fill="#000"/>
<rect x="145.1" y="176" width="11.2" height="19" fill="#d4a020"/>
<rect x="147.7" y="176" width="6" height="17" fill="#000"/>
<rect x="147.7" y="193" width="6" height="21.5" fill="#d4a020"/>
<rect x="150.2" y="193" width="3" height="20.5" fill="#000"/>
<rect x="161.0" y="8.6" width="6" height="19" fill="#d4a020"/>
<rect x="162.5" y="8.6" width="3" height="19" fill="#000"/>
<rect x="158.4" y="26.2" width="11.2" height="19" fill="#d4a020"/>
<rect x="161.0" y="28.6" width="6" height="17" fill="#000"/>
<rect x="158.4" y="176" width="11.2" height="19" fill="#d4a020"/>
<rect x="161.0" y="176" width="6" height="17" fill="#000"/>
<rect x="161.0" y="193" width="6" height="21.5" fill="#d4a020"/>
<rect x="162.5" y="193" width="3" height="20.5" fill="#000"/>
<rect x="174.3" y="8.6" width="6" height="19" fill="#d4a020"/>
<rect x="176.8" y="8.6" width="3" height="19" fill="#000"/>
<rect x="171.7" y="26.2" width="11.2" height="19" fill="#d4a020"/>
<rect x="174.3" y="28.6" width="6" height="17" fill="#000"/>
<rect x="171.7" y="176" width="11.2" height="19" fill="#d4a020"/>
<rect x="174.3" y="176" width="6" height="17" fill="#000"/>
<rect x="174.3" y="193" width="6" height="21.5" fill="#d4a020"/>
<rect x="176.8" y="193" width="3" height="20.5" fill="#000"/>
<rect x="40" y="52.4" width="19" height="11.2" fill="#d4a020"/>
<rect x="40" y="55.0" width="19" height="6" fill="#000"/>
<rect x="21.5" y="55.0" width="19" height="6" fill="#d4a020"/>
<rect x="21.5" y="57.5" width="19" height="3" fill="#000"/>
<rect x="189" y="52.4" width="19" height="11.2" fill="#d4a020"/>
<rect x="189" y="55.0" width="19" height="6" fill="#000"/>
<rect x="207" y="55.0" width="20.5" height="6" fill="#d4a020"/>
<rect x="207" y="57.5" width="20.5" height="3" fill="#000"/>
<rect x="40" y="65.7" width="19" height="11.2" fill="#d4a020"/>
<rect x="40" y="68.3" width="19" height="6" fill="#000"/>
<rect x="21.5" y="68.3" width="19" height="6" fill="#d4a020"/>
<rect x="21.5" y="69.8" width="19" height="3" fill="#000"/>
<rect x="189" y="65.7" width="19" height="11.2" fill="#d4a020"/>
<rect x="189" y="68.3" width="19" height="6" fill="#000"/>
<rect x="207" y="68.3" width="20.5" height="6" fill="#d4a020"/>
<rect x="207" y="69.8" width="20.5" height="3" fill="#000"/>
<rect x="40" y="79.0" width="19" height="11.2" fill="#d4a020"/>
<rect x="40" y="81.6" width="19" height="6" fill="#000"/>
<rect x="21.5" y="81.6" width="19" height="6" fill="#d4a020"/>
<rect x="21.5" y="84.1" width="19" height="3" fill="#000"/>
<rect x="189" y="79.0" width="19" height="11.2" fill="#d4a020"/>
<rect x="189" y="81.6" width="19" height="6" fill="#000"/>
<rect x="207" y="81.6" width="20.5" height="6" fill="#d4a020"/>
<rect x="207" y="84.1" width="20.5" height="3" fill="#000"/>
<rect x="40" y="92.3" width="19" height="11.2" fill="#d4a020"/>
<rect x="40" y="94.9" width="19" height="6" fill="#000"/>
<rect x="21.5" y="94.9" width="19" height="6" fill="#d4a020"/>
<rect x="21.5" y="96.4" width="19" height="3" fill="#000"/>
<rect x="189" y="92.3" width="19" height="11.2" fill="#d4a020"/>
<rect x="189" y="94.9" width="19" height="6" fill="#000"/>
<rect x="207" y="94.9" width="20.5" height="6" fill="#d4a020"/>
<rect x="207" y="96.4" width="20.5" height="3" fill="#000"/>
<rect x="40" y="105.6" width="19" height="11.2" fill="#d4a020"/>
<rect x="40" y="108.2" width="19" height="6" fill="#000"/>
<rect x="21.5" y="108.2" width="19" height="6" fill="#d4a020"/>
<rect x="21.5" y="110.7" width="19" height="3" fill="#000"/>
<rect x="189" y="105.6" width="19" height="11.2" fill="#d4a020"/>
<rect x="189" y="108.2" width="19" height="6" fill="#000"/>
<rect x="207" y="108.2" width="20.5" height="6" fill="#d4a020"/>
<rect x="207" y="110.7" width="20.5" height="3" fill="#000"/>
<rect x="40" y="118.9" width="19" height="11.2" fill="#d4a020"/>
<rect x="40" y="121.5" width="19" height="6" fill="#000"/>
<rect x="21.5" y="121.5" width="19" height="6" fill="#d4a020"/>
<rect x="21.5" y="123.0" width="19" height="3" fill="#000"/>
<rect x="189" y="118.9" width="19" height="11.2" fill="#d4a020"/>
<rect x="189" y="121.5" width="19" height="6" fill="#000"/>
<rect x="207" y="121.5" width="20.5" height="6" fill="#d4a020"/>
<rect x="207" y="123.0" width="20.5" height="3" fill="#000"/>
<rect x="40" y="132.2" width="19" height="11.2" fill="#d4a020"/>
<rect x="40" y="134.8" width="19" height="6" fill="#000"/>
<rect x="21.5" y="134.8" width="19" height="6" fill="#d4a020"/>
<rect x="21.5" y="137.3" width="19" height="3" fill="#000"/>
<rect x="189" y="132.2" width="19" height="11.2" fill="#d4a020"/>
<rect x="189" y="134.8" width="19" height="6" fill="#000"/>
<rect x="207" y="134.8" width="20.5" height="6" fill="#d4a020"/>
<rect x="207" y="137.3" width="20.5" height="3" fill="#000"/>
<rect x="40" y="145.5" width="19" height="11.2" fill="#d4a020"/>
<rect x="40" y="148.1" width="19" height="6" fill="#000"/>
<rect x="21.5" y="148.1" width="19" height="6" fill="#d4a020"/>
<rect x="21.5" y="149.6" width="19" height="3" fill="#000"/>
<rect x="189" y="145.5" width="19" height="11.2" fill="#d4a020"/>
<rect x="189" y="148.1" width="19" height="6" fill="#000"/>
<rect x="207" y="148.1" width="20.5" height="6" fill="#d4a020"/>
<rect x="207" y="149.6" width="20.5" height="3" fill="#000"/>
<rect x="40" y="158.8" width="19" height="11.2" fill="#d4a020"/>
<rect x="40" y="161.4" width="19" height="6" fill="#000"/>
<rect x="21.5" y="161.4" width="19" height="6" fill="#d4a020"/>
<rect x="21.5" y="163.9" width="19" height="3" fill="#000"/>
<rect x="189" y="158.8" width="19" height="11.2" fill="#d4a020"/>
<rect x="189" y="161.4" width="19" height="6" fill="#000"/>
<rect x="207" y="161.4" width="20.5" height="6" fill="#d4a020"/>
<rect x="207" y="163.9" width="20.5" height="3" fill="#000"/>
<rect x="59" y="47" width="131" height="130" fill="#8c8c8c"/>
<rect x="61" y="49" width="126" height="126" fill="#dcdce2"/>
<rect x="65" y="52.5" width="119" height="118" fill="#3a2200"/>
<rect x="68" y="55" width="113" height="112" fill="#ffb400"/>
<rect x="68" y="165" width="113" height="2" fill="#e09a00"/>
<rect x="79" y="92" width="14" height="6.5" fill="#ff1010"/>
<rect x="79" y="125.5" width="14" height="6.5" fill="#2050b0"/>
<rect x="158" y="108" width="11" height="7.5" fill="#ff2020"/>
<polygon points="92,75.5 160.5,111.5 92,147.5" fill="#ffff10" stroke="#101000" stroke-width="2.2" stroke-linejoin="miter"/>
<rect x="91.5" y="77" width="3" height="69" fill="#6a6400"/>
<rect x="106" y="108" width="22.5" height="7" fill="#101000"/>
<rect x="113.5" y="101" width="7" height="21" fill="#101000"/>
</g>
<g id="diagram">
<!-- frame -->
<rect x="63" y="276" width="516" height="320" rx="1.5" fill="none" stroke="#808080" stroke-width="8"/>
<rect x="570" y="544" width="16" height="3" fill="#fff"/>
<rect x="572" y="547" width="11" height="3" fill="#8a8a8a"/>
<!-- title label -->
<rect x="59.5" y="252.5" width="157" height="18.5" fill="#fff" stroke="#000" stroke-width="1.2"/>
<text x="61" y="267.5" font-size="14.5" fill="#111" textLength="151" lengthAdjust="spacingAndGlyphs">Pulse Width Modulation</text>

<!-- blue wires -->
<g fill="none" stroke="#2222cc" stroke-width="2">
<path d="M133,329 H277"/>
<path d="M173,329 V391 H184"/>
<path d="M80,417 H184"/>
<path d="M219,403 H268"/>
<path d="M277,343 H268 V417 H561"/>
<path d="M305,337 H484"/>
<path d="M309,337 V459 H321"/>
<path d="M387,377 H464 V351 H484"/>
<path d="M227,473 H321"/>
</g>
<rect x="307.5" y="414.8" width="3" height="1.2" fill="#fff"/><rect x="307.5" y="418" width="3" height="1.2" fill="#fff"/>
<!-- green dotted wires -->
<g fill="none" stroke="#1a8a1a" stroke-width="1.4" stroke-dasharray="1.4,1.6">
<path d="M46,387.5 H59"/>
<path d="M80,388.5 H118.5 V404.5 H184"/>
<path d="M512,344.5 H553.5 V388.5 H561"/>
<path d="M348,466.5 H370"/>
<path d="M359.5,466.5 V524 H373"/>
<path d="M178,523.5 H200"/>
</g>
<!-- junction dots -->
<g fill="#1818d0">
<circle cx="173" cy="329" r="3.3"/>
<circle cx="268" cy="403" r="3.3"/>
<circle cx="309" cy="337" r="3.3"/>
</g>
<circle cx="359.5" cy="466.5" r="3.3" fill="#2a9a2a"/><circle cx="359.5" cy="466.5" r="1.1" fill="#e8ffe8"/>

<!-- Tnow label -->
<rect x="86.5" y="286.5" width="41" height="20" fill="#fff" stroke="#000" stroke-width="1.2"/>
<text x="88" y="302" font-size="14.5" fill="#111" textLength="36" lengthAdjust="spacingAndGlyphs">Tnow</text>
<!-- Tnow icon -->
<path d="M86,306 H130 L134,310.5 V339 L128,347 L121,352.5 H95 L88,347 L82,339 V310.5 Z" fill="#fff" stroke="#6e90ff" stroke-width="1.6"/>
<path d="M87.5,308 H128.5 L131.5,311 V338 L126.5,345 L120,350 H96 L89.5,345 L84.5,338 V311 Z" fill="none" stroke="#c8d8ff" stroke-width="1.2"/>
<rect x="87" y="307" width="42" height="38.5" fill="#d6d6d6" stroke="#151515" stroke-width="1.6"/>
<rect x="86" y="305" width="43" height="2.6" fill="#000"/>
<circle cx="107.8" cy="328" r="10.2" fill="#fff" stroke="#111" stroke-width="2.2"/>
<path d="M104.5,313.5 H111 L110,316 H105.5 Z" fill="#333"/>
<rect x="106.5" y="315.5" width="2.6" height="3" fill="#222"/>
<path d="M97.5,318.5 L99.5,320.5 M118,318.5 L116,320.5" stroke="#222" stroke-width="2"/>
<text x="107.8" y="333.5" font-size="15" font-weight="bold" text-anchor="middle" fill="#111">?</text>
<polygon points="91,342 107.5,336.5 124,342 107.5,349.5" fill="#22a022" stroke="#0a4a0a" stroke-width="1.2"/>
<path d="M93,345.5 L107.5,352 L122,345.5" fill="none" stroke="#c8c040" stroke-width="2.8" stroke-dasharray="1.5,1.3"/>
<!-- select node -->
<polygon points="184.5,385.5 218.5,403.3 184.5,421" fill="#ffffcc" stroke="#111" stroke-width="1.3"/>
<rect x="183.5" y="385" width="2.2" height="36.5" fill="#111"/>
<path d="M187,391.5 L198.5,403 L187,415" fill="none" stroke="#111" stroke-width="2.8"/>
<path d="M198,403.3 H212" fill="none" stroke="#111" stroke-width="2.8"/>
<text x="189.6" y="407" font-size="10" font-weight="bold" text-anchor="middle" fill="#111">?</text>
<text x="200.5" y="400" font-size="6" font-weight="bold" text-anchor="middle" fill="#111">T</text>
<text x="200.3" y="411" font-size="6" font-weight="bold" text-anchor="middle" fill="#111">F</text>

<!-- subtract -->
<polygon points="277.5,322 304.5,336.3 277.5,350" fill="#ffffcc" stroke="#111" stroke-width="1.3"/>
<rect x="276.8" y="321.5" width="2" height="29" fill="#111"/>
<rect x="282" y="335.5" width="7" height="2" fill="#111"/>

<!-- Telapsed label -->
<rect x="332.5" y="312.5" width="111" height="19.5" fill="#ffffd8" stroke="#000" stroke-width="1.2"/>
<text x="335" y="327.5" font-size="14.5" fill="#111" textLength="105" lengthAdjust="spacingAndGlyphs">Telapsed (Ticks)</text>
<!-- Tf label -->
<rect x="344.5" y="345.5" width="105" height="19" fill="#fff" stroke="#000" stroke-width="1.2"/>
<text x="346" y="360.5" font-size="14.5" fill="#111" textLength="101" lengthAdjust="spacingAndGlyphs">Tf_PWM (Ticks)</text>

<!-- GE node -->
<polygon points="484.5,330.5 512,344.2 484.5,358" fill="#ffffcc" stroke="#111" stroke-width="1.3"/>
<rect x="483.8" y="330" width="2" height="28.5" fill="#111"/>
<path d="M490,337.7 L497,341.3 L490.4,345 M490.8,348.8 L497.3,345.6" fill="none" stroke="#111" stroke-width="2.2"/>

<!-- less node -->
<polygon points="321.5,452.5 348.5,466.4 321.5,480" fill="#ffffcc" stroke="#111" stroke-width="1.3"/>
<rect x="320.8" y="452" width="2" height="28.5" fill="#111"/>
<path d="M332.5,462 L324.5,466.5 L332.5,471" fill="none" stroke="#111" stroke-width="2.6"/>

<!-- shift registers -->
<g>
<rect x="60.2" y="380.7" width="18.6" height="13.6" fill="#ffffcc" stroke="#138a13" stroke-width="2.5"/>
<polygon points="62.5,385.5 76.5,385.5 69.5,391.5" fill="#107a10"/>
<rect x="60.2" y="409.7" width="18.6" height="13.6" fill="#ffffcc" stroke="#1010e0" stroke-width="2.8"/>
<polygon points="62.5,413.8 76.5,413.8 69.5,420.3" fill="#1010e0"/>
<rect x="562.2" y="380.7" width="18.6" height="13.6" fill="#ffffcc" stroke="#138a13" stroke-width="2.5"/>
<polygon points="565,391 578,391 571.5,385" fill="#107a10"/>
<rect x="562.2" y="409.7" width="18.6" height="13.6" fill="#ffffcc" stroke="#1010e0" stroke-width="2.8"/>
<polygon points="565,420 578,420 571.5,413.5" fill="#1010e0"/>
</g>

<!-- T constant -->
<rect x="11.5" y="378" width="33.5" height="16" fill="#fff" stroke="#188818" stroke-width="2.8"/>
<rect x="15" y="381" width="13" height="11" fill="#107010"/>
<text x="21.5" y="390.5" font-size="11" font-weight="bold" text-anchor="middle" fill="#fff">T</text>
<path d="M33,383 L36,385 L33,387 L36,389.5 M37,383 L36,385" fill="none" stroke="#107010" stroke-width="1"/>
<!-- Ton label -->
<rect x="19.5" y="408" width="30" height="18.5" fill="#ffffd8" stroke="#000" stroke-width="1.2"/>
<text x="21.5" y="422.5" font-size="14.5" fill="#111" textLength="25" lengthAdjust="spacingAndGlyphs">Ton</text>

<!-- U32 Tf -->
<g id="u32a">
<rect x="344.3" y="365.6" width="43.5" height="22" fill="#1414e6"/>
<rect x="347.3" y="368.3" width="37.5" height="16.5" fill="#c8c8ff"/>
<rect x="348.3" y="369.3" width="35.5" height="14.5" fill="#1414c0"/>
<rect x="349.5" y="370.5" width="33" height="12" fill="#fff"/>
<rect x="374" y="368.3" width="11" height="16.5" fill="#9a9aff" opacity="0.8"/>
<text x="365.5" y="380.6" font-size="11" font-weight="bold" text-anchor="middle" fill="#1010a0" stroke="#1010a0" stroke-width="0.5" textLength="22" lengthAdjust="spacingAndGlyphs">U32</text>
<polygon points="381.3,373 385.3,376.7 381.3,380.3" fill="#000"/>
</g>
<!-- Th label -->
<rect x="184.5" y="441.5" width="107" height="19.5" fill="#fff" stroke="#000" stroke-width="1.2"/>
<text x="186" y="456.5" font-size="14.5" fill="#111" textLength="102" lengthAdjust="spacingAndGlyphs">Th_PWM (Ticks)</text>
<g transform="translate(-160.5,95.9)">
<rect x="344.3" y="365.6" width="43.5" height="22" fill="#1414e6"/>
<rect x="347.3" y="368.3" width="37.5" height="16.5" fill="#c8c8ff"/>
<rect x="348.3" y="369.3" width="35.5" height="14.5" fill="#1414c0"/>
<rect x="349.5" y="370.5" width="33" height="12" fill="#fff"/>
<rect x="374" y="368.3" width="11" height="16.5" fill="#9a9aff" opacity="0.8"/>
<text x="365.5" y="380.6" font-size="11" font-weight="bold" text-anchor="middle" fill="#1010a0" stroke="#1010a0" stroke-width="0.5" textLength="22" lengthAdjust="spacingAndGlyphs">U32</text>
<polygon points="381.3,373 385.3,376.7 381.3,380.3" fill="#000"/>
</g>

<!-- PWM Output label -->
<rect x="370.5" y="433.5" width="87.5" height="19" fill="#fff" stroke="#000" stroke-width="1.2"/>
<text x="372" y="448.5" font-size="14.5" fill="#111" textLength="83" lengthAdjust="spacingAndGlyphs">PWM Output</text>
<!-- TF indicator -->
<rect x="370.8" y="454" width="42.5" height="20.5" fill="#fff" stroke="#1a8a1a" stroke-width="1.5"/>
<rect x="372.5" y="455.7" width="39" height="17" fill="none" stroke="#9ad49a" stroke-width="2"/>
<rect x="374.5" y="458" width="35" height="12.5" fill="#fff" stroke="#107010" stroke-width="1.2"/>
<rect x="372" y="456" width="11" height="16" fill="#b8dcb8" opacity="0.8"/>
<polygon points="375.5,460.5 379.5,464.3 375.5,468" fill="#000"/>
<text x="384" y="468.6" font-size="12" font-weight="bold" fill="#107010" textLength="17.5" lengthAdjust="spacing">TF</text>

<!-- FPGA IO node -->
<rect x="371.5" y="485.5" width="167" height="51" fill="#fff" stroke="#9a149a" stroke-width="3"/>
<rect x="375.5" y="489" width="159" height="24" fill="#f0b4f8" stroke="#9a149a" stroke-width="1"/>
<rect x="375.5" y="513" width="159" height="20" fill="#fff" stroke="#c060c0" stroke-width="1"/>
<polygon points="373,520 378,524 373,528" fill="#000"/>
<text x="380.5" y="528.5" font-size="14.5" fill="#3a9a2a" textLength="146.5" lengthAdjust="spacingAndGlyphs">Slot7/cRIO-9474/DO 7</text>
<path d="M441.2,499.3 H444 V494 H450.3 V496.5 M455,499.3 H456.6 V494 H462 V499.3 H468.4 V496" fill="none" stroke="#1a0a1a" stroke-width="1.8"/>
<circle cx="451.2" cy="498.8" r="1.3" fill="#1a0a1a"/>
<path d="M441.5,509.2 H450.3 V504" fill="none" stroke="#1a0a1a" stroke-width="1.9"/>
<polygon points="447,505 450.3,501.5 453.6,505" fill="#1a0a1a"/>

<!-- F constant -->
<rect x="143.5" y="515.2" width="33" height="16" fill="#fff" stroke="#188818" stroke-width="2.8"/>
<rect x="160" y="518" width="13.5" height="10.8" fill="#107010"/>
<text x="166.8" y="527.8" font-size="11" font-weight="bold" text-anchor="middle" fill="#fff">F</text>
<path d="M149,520 L152,522 L149,524 L152,526.5 M153,520 L152,522" fill="none" stroke="#107010" stroke-width="1"/>
<!-- stop -->
<rect x="201" y="513.5" width="20" height="20" fill="#ffffd0" stroke="#2a8a2a" stroke-width="2"/>
<polygon points="207.5,515.5 214,515.5 218.5,520 218.5,527 214,531.5 207.5,531.5 203,527 203,520" fill="#fff" stroke="#332211" stroke-width="1.6"/>
<polygon points="208.5,518 213,518 216,521 216,526 213,529 208.5,529 205.5,526 205.5,521" fill="#ff1010"/>
<!-- i terminal -->
<rect x="76.5" y="520.5" width="19.5" height="19" fill="#ffffd0" stroke="#0000e0" stroke-width="3"/>
<text x="86.3" y="535" font-size="15" font-weight="bold" text-anchor="middle" fill="#1010a0">i</text>
</g>

<rect x="0.5" y="0.5" width="839" height="551" fill="none" stroke="#4a4a4a" stroke-width="1"/>
</svg>
</div></body></html>
